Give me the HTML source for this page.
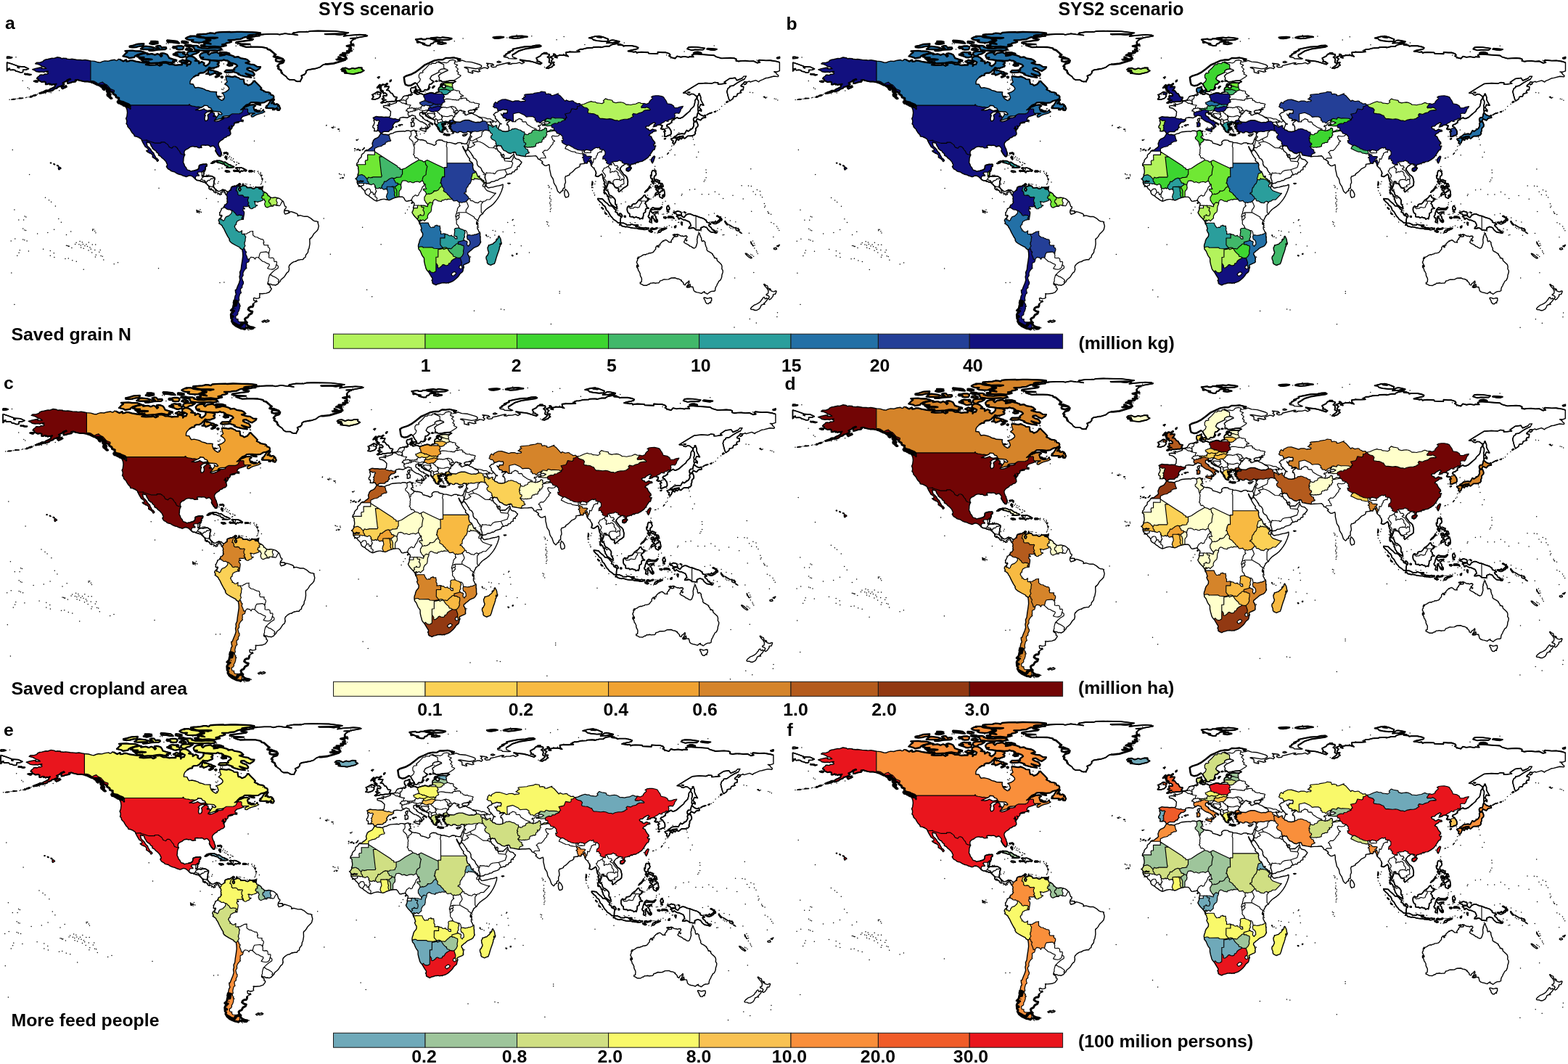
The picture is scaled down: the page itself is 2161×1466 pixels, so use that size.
<!DOCTYPE html>
<html lang="en"><head><meta charset="utf-8"><title>Figure</title>
<style>
html,body{margin:0;padding:0;background:#fff}
body{width:2161px;height:1466px;overflow:hidden;position:relative}
svg{position:absolute;left:0;top:0;display:block}
text{font-family:"Liberation Sans",Arial,Helvetica,sans-serif;font-weight:bold;fill:#000}
.ln{fill:none;stroke:#000;stroke-width:1.15;stroke-linejoin:round;stroke-linecap:round}
.cs{fill:none;stroke:#000;stroke-width:1.4;stroke-linejoin:round}
.lg rect{stroke:#1a1a1a;stroke-width:1}
</style></head><body>
<svg xmlns="http://www.w3.org/2000/svg" width="2161" height="1466" viewBox="0 0 2161 1466">
<defs>
<g id="world"><path class="cs" d="M78.8,78.8L83.3,79.5L85.5,80.8L86.8,80.2L91.8,80.4L91.6,81.1L96.1,81.6L99.1,81.3L105.4,82.2L111.0,82.5L113.3,82.9L117.3,82.4L121.8,83.3L124.9,83.9L130.5,84.4L135.1,85.8L138.2,86.1L140.8,84.9L144.4,83.9L148.8,84.3L153.2,83.0L158.1,82.3L160.1,83.5L162.3,82.8L163.0,81.4L165.0,81.7L170.0,84.4L174.0,82.4L174.4,84.6L178.0,84.2L179.1,83.3L182.7,83.4L187.2,84.7L194.1,85.8L198.2,86.3L201.1,86.1L205.1,87.6L200.9,89.1L206.3,89.7L214.3,89.3L216.8,88.8L219.9,90.6L223.2,89.1L220.1,87.8L222.0,86.8L225.6,86.7L228.0,86.4L230.4,87.1L233.4,88.7L236.7,88.5L241.9,89.8L246.5,89.3L250.8,89.4L250.5,87.6L253.1,87.0L257.7,88.1L257.6,90.9L259.5,88.5L261.9,88.6L263.3,85.6L260.1,83.8L256.6,82.6L256.9,79.3L260.4,77.2L264.3,77.6L267.3,78.9L271.3,82.3L268.7,83.7L274.2,84.3L274.2,87.4L278.1,85.0L281.6,86.9L280.7,89.1L283.6,91.1L286.7,89.0L288.9,86.5L289.0,83.2L293.2,83.4L297.6,83.9L301.6,85.3L301.8,86.8L299.6,88.4L301.6,89.9L301.2,91.4L295.5,93.5L291.3,93.9L288.3,93.0L287.4,94.5L284.6,97.0L283.7,98.3L280.3,100.3L276.0,100.5L273.7,101.7L273.5,103.7L270.1,104.0L266.4,106.4L263.2,109.7L262.1,112.1L261.9,115.5L266.3,116.0L267.6,118.8L269.0,121.0L273.1,120.4L278.6,121.7L281.6,122.8L283.7,124.2L287.4,125.0L290.5,126.3L295.4,126.5L298.6,126.7L298.1,129.3L299.1,132.3L301.2,135.6L305.6,138.4L307.9,137.4L309.5,134.4L308.0,129.7L305.9,128.2L310.6,126.8L313.9,124.7L315.6,122.7L315.4,120.7L313.3,118.2L309.7,115.9L313.2,112.8L312.0,110.2L311.0,105.5L313.0,104.9L318.1,105.7L321.1,106.0L323.6,105.2L326.3,106.2L330.0,107.9L330.9,109.0L336.2,109.3L336.1,111.7L337.0,115.5L339.8,115.9L341.9,117.7L346.2,116.0L349.0,112.8L351.0,111.4L353.3,114.1L357.1,117.8L360.4,121.4L359.2,123.2L363.1,124.9L365.8,126.6L370.5,127.3L372.4,128.3L373.6,130.8L375.9,131.2L377.1,132.3L377.3,135.6L375.1,136.7L373.0,137.8L368.2,138.8L364.4,141.2L359.4,141.7L353.1,141.1L348.7,141.1L345.6,141.3L343.1,143.4L339.3,144.7L335.1,148.6L331.7,151.3L334.2,150.8L338.9,147.0L345.1,144.5L349.6,144.2L352.2,145.7L349.4,147.7L350.3,150.8L351.3,153.1L355.1,154.5L360.0,154.1L363.0,150.8L363.2,152.9L365.1,154.0L361.4,155.9L354.9,157.7L351.9,158.9L348.7,161.0L346.4,160.8L346.3,158.3L351.4,155.9L346.7,156.0L343.4,156.3L343.9,157.3L340.8,158.7L337.7,159.7L334.6,160.6L333.0,162.4L332.5,163.0L332.5,164.6L333.5,166.2L334.7,166.2L334.4,165.1L335.3,165.8L335.0,166.7L333.0,167.1L331.6,167.1L329.4,167.6L328.1,167.7L326.4,167.9L324.0,168.8L328.3,168.2L329.2,168.8L325.0,169.6L323.2,169.6L323.3,169.3L322.3,170.1L323.2,170.2L322.6,172.4L320.4,174.6L320.2,173.9L319.6,173.7L318.6,173.0L319.2,174.6L319.9,175.1L320.0,176.2L319.0,177.4L317.4,179.7L317.1,179.6L318.0,177.6L316.5,176.5L316.2,174.0L315.6,175.3L316.2,177.2L314.3,176.7L316.3,177.6L316.4,180.5L317.3,180.7L317.6,181.7L318.0,184.6L316.1,186.8L313.1,187.7L311.1,189.4L309.6,189.6L308.1,190.7L307.7,191.7L304.5,193.6L302.8,195.1L301.4,196.8L301.0,198.9L301.5,200.9L302.5,203.5L303.8,205.6L303.8,206.8L305.2,210.3L305.1,212.2L305.0,213.4L304.2,215.2L303.3,215.6L301.9,215.2L301.4,213.9L300.3,213.3L298.7,210.7L297.3,208.4L296.9,207.3L297.5,205.3L296.7,203.7L294.4,201.2L293.2,200.8L290.2,202.1L289.7,202.0L288.3,200.6L286.4,199.9L283.1,200.3L280.5,199.9L278.2,200.1L277.0,200.6L277.5,201.4L277.5,202.6L278.1,203.1L277.5,203.5L276.4,203.1L275.3,203.7L273.2,203.6L271.0,202.0L268.4,202.4L266.2,201.7L264.4,201.9L261.9,202.6L259.2,204.8L256.3,206.0L254.7,207.5L254.0,208.8L253.9,210.8L254.1,212.2L254.7,213.3L253.5,215.9L253.0,218.0L252.8,221.9L252.5,223.4L253.0,225.0L253.9,226.4L254.5,228.7L256.5,230.9L257.2,232.6L258.3,234.1L261.5,234.9L262.7,236.1L265.3,235.3L267.5,235.0L269.7,234.4L271.6,233.9L273.5,232.7L274.2,231.0L274.4,228.5L275.0,227.6L277.0,226.9L280.1,226.2L282.7,226.3L284.5,226.0L285.2,226.7L285.1,228.1L283.5,229.8L282.8,231.6L283.4,232.2L282.9,233.4L282.2,235.7L281.4,235.0L280.8,235.0L280.8,235.5L281.4,236.3L280.8,237.6L281.0,239.3L280.6,240.9L280.1,241.6L278.9,242.7L279.9,243.3L281.0,243.2L282.0,242.8L282.8,242.8L283.6,242.9L284.9,243.1L286.3,243.1L287.6,242.4L289.3,242.7L290.6,242.4L292.4,242.9L294.2,244.1L295.3,244.6L296.0,245.4L295.8,245.7L295.7,246.3L296.0,247.4L295.3,248.4L294.9,249.6L294.9,250.9L295.0,251.7L294.6,253.3L294.4,254.6L294.6,255.3L293.9,256.1L294.1,256.9L294.5,257.4L295.3,259.0L296.4,260.2L297.8,261.4L298.9,262.5L298.8,263.1L300.0,263.3L300.3,263.0L301.1,263.7L302.5,263.5L303.8,262.8L305.6,262.2L306.6,261.3L308.3,261.5L308.1,261.8L309.8,261.9L311.1,262.4L312.1,263.3L313.2,264.1L314.7,264.2L316.9,262.1L318.2,261.8L318.2,260.8L318.7,258.3L320.4,257.0L322.3,256.9L322.5,256.3L324.9,256.5L327.2,255.0L328.3,254.4L329.8,252.9L330.8,253.1L331.6,253.9L331.0,254.9L329.1,255.4L329.2,256.0L330.1,257.3L330.1,258.8L328.8,260.5L329.9,262.9L331.2,262.7L331.9,260.6L330.9,259.5L330.8,257.3L334.5,256.1L334.1,254.7L335.1,253.8L336.2,255.8L338.3,255.9L340.2,257.5L340.3,258.5L342.9,258.5L346.1,258.2L347.8,259.6L350.1,259.9L351.7,259.0L351.7,258.3L355.4,258.1L359.0,258.0L356.4,258.9L357.5,260.3L359.8,260.5L362.1,262.0L362.5,264.3L364.1,264.3L365.2,265.0L367.2,266.1L369.0,268.0L369.1,269.5L370.2,269.6L371.8,271.0L373.0,272.1L376.5,272.6L376.8,272.1L379.2,271.9L382.4,272.7L383.4,273.0L385.6,273.7L388.7,276.2L389.2,277.4L390.2,277.3L390.9,278.9L392.6,284.1L394.2,284.6L394.2,286.6L392.0,289.0L392.9,289.9L398.2,290.4L398.3,293.4L400.5,291.4L404.2,292.5L409.2,294.3L410.6,296.0L410.1,297.6L413.6,296.7L419.3,298.3L423.7,298.2L428.1,300.6L431.9,303.9L434.2,304.8L436.7,304.9L437.8,305.8L438.8,309.6L439.3,311.4L438.1,316.3L436.6,318.2L432.4,322.3L430.5,325.7L428.4,328.2L427.6,328.3L426.8,330.4L427.0,336.0L426.2,340.6L425.8,342.5L424.9,343.7L424.4,347.6L421.4,351.5L420.9,354.5L418.5,355.8L417.8,357.6L414.6,357.6L409.9,358.7L407.9,360.0L404.5,360.9L401.1,363.2L398.5,366.2L398.1,368.4L398.6,370.0L398.1,373.0L397.4,374.4L395.3,376.0L392.0,381.2L389.4,383.6L387.4,385.0L386.1,387.8L384.1,389.5L382.8,391.4L379.5,393.0L377.3,392.4L375.7,392.7L373.0,391.4L371.0,391.5L369.2,389.9L369.0,391.4L372.7,394.0L372.3,396.0L374.2,397.3L374.0,398.7L371.2,402.5L366.8,404.1L360.9,404.7L357.6,404.4L358.2,406.2L357.6,408.4L358.2,409.9L356.4,410.9L353.4,411.4L350.5,410.3L349.4,411.0L349.8,414.0L351.8,414.9L353.4,413.9L354.3,415.5L351.6,416.4L349.2,418.2L348.8,421.2L348.0,422.8L345.3,422.8L343.0,424.3L342.1,426.5L345.0,428.7L347.8,429.3L346.8,431.9L343.3,433.6L341.4,437.1L338.7,438.2L337.5,439.6L338.4,442.7L340.4,444.4L339.2,444.2L336.5,444.2L335.1,445.0L332.4,446.0L332.0,448.8L330.7,448.9L327.4,447.9L324.0,445.8L320.3,444.1L319.4,442.3L320.2,440.5L318.7,438.6L318.3,433.5L319.6,430.7L322.7,428.4L318.3,427.6L321.1,424.9L322.1,420.0L325.4,421.0L326.9,414.9L324.9,414.2L324.0,417.9L322.1,417.4L323.0,413.2L324.1,407.7L325.4,405.7L324.6,402.8L324.3,399.5L325.6,399.4L327.4,394.6L329.4,389.9L330.7,385.5L330.0,381.1L330.9,378.6L330.5,375.0L332.2,371.4L332.8,365.7L333.8,359.5L334.7,352.9L334.5,348.1L333.8,343.9L330.9,342.2L330.6,341.0L324.8,338.0L319.4,334.8L317.2,333.0L315.9,330.5L316.4,329.7L313.9,325.8L311.0,320.4L308.2,314.5L307.0,313.1L306.1,310.9L303.8,309.0L301.7,307.8L302.6,306.5L301.2,303.7L302.1,301.6L304.5,299.7L306.0,297.6L305.4,296.3L304.3,297.6L302.5,296.3L303.1,295.5L302.6,292.8L303.6,292.4L304.2,290.5L305.3,288.6L305.1,287.4L306.7,286.8L308.7,285.6L308.3,284.7L309.4,284.5L309.3,283.0L310.0,281.9L311.5,281.7L312.7,279.9L313.8,278.3L312.8,277.6L313.3,275.9L312.7,273.2L313.3,272.4L312.8,269.9L311.6,268.4L310.7,267.5L310.0,265.9L310.7,265.1L310.0,264.9L309.4,263.9L308.0,263.1L306.7,263.3L306.1,264.3L304.9,265.1L304.2,265.2L303.9,265.8L305.4,267.4L304.5,267.8L304.1,268.2L302.7,268.4L302.2,266.6L301.8,267.1L300.9,266.9L300.3,265.7L299.1,265.5L298.3,265.2L297.0,265.2L296.9,265.9L296.6,265.4L295.0,264.7L294.4,264.1L294.7,263.6L294.6,263.0L293.8,262.2L292.6,261.7L291.6,261.3L291.4,260.4L290.6,259.9L290.8,260.7L290.2,261.5L289.6,260.7L288.6,260.4L288.2,259.8L288.2,258.8L288.6,257.9L287.8,257.5L288.5,256.9L287.4,256.0L286.0,254.8L285.4,253.8L284.2,252.9L282.7,251.6L283.0,251.1L283.5,251.6L283.7,251.3L283.2,250.4L282.3,250.2L282.0,250.8L280.3,250.8L279.2,250.5L278.0,249.9L276.3,249.7L275.5,249.1L274.0,248.6L272.1,248.5L270.8,247.9L269.2,246.7L265.8,243.5L264.3,242.6L261.9,241.8L260.3,242.0L257.9,243.2L256.4,243.5L254.3,242.7L252.1,242.1L249.3,240.7L247.1,240.3L243.7,239.0L241.3,237.5L240.5,236.7L238.9,236.6L235.8,235.7L234.6,234.3L231.4,232.6L230.0,230.7L229.3,229.3L230.2,229.0L229.9,228.2L230.6,227.4L230.6,226.4L229.6,225.1L229.4,223.9L228.4,222.4L225.8,219.5L222.8,217.2L221.4,215.3L218.8,214.1L218.3,213.4L218.7,211.6L217.2,210.9L215.5,209.4L214.7,207.4L213.1,207.1L211.4,205.6L210.0,204.2L209.9,203.2L208.3,201.0L207.3,198.7L207.3,197.6L205.2,196.4L204.2,196.6L202.5,195.7L202.0,196.9L202.5,198.4L202.8,200.6L203.8,201.8L206.0,203.8L206.5,204.5L206.9,204.7L207.3,205.7L207.9,205.7L208.5,207.6L209.3,208.3L210.0,209.4L211.8,210.9L212.8,213.7L213.7,215.0L214.5,216.3L214.7,217.9L216.1,218.0L217.3,219.3L218.4,220.7L218.3,221.2L217.1,222.3L216.5,222.3L215.7,220.5L213.8,218.8L211.7,217.4L210.2,216.6L210.3,214.4L209.8,212.8L208.4,211.9L206.4,210.6L206.0,211.0L205.2,210.2L203.4,209.5L201.7,207.8L201.9,207.6L203.1,207.7L204.2,206.6L204.3,205.3L202.0,203.2L200.3,202.4L199.2,200.5L198.1,198.6L196.7,196.2L195.5,193.5L195.0,192.0L193.1,190.4L191.7,190.0L191.4,189.1L189.8,189.0L188.7,188.2L185.9,187.9L185.2,187.4L184.9,185.8L182.0,182.8L179.5,178.7L179.6,178.1L178.3,177.1L176.0,174.6L175.6,172.2L174.0,170.6L174.7,168.1L174.6,165.6L173.6,163.3L174.8,160.5L175.5,155.2L175.0,151.2L174.0,148.7L173.2,147.3L173.5,146.7L177.8,147.7L179.4,150.5L180.1,149.8L179.6,147.3L178.6,144.9L177.6,144.0L172.5,142.0L170.4,140.7L165.0,139.5L163.4,136.9L163.8,135.1L160.0,133.8L159.5,131.4L156.0,129.3L155.9,127.8L154.2,126.6L151.6,125.7L150.8,123.1L147.0,120.7L145.4,118.0L142.6,117.7L137.8,117.7L134.4,116.8L128.3,113.8L125.4,113.2L120.3,112.2L116.2,112.4L110.3,111.0L106.8,109.8L103.6,110.4L104.2,112.5L102.5,112.7L99.1,113.3L96.5,114.3L93.2,114.9L92.8,113.2L94.1,110.2L97.3,109.4L96.5,108.6L92.7,110.2L90.7,112.2L86.4,114.3L88.6,115.8L85.8,117.9L82.6,119.1L79.6,120.0L78.9,121.3L74.3,122.9L73.4,124.2L69.9,125.5L67.9,125.3L65.1,126.1L62.1,127.1L59.6,128.1L54.6,128.9L54.1,128.4L57.3,127.1L60.2,126.1L63.4,124.5L67.1,124.2L68.5,123.0L72.6,121.2L73.3,120.6L75.5,119.6L76.0,117.3L77.5,115.6L74.1,116.5L73.1,116.0L71.5,117.1L69.6,115.6L68.8,116.6L67.7,115.1L64.7,116.3L62.9,116.3L62.7,114.6L63.2,113.5L61.3,112.4L57.4,113.0L54.9,111.6L52.9,110.9L52.9,109.2L50.6,108.0L51.8,106.3L54.2,104.6L55.2,103.1L57.6,102.9L59.6,103.4L62.0,101.9L64.2,102.2L66.4,101.3L65.9,99.9L64.2,99.4L66.4,98.2L64.6,98.3L61.5,98.9L60.6,99.6L58.2,98.9L54.0,99.3L49.7,98.5L48.5,97.4L44.7,95.6L48.9,94.4L55.5,93.0L57.9,93.0L57.5,94.4L63.8,94.3L61.4,92.5L57.7,91.4L55.6,89.9L52.8,88.6L48.7,87.7L50.4,86.2L55.6,86.0L59.3,84.7L60.1,83.3L63.1,81.9L66.0,81.5L71.6,80.2L74.3,80.4ZM634.0,84.2L637.0,83.1L641.9,84.9L650.0,85.6L661.2,89.0L663.5,90.4L663.7,92.3L660.4,93.9L655.5,94.7L642.3,92.4L640.1,92.8L645.0,95.0L645.2,96.3L645.4,99.4L649.2,100.3L651.5,101.0L651.9,99.6L650.1,98.3L652.0,97.2L659.1,99.0L661.6,98.3L659.6,96.1L666.5,93.3L669.3,93.4L672.0,94.5L673.7,92.4L671.3,90.7L672.7,88.9L670.5,87.1L678.8,88.0L680.5,89.7L676.8,90.0L676.8,91.7L679.1,92.7L683.7,92.1L684.4,90.2L690.6,88.8L700.9,86.2L703.1,86.4L700.2,88.2L703.9,88.5L706.0,87.5L711.6,87.4L715.9,86.2L719.3,87.9L722.7,86.0L719.6,84.3L721.1,83.3L729.8,84.2L733.9,85.1L744.7,88.5L746.6,86.9L743.6,85.4L743.6,84.7L740.0,84.5L741.0,83.1L739.4,80.8L739.3,79.8L744.7,77.1L746.7,74.5L748.9,73.9L756.7,74.6L757.3,76.3L754.5,78.7L756.4,79.6L757.3,81.7L756.6,85.7L759.9,87.5L758.6,89.5L752.8,93.7L756.2,94.2L757.4,93.1L760.7,92.3L761.5,90.9L764.0,89.5L762.3,87.8L763.7,85.8L760.4,85.6L759.7,83.9L762.1,81.0L758.2,78.6L763.5,76.6L762.8,74.5L764.3,74.4L765.9,76.1L764.7,78.9L767.9,79.5L766.5,77.3L771.5,76.1L777.6,76.0L783.1,77.7L780.4,75.2L780.1,72.1L785.3,71.5L792.4,71.6L798.8,71.2L796.4,69.7L799.8,67.7L803.3,67.7L809.0,66.2L816.8,65.8L817.8,65.0L825.6,64.7L828.0,65.4L834.6,63.8L840.0,63.8L840.9,62.6L843.7,61.3L850.7,60.1L855.8,61.1L851.7,61.8L858.4,62.3L859.2,63.7L861.9,63.0L870.6,63.0L877.2,64.5L879.6,65.6L878.9,67.1L875.6,68.0L867.8,69.6L865.6,70.5L869.3,70.9L873.7,71.7L876.3,71.1L877.8,73.0L879.1,72.2L883.9,71.8L893.4,72.2L894.1,73.6L906.4,74.1L906.6,71.8L912.9,72.3L917.6,72.3L922.4,73.9L923.7,75.8L922.0,77.0L925.7,79.3L930.4,80.5L933.2,77.4L938.0,78.7L943.0,77.9L948.7,78.9L950.9,78.0L955.7,78.4L953.6,75.7L957.5,74.4L984.2,76.3L986.7,78.1L994.5,80.4L1006.4,79.8L1012.3,80.3L1014.8,81.5L1014.4,83.7L1018.1,84.5L1022.0,83.9L1027.3,83.8L1032.9,84.4L1038.5,84.1L1043.6,86.7L1047.3,85.8L1044.9,83.9L1046.2,82.6L1055.6,83.4L1061.8,83.2L1070.3,84.6L1074.4,85.9L1074.4,97.7L1070.6,99.0L1066.8,98.8L1069.4,100.3L1071.2,102.8L1072.6,103.6L1072.9,104.8L1072.2,105.6L1066.6,105.0L1058.4,107.2L1055.7,107.5L1051.2,109.6L1046.9,111.4L1045.8,112.8L1041.6,110.7L1033.9,113.0L1032.6,111.9L1029.7,113.2L1025.8,112.8L1024.8,114.7L1021.3,117.6L1021.3,118.8L1024.7,119.4L1024.3,123.7L1021.6,123.9L1020.3,126.3L1021.6,127.6L1016.4,129.1L1015.3,132.5L1010.9,133.2L1010.0,136.2L1005.8,139.0L1004.7,136.9L1003.4,132.6L1001.8,126.1L1003.2,121.9L1005.7,120.2L1005.8,118.8L1010.4,118.1L1015.7,114.4L1020.8,111.4L1026.1,109.0L1028.5,104.9L1024.9,105.1L1023.1,107.6L1015.6,110.8L1013.2,107.2L1005.6,108.2L998.2,113.1L1000.6,114.9L994.0,115.7L989.5,116.0L989.7,113.9L985.0,113.4L981.4,114.9L972.4,114.4L962.6,115.2L953.0,121.0L941.7,128.0L946.4,128.4L947.8,130.2L950.7,130.8L952.6,129.4L955.8,129.6L960.1,132.8L960.2,135.3L957.9,138.3L957.6,141.8L956.3,146.5L951.8,150.8L950.9,152.9L946.8,156.3L942.9,159.7L940.9,161.5L937.0,163.2L935.1,163.2L933.3,161.8L929.3,164.0L928.8,164.9L928.4,164.4L927.7,164.8L926.5,165.8L925.6,166.8L925.7,168.9L924.1,169.5L923.6,170.1L922.5,170.9L920.5,171.4L919.2,172.2L919.1,173.5L918.8,173.8L920.0,174.3L921.7,175.6L924.2,179.1L924.9,181.0L925.0,184.4L923.8,186.0L921.2,186.6L918.8,187.8L916.2,188.1L915.8,186.5L916.4,184.3L915.1,181.2L917.3,180.7L915.2,178.1L913.8,177.6L913.4,178.1L912.6,178.4L912.5,177.8L911.7,177.6L910.9,177.1L911.7,175.8L912.4,175.4L912.1,174.9L912.9,173.3L912.7,172.8L911.0,172.5L909.6,171.7L905.4,172.6L903.3,174.0L900.1,174.8L901.7,173.4L901.0,172.2L903.4,170.3L901.8,168.7L899.2,169.8L895.9,171.8L894.1,173.7L891.2,173.9L889.7,175.2L891.2,177.2L893.6,177.7L893.7,179.0L896.1,179.9L899.4,177.8L902.0,178.9L903.9,179.0L904.4,180.6L900.2,181.4L898.9,183.0L896.0,184.5L894.4,186.5L897.6,188.2L898.8,191.1L900.6,193.8L902.6,196.1L902.6,198.2L900.7,199.0L901.4,200.6L903.1,201.6L902.7,203.9L901.9,206.3L900.3,206.5L898.1,209.8L895.7,213.6L893.0,217.2L888.9,219.9L884.8,222.4L881.5,222.7L879.7,224.0L878.6,223.1L877.0,224.5L872.8,226.0L869.7,226.5L868.7,229.6L867.1,229.8L866.3,227.6L867.0,226.5L863.0,225.5L861.6,226.0L857.7,228.5L855.2,231.3L854.5,233.4L856.8,236.5L859.6,240.4L862.3,242.2L864.1,244.5L865.4,250.0L865.0,255.2L862.6,257.2L859.2,259.1L856.8,261.5L853.1,264.3L852.0,262.4L852.8,260.4L850.6,258.7L848.2,258.3L846.9,256.8L845.4,253.7L842.8,252.3L840.3,252.4L840.7,250.1L838.1,250.1L837.9,253.3L836.3,257.6L835.3,260.3L835.5,262.4L837.4,262.5L838.6,265.2L839.2,267.7L840.8,269.4L842.6,269.8L844.1,271.3L844.8,271.6L846.6,273.4L847.8,275.3L848.0,277.3L847.7,278.7L847.9,279.7L848.2,281.5L849.2,282.3L850.4,284.9L850.3,285.9L848.2,286.1L845.4,283.9L841.9,281.5L841.6,280.0L839.9,278.1L839.5,275.6L838.4,274.0L838.7,271.9L838.1,270.6L836.9,269.5L836.4,268.0L834.8,266.3L833.4,264.9L832.9,266.7L832.3,265.0L832.7,263.2L833.5,260.4L833.2,258.1L834.1,255.9L833.2,254.2L833.4,250.9L832.2,249.4L831.2,245.8L830.7,242.1L829.4,239.7L827.5,241.1L824.1,243.3L822.4,243.0L820.6,242.3L821.6,238.6L821.0,235.9L818.7,232.5L819.0,231.4L817.3,231.0L815.2,228.6L814.4,227.1L814.2,225.6L813.6,224.2L812.4,222.4L809.7,222.3L810.0,223.5L809.0,225.2L807.8,224.6L807.3,225.1L806.5,224.8L805.4,224.5L804.9,225.6L802.9,225.6L799.3,226.2L799.4,228.4L797.9,230.2L793.6,232.1L790.3,235.6L788.1,237.5L785.1,239.4L785.1,240.8L783.6,241.5L781.0,242.6L779.6,242.7L778.7,245.0L779.3,248.8L779.5,251.3L778.2,254.1L778.2,259.1L776.7,259.2L775.4,261.5L776.2,262.5L773.6,263.3L772.5,265.3L771.4,266.1L768.6,263.4L767.2,259.3L766.1,256.3L765.0,254.9L763.4,252.1L762.7,248.4L762.2,246.5L759.5,242.4L758.3,236.7L757.4,232.9L757.4,229.4L756.8,226.6L752.6,228.4L750.5,228.0L746.6,224.4L748.0,223.4L747.1,222.2L743.7,219.7L741.5,219.0L740.6,216.8L738.3,214.6L732.9,215.1L728.1,215.2L723.9,215.6L718.4,214.7L715.1,214.0L711.8,213.6L710.5,210.0L709.1,209.5L706.8,210.0L703.9,211.5L700.2,210.5L697.2,208.2L694.4,207.3L692.4,204.6L690.3,200.6L688.7,201.1L686.8,200.1L685.7,201.3L683.9,201.1L684.5,202.4L684.3,203.1L685.2,205.3L686.4,207.9L687.8,208.6L688.3,209.6L690.3,210.8L690.5,212.0L690.2,213.0L690.6,214.0L691.5,214.8L691.9,215.8L692.3,216.6L692.1,214.4L692.9,212.8L693.7,212.5L694.6,213.5L694.7,215.2L694.0,216.9L694.6,218.0L695.1,217.9L695.2,218.7L697.5,218.2L700.0,218.3L701.8,218.4L703.8,216.4L706.0,214.5L707.9,212.7L708.4,213.7L708.8,216.1L710.2,218.1L711.8,219.1L714.0,219.5L715.7,220.1L717.1,221.8L717.9,222.7L718.9,223.1L718.9,223.8L717.8,225.5L717.4,226.4L716.1,227.3L715.0,229.3L713.7,229.2L713.1,229.9L712.6,231.4L712.9,233.3L712.6,233.7L711.3,233.7L709.5,234.8L709.2,236.2L708.5,236.9L706.6,236.9L705.5,237.6L705.5,238.8L704.1,239.6L702.4,239.3L700.5,240.3L699.1,240.5L697.0,241.3L696.4,242.6L696.3,243.6L693.4,244.8L688.6,246.2L686.0,248.3L684.7,248.5L683.8,248.3L682.1,249.5L680.2,250.1L677.7,250.3L677.0,250.4L676.3,251.2L675.5,251.4L675.1,252.2L673.6,252.1L672.7,252.5L670.6,252.3L669.8,250.6L669.9,249.0L669.5,248.2L668.9,246.0L668.0,244.8L668.6,244.6L668.3,243.2L668.7,242.7L668.5,241.4L668.2,240.1L667.3,239.2L667.0,238.1L665.5,237.0L663.9,234.5L663.1,232.1L661.1,230.1L659.7,229.6L657.8,226.8L657.4,224.7L657.6,223.0L655.9,219.7L654.5,218.5L652.9,217.9L651.9,216.2L652.1,215.6L651.2,214.1L650.4,213.4L649.2,211.2L647.4,208.8L645.9,206.8L644.4,206.8L644.9,205.2L645.0,204.1L645.4,202.9L645.3,202.5L644.5,203.7L643.8,206.0L643.0,207.5L642.3,208.0L641.4,207.0L640.0,205.7L637.9,201.5L637.6,201.8L638.8,204.9L640.6,207.8L642.9,212.5L644.0,214.1L644.9,215.7L647.6,219.0L647.0,219.5L647.1,221.4L650.5,224.1L651.1,224.7L652.0,227.6L651.4,228.1L651.8,231.2L652.9,234.7L654.0,235.4L655.6,236.5L657.3,239.9L658.2,242.7L659.8,244.1L663.8,246.9L665.4,248.6L667.1,250.3L668.0,251.3L669.4,252.2L670.1,253.1L670.1,254.3L668.4,255.0L669.6,255.8L670.6,256.4L671.2,257.6L672.5,258.8L674.0,258.8L676.8,258.1L680.0,257.7L682.6,256.8L684.0,256.6L685.1,256.1L686.8,256.0L687.7,255.9L689.1,255.5L690.7,255.2L692.1,254.2L693.2,254.2L693.2,255.0L693.0,256.7L693.0,258.3L692.4,259.3L691.5,262.5L690.1,265.8L688.3,269.6L685.7,273.9L683.2,277.2L679.7,281.2L676.8,283.6L672.4,286.6L669.6,288.8L666.4,292.4L665.7,294.0L665.0,294.7L662.9,295.8L662.2,297.1L661.1,297.3L660.7,299.4L659.7,300.6L659.1,302.6L658.0,303.5L656.6,307.2L656.8,308.8L658.7,309.9L658.8,310.7L657.9,312.5L658.1,313.4L657.9,314.8L659.0,316.6L660.2,319.5L661.3,320.2L661.7,321.5L661.6,324.5L662.0,327.1L662.1,331.7L662.6,333.1L661.7,335.2L660.6,337.3L658.7,339.1L656.0,340.2L652.7,341.7L649.3,344.8L648.2,345.4L646.1,347.5L644.9,348.1L644.6,350.3L646.1,352.5L646.6,354.2L646.7,355.1L647.2,355.0L647.1,357.9L646.6,359.3L647.3,359.8L646.9,361.0L645.6,362.0L643.2,363.0L639.6,364.6L638.3,365.7L638.6,367.0L639.4,367.2L639.1,368.7L638.4,370.9L638.0,373.3L637.2,374.7L635.2,376.2L634.7,376.6L633.4,378.1L632.6,379.6L630.9,381.7L627.6,384.8L625.5,386.5L623.2,387.9L620.2,389.0L618.6,389.2L618.3,390.0L616.5,389.6L615.0,390.1L611.8,389.5L610.0,389.9L608.8,389.8L605.7,390.9L603.2,391.4L601.4,392.5L600.0,392.6L598.8,391.5L597.8,391.5L596.5,390.2L596.4,390.6L596.0,389.8L596.0,388.0L595.0,386.1L596.0,385.5L595.9,383.3L594.0,380.5L592.5,378.0L590.3,374.2L588.1,371.9L587.0,369.8L586.3,366.9L585.6,364.7L584.6,360.2L584.6,356.7L584.2,355.0L583.0,353.8L581.5,351.4L580.0,347.8L579.3,346.0L576.9,343.1L576.7,340.8L576.4,339.0L576.8,336.4L577.9,333.7L578.0,332.4L579.0,329.7L579.7,328.5L581.4,326.6L582.3,325.3L582.6,323.1L582.5,321.4L581.6,320.3L580.8,318.6L580.1,316.8L580.2,316.2L581.2,315.0L580.2,312.2L579.7,310.2L578.2,308.3L578.4,307.7L578.0,306.8L577.2,304.6L574.8,301.5L571.8,298.5L569.8,296.0L568.0,293.0L568.1,292.0L568.8,291.1L569.5,288.9L570.1,286.7L569.5,286.3L570.5,283.0L571.0,280.6L569.8,278.7L568.5,278.2L567.9,276.8L567.1,276.4L567.1,275.6L564.1,276.7L562.9,276.5L561.8,277.2L559.5,277.1L557.9,275.3L556.9,273.1L554.8,271.2L552.6,271.2L550.0,271.2L547.5,271.6L545.1,272.2L540.5,273.9L538.9,274.9L536.2,275.8L533.5,275.0L532.2,275.0L530.1,274.4L528.2,274.4L524.8,275.0L522.7,275.8L519.8,276.9L519.2,276.8L518.4,276.8L515.4,275.4L512.7,273.2L510.1,271.6L508.2,269.6L507.4,269.4L505.2,268.2L503.7,266.7L503.2,265.6L502.8,263.4L501.5,261.7L500.4,260.5L499.6,260.1L498.9,259.5L498.5,258.2L498.1,257.5L497.2,257.1L495.7,255.8L494.4,255.7L493.8,254.8L493.8,254.4L492.9,253.7L492.7,253.1L492.2,250.8L492.6,249.5L491.3,247.2L489.9,246.2L491.2,245.6L492.6,243.5L493.3,242.0L493.0,240.4L493.9,239.0L494.2,236.2L493.9,233.3L493.5,231.8L493.8,230.3L493.1,228.9L491.5,227.6L491.7,226.4L491.8,225.0L492.9,224.2L493.9,222.7L493.7,221.7L494.7,219.6L496.4,217.7L497.4,217.2L498.2,215.5L498.2,213.9L499.3,212.1L501.3,211.0L503.1,208.0L504.7,206.8L507.4,206.5L509.8,204.5L511.2,203.7L513.7,201.3L513.0,197.6L514.1,195.0L514.5,193.5L516.4,191.5L519.4,190.1L521.6,188.9L523.5,185.8L524.5,184.0L526.6,184.0L528.4,185.3L531.2,185.1L534.3,185.7L535.6,185.8L538.4,184.2L541.6,183.6L543.5,182.4L546.3,181.5L551.3,181.0L556.3,180.7L557.7,181.2L560.5,180.0L563.7,180.0L564.9,180.7L566.9,180.5L570.1,179.3L572.2,179.7L572.1,181.2L574.6,180.1L574.8,180.7L573.4,182.1L573.3,183.5L574.4,184.2L574.0,186.8L572.0,188.3L572.6,189.9L574.1,189.9L574.9,191.3L576.0,191.8L579.4,192.8L580.7,192.5L583.2,193.0L587.1,194.3L588.5,197.0L591.1,197.6L595.3,198.8L598.5,200.3L599.9,199.5L601.3,198.1L600.6,195.9L601.5,194.4L603.7,193.0L605.7,192.7L609.7,193.2L610.7,194.6L611.8,194.6L612.8,195.1L615.7,195.4L616.4,196.4L620.4,196.4L623.2,197.1L626.2,198.0L627.5,198.5L629.8,197.5L631.0,196.7L633.6,196.4L635.7,196.8L636.5,198.3L637.2,197.3L639.6,198.0L641.9,198.2L643.4,197.4L644.2,196.5L644.0,196.3L644.8,194.9L645.4,192.7L645.8,191.9L645.9,191.9L646.9,189.5L648.4,187.4L648.5,187.3L648.2,185.1L648.9,183.9L647.8,182.5L649.0,181.4L647.2,181.6L644.7,181.0L642.7,182.7L638.2,183.0L635.8,181.4L632.6,181.3L631.9,182.6L629.9,182.9L627.0,181.3L623.8,181.4L622.0,178.4L619.9,176.8L621.3,174.5L619.4,173.1L622.7,170.3L627.2,170.1L628.5,167.9L634.1,168.3L637.7,166.4L641.1,165.5L646.0,165.5L651.2,167.5L655.4,168.7L658.9,168.2L661.4,168.5L664.9,166.9L665.3,165.7L664.6,163.7L662.9,162.6L661.3,162.3L660.2,161.4L656.4,158.9L653.0,157.7L650.5,156.0L652.6,155.5L655.1,153.1L653.4,151.9L657.8,150.7L657.7,150.0L655.1,150.5L652.7,150.8L650.7,151.7L648.0,151.8L645.4,153.0L645.6,154.8L647.0,155.5L650.1,155.3L649.5,156.4L646.2,156.9L642.2,158.6L640.6,158.0L641.2,156.6L638.0,155.7L638.5,155.2L641.4,154.2L640.5,153.5L635.9,152.8L635.7,151.7L633.0,152.1L631.9,153.7L629.6,155.9L629.6,156.6L628.2,157.3L627.3,157.0L626.5,160.5L624.9,161.8L623.8,163.9L624.8,165.6L625.2,166.7L627.8,167.7L627.2,168.4L623.7,168.5L622.4,169.5L620.0,171.1L619.0,169.7L619.1,169.1L619.8,168.7L617.3,169.0L615.7,168.7L612.1,169.5L614.2,171.1L612.7,171.6L611.0,171.6L609.5,170.1L608.9,170.7L609.6,172.5L611.1,173.9L609.9,174.5L611.6,175.9L613.1,176.8L613.1,178.4L610.4,177.6L611.2,179.2L609.4,179.4L610.5,182.1L608.5,182.1L606.1,180.8L605.0,178.5L604.5,176.5L603.3,175.1L601.8,173.5L601.6,172.6L601.1,172.4L601.0,171.7L599.4,170.8L599.1,169.3L599.4,167.3L599.8,166.4L599.3,165.9L598.7,165.7L597.8,164.8L596.6,164.2L593.8,163.1L592.1,162.0L589.4,161.1L586.9,159.0L587.5,158.7L586.1,157.5L586.1,156.5L584.2,156.0L583.3,157.3L582.4,156.3L582.5,155.3L582.6,155.2L580.9,154.5L578.5,155.6L578.6,157.1L578.3,157.9L579.2,159.4L582.0,160.9L583.5,163.3L586.8,165.7L589.1,165.7L589.8,166.4L589.0,166.9L591.7,168.0L593.8,168.9L596.4,170.4L596.7,171.0L596.1,172.1L594.5,170.7L591.9,170.2L590.7,172.1L592.8,173.2L592.4,174.8L591.2,174.9L589.6,177.4L588.4,177.7L588.4,176.8L589.0,175.2L589.7,174.6L588.5,172.9L587.6,171.4L586.4,171.0L585.5,169.7L583.6,169.2L582.3,168.0L580.1,167.8L577.8,166.5L575.1,164.5L573.1,162.8L572.2,159.9L570.7,159.6L568.3,158.6L566.9,159.0L565.2,160.4L564.0,160.6L561.3,162.3L555.5,161.5L551.2,162.4L550.8,164.2L551.0,165.9L548.2,167.9L544.4,168.5L544.1,169.5L542.3,171.1L541.2,173.5L542.3,175.2L540.6,176.6L540.0,178.5L537.7,179.1L535.6,181.3L531.9,181.4L529.1,181.3L527.2,182.4L526.1,183.5L524.6,183.2L523.5,182.2L522.7,180.5L520.0,180.1L518.8,180.8L517.2,180.4L515.7,180.7L516.1,178.4L515.9,176.6L514.5,176.3L513.8,175.2L514.0,173.3L515.2,172.2L515.4,171.0L516.1,169.3L516.0,168.0L515.4,166.9L515.3,165.9L515.4,163.8L514.2,162.5L518.4,160.4L522.0,161.0L526.0,161.0L529.1,161.5L531.6,161.3L536.4,161.4L537.9,159.6L538.5,153.7L535.4,150.6L533.2,149.1L528.7,148.0L528.4,145.9L532.2,145.2L537.2,146.0L536.3,142.6L539.1,143.9L546.0,141.6L546.9,139.1L549.4,138.6L551.8,138.0L553.3,137.2L555.9,132.8L560.0,131.6L562.4,131.7L563.0,131.0L565.5,130.9L566.0,131.5L568.0,130.1L567.4,128.9L567.2,127.3L566.0,125.6L565.9,122.6L566.4,121.8L567.3,120.9L569.9,120.8L570.9,119.9L573.3,119.1L573.2,120.6L572.3,121.6L572.7,122.4L574.3,122.9L573.6,124.0L572.7,123.7L570.5,125.8L571.3,127.2L571.4,128.4L574.4,129.1L574.4,130.1L577.4,129.5L579.0,128.7L582.4,129.9L583.8,130.8L585.8,130.0L590.4,128.6L594.1,127.6L597.1,128.1L597.3,128.8L600.2,128.9L600.8,127.6L604.9,126.6L604.3,124.1L604.4,121.9L605.8,120.1L608.6,119.0L611.0,121.2L613.3,121.2L613.9,118.9L614.3,117.2L613.2,117.5L611.3,116.5L611.0,114.8L614.8,114.0L618.5,113.6L621.7,114.0L624.8,113.9L628.1,112.3L625.0,110.9L619.7,111.2L614.5,112.2L609.6,112.8L607.9,111.2L605.1,110.3L605.7,107.3L604.3,104.7L605.7,103.0L608.4,101.1L615.2,97.9L617.1,97.3L616.8,96.1L612.7,94.6L607.6,95.5L604.7,97.5L605.2,99.4L600.5,101.7L594.8,104.3L592.6,108.4L594.7,110.5L597.6,112.2L594.9,115.5L591.8,116.2L590.7,121.1L589.0,123.9L585.4,123.6L583.7,126.0L580.3,126.1L579.4,123.3L576.9,120.0L574.6,115.8L572.6,114.0L566.8,117.4L562.9,118.1L558.8,116.6L557.7,113.4L556.8,106.6L559.5,104.7L567.3,102.2L573.1,99.1L578.6,95.0L585.7,89.3L590.6,87.1L598.7,83.4L605.2,82.1L610.1,82.3L614.6,79.8L620.0,79.9L625.3,79.3L634.6,81.5L630.8,82.3ZM9.6,85.9L16.8,88.2L24.6,91.1L24.3,93.0L26.3,93.7L25.6,91.5L33.6,92.0L39.4,94.7L36.5,96.0L31.7,96.3L31.6,99.2L30.4,99.8L27.6,99.8L25.4,98.7L21.5,97.9L20.8,96.6L17.8,96.1L14.4,96.5L12.8,95.4L13.4,94.3L9.9,95.1L11.2,96.4L9.6,97.7ZM403.7,45.5L413.6,43.8L424.0,43.9L427.8,42.8L438.2,42.5L461.8,42.9L480.3,45.2L474.9,46.4L463.6,46.5L447.6,46.8L449.1,47.3L459.6,47.0L468.5,48.0L474.3,47.1L476.7,48.2L473.5,49.9L481.0,48.8L495.4,47.7L504.2,48.2L505.9,49.5L493.8,51.6L492.2,52.3L482.7,52.8L489.6,52.9L486.1,55.1L483.7,57.0L483.8,60.3L487.4,62.2L482.7,62.3L477.9,63.3L483.3,64.8L484.0,67.3L480.9,67.6L484.7,70.1L478.1,70.4L481.6,71.6L480.6,72.6L476.4,73.1L472.3,73.1L476.0,75.1L476.0,76.4L470.2,75.2L468.7,76.0L472.7,76.7L476.5,78.5L477.7,80.9L472.4,81.5L470.1,80.3L466.5,78.6L467.5,80.6L464.0,82.2L471.8,82.3L475.9,82.5L468.0,85.0L459.9,87.4L451.3,88.4L448.0,88.4L444.9,89.5L440.8,92.7L434.5,94.7L432.4,94.8L428.5,95.6L424.2,96.3L421.7,98.1L421.7,100.2L420.2,102.1L415.3,104.5L416.5,106.8L415.2,109.2L413.7,112.1L409.5,112.3L405.2,109.9L399.2,109.9L396.4,108.2L394.4,105.4L389.3,101.7L387.8,99.8L387.4,97.1L383.3,94.4L384.3,92.2L382.4,91.2L385.3,87.7L389.7,86.6L390.9,85.4L391.5,83.1L388.2,84.1L386.5,84.5L383.9,85.0L380.3,84.0L380.0,82.0L381.2,80.4L384.0,80.4L390.0,81.2L384.9,79.3L382.3,78.3L379.3,78.7L376.9,78.0L380.1,75.2L378.3,74.1L376.0,72.1L372.4,68.9L368.7,67.8L368.7,66.5L360.8,64.8L354.5,64.6L346.6,64.7L339.4,64.9L335.9,64.0L330.8,62.1L338.5,61.2L344.5,61.0L331.9,60.3L325.2,59.1L325.6,57.9L336.8,56.5L347.6,55.1L348.8,54.0L340.8,52.9L343.4,51.8L353.6,49.7L357.9,49.4L356.7,48.1L363.7,47.3L372.8,46.8L381.9,46.8L385.1,47.7L392.9,46.1L400.0,47.2L404.2,47.4L410.3,48.4L403.3,46.8ZM499.1,93.3L498.4,95.2L501.7,97.2L497.9,99.5L489.4,101.5L486.8,102.1L482.9,101.6L474.7,100.7L477.6,99.4L471.1,98.0L476.4,97.4L476.2,96.5L470.0,95.8L472.0,93.9L476.5,93.5L481.1,95.5L485.6,93.8L489.3,94.7L494.2,93.1ZM533.1,116.4L530.0,119.6L532.9,119.2L536.2,119.3L535.4,121.6L532.8,124.3L535.8,124.5L538.7,128.3L540.7,128.8L542.5,132.1L543.4,133.3L547.0,133.9L546.6,135.7L545.1,136.6L546.3,138.1L543.6,139.7L539.7,139.7L534.6,140.5L533.2,139.9L531.3,141.3L528.6,140.9L526.5,142.1L524.9,141.5L529.3,138.4L531.9,137.7L527.3,137.3L526.4,136.1L529.5,135.2L527.9,133.6L528.5,131.6L532.9,131.9L533.3,130.2L531.3,128.3L527.7,127.8L527.0,127.0L528.0,125.7L527.1,124.9L525.5,126.3L525.3,123.4L523.8,121.9L524.9,118.8L527.2,116.4L529.5,116.7ZM521.9,135.3L516.7,137.0L512.5,136.6L514.9,133.5L513.3,130.5L517.4,128.2L519.6,126.8L522.1,126.7L525.3,128.5L523.7,130.5L524.2,132.6ZM586.8,54.3L587.9,53.2L592.3,53.2L596.0,54.2L605.7,56.4L598.3,57.6L596.6,59.7L594.0,60.3L592.6,62.7L589.1,62.8L582.7,61.0L585.4,60.0L581.0,59.2L575.2,56.6L572.9,54.3L581.0,53.3L582.6,54.3ZM623.1,53.1L618.7,54.7L610.1,55.1L601.4,54.6L600.9,53.8L596.6,53.7L593.4,52.4L602.5,51.5L606.8,52.2L609.8,51.3L617.3,52.1ZM615.1,59.7L608.5,60.9L603.3,60.2L605.4,59.4L603.6,58.5L609.7,57.9L610.9,59.0ZM694.2,76.9L697.2,76.3L697.1,74.7L703.0,72.1L700.3,71.8L707.4,69.2L706.6,67.8L713.2,66.3L722.9,64.4L732.8,63.8L737.8,62.7L743.6,62.3L745.7,63.5L743.7,64.4L733.2,65.9L724.2,67.3L715.0,70.1L710.6,73.0L705.9,75.8L706.5,78.3L712.2,80.7L710.4,81.0L700.8,80.6L700.0,79.3L694.6,78.5ZM681.0,52.7L685.5,53.0L689.9,52.4L694.3,51.2L689.9,50.6L684.0,50.9L679.5,51.5ZM701.7,51.8L709.1,53.0L716.5,52.4L722.4,51.2L726.9,50.6L719.5,49.5L710.6,49.8L704.7,50.6ZM837.6,56.6L831.2,57.0L822.9,56.1L818.0,55.0L815.8,52.9L811.7,52.3L819.4,50.3L825.8,49.6L831.5,51.1L838.4,54.0ZM846.2,55.4L853.7,57.1L852.8,58.3L836.1,59.4L841.5,55.6L844.0,55.2ZM952.7,64.7L960.5,64.9L971.2,66.4L968.8,68.6L957.9,68.5L953.0,69.2L947.2,67.3L948.8,65.3ZM974.9,66.6L980.4,67.0L987.9,67.8L984.5,69.0L979.7,68.7L974.2,67.6ZM962.2,71.4L966.4,72.6L966.8,73.4L962.3,73.4L956.2,73.0L955.7,72.9L958.5,71.7ZM1074.4,80.4L1071.2,80.5L1070.7,79.6L1074.4,78.4ZM9.6,78.4L9.9,78.2L12.5,78.2L16.7,79.1L16.5,79.5L13.4,80.2L9.6,80.4ZM966.9,139.7L969.9,145.0L965.5,144.0L963.7,148.3L966.6,151.3L966.5,153.4L964.3,151.6L962.3,153.9L961.8,151.4L962.1,148.5L961.7,145.3L962.5,143.1L962.6,139.1L960.8,136.2L961.1,132.2L963.8,130.8L962.7,129.5L964.0,129.0L964.7,131.0L965.8,133.9L965.7,136.7ZM959.0,180.0L957.9,182.3L958.4,183.8L956.9,185.9L953.1,187.3L947.9,187.4L943.7,190.8L941.7,189.7L941.6,187.5L936.4,188.1L932.9,189.5L929.5,189.6L929.1,188.6L932.1,187.0L934.3,185.0L940.2,184.1L943.3,184.7L946.4,179.5L948.4,180.9L952.7,177.9L954.4,176.8L956.3,173.2L955.8,169.8L957.0,168.0L960.2,167.4L961.8,171.5L961.7,173.9L959.0,176.9ZM929.4,189.6L931.6,190.4L932.5,191.7L930.5,196.8L928.6,198.0L927.1,196.9L927.9,194.2L926.0,193.3L924.8,191.3L927.6,190.4ZM938.1,188.2L940.3,188.8L940.6,189.8L939.0,191.6L937.8,190.6L936.2,191.3L935.4,193.1L933.5,192.2L933.6,190.8L935.2,189.1L936.9,189.4ZM967.7,159.2L969.8,159.8L971.9,158.6L972.5,161.9L968.1,162.7L965.5,165.6L960.9,163.6L959.3,166.8L956.0,166.9L955.6,163.9L957.0,161.7L960.2,161.5L961.1,157.4L961.9,155.1L965.4,158.2ZM902.2,217.6L900.5,222.4L899.2,224.8L897.6,222.3L897.3,220.1L899.0,217.2L901.4,214.9L902.7,215.8ZM868.4,234.5L865.8,235.9L863.4,235.0L863.3,232.5L864.8,231.1L868.0,230.3L869.7,230.4L870.4,231.5L869.1,232.8ZM783.9,267.5L783.5,270.6L782.2,271.4L779.7,272.1L778.3,269.7L777.8,265.5L779.1,260.7L781.1,262.3L782.5,264.4ZM688.5,326.5L689.3,327.8L690.1,329.8L690.6,333.3L691.3,334.7L691.0,336.1L690.5,337.0L689.5,335.2L688.9,336.1L689.5,338.3L689.2,339.6L688.4,340.3L688.2,342.7L687.1,346.2L685.6,350.3L683.8,355.9L682.7,360.0L681.3,363.4L678.9,364.1L676.3,365.3L674.6,364.6L672.3,363.5L671.4,362.0L671.3,359.3L670.2,357.0L669.9,354.9L670.5,352.8L671.8,352.2L671.9,351.3L673.2,349.0L673.5,347.1L672.8,345.7L672.3,343.9L672.0,341.1L673.1,339.5L673.5,337.6L674.9,337.5L676.6,336.9L677.7,336.4L679.0,336.3L680.7,334.6L683.1,332.8L684.0,331.3L683.6,330.1L684.8,330.4L686.5,328.4L686.5,326.6L687.5,325.3ZM966.7,330.4L967.7,332.7L969.6,331.6L972.0,334.0L971.7,335.3L972.4,337.8L972.8,339.3L974.3,342.2L974.0,343.7L975.0,345.7L978.2,347.3L980.3,348.7L982.3,350.0L981.9,350.7L983.6,352.5L984.8,355.7L985.9,355.1L987.1,356.4L987.9,355.9L988.4,359.0L990.5,360.9L991.8,362.0L994.2,364.4L995.0,366.7L995.0,368.4L994.8,370.3L996.3,372.8L996.1,375.4L995.6,376.8L994.8,379.4L994.8,381.1L994.2,383.2L992.9,385.9L990.8,387.3L989.7,389.6L988.7,391.1L987.8,393.6L986.7,395.1L985.9,397.3L985.6,399.4L985.7,400.3L984.0,401.3L980.7,401.4L978.0,402.6L976.6,403.8L974.8,405.1L972.4,403.7L970.6,403.2L971.0,401.7L969.4,402.3L966.8,404.4L964.3,403.6L962.6,403.1L960.9,402.9L958.0,402.0L956.1,400.2L955.6,398.0L954.8,395.3L953.4,395.3L950.6,394.9L951.5,393.5L950.8,391.3L949.4,393.4L946.7,393.9L948.3,392.3L948.7,390.6L949.9,389.1L949.6,386.9L947.2,389.4L945.4,390.4L944.3,392.8L942.0,391.6L942.0,390.0L940.2,387.9L938.6,386.8L939.2,386.1L935.4,384.3L933.3,384.2L930.5,382.8L925.2,383.0L921.3,384.9L918.0,385.1L915.2,384.9L912.0,386.4L909.4,387.1L908.9,388.6L907.8,389.8L905.3,389.9L903.4,390.2L900.8,389.6L898.7,390.0L896.6,390.1L894.9,391.7L894.0,391.5L892.6,392.4L891.1,393.3L889.0,393.2L887.0,393.2L883.8,391.3L882.3,390.8L882.3,389.0L883.8,388.7L884.3,388.0L884.2,386.9L884.5,384.9L884.2,383.1L882.6,380.1L882.2,378.4L882.3,376.8L881.1,374.8L881.0,374.0L879.7,372.8L879.4,370.5L877.7,368.1L877.3,366.9L878.6,368.2L877.6,365.4L879.0,366.3L879.9,367.4L879.9,365.9L878.4,363.6L878.1,362.6L877.4,361.7L877.7,360.1L878.4,359.3L878.7,357.8L878.4,356.1L879.7,354.0L879.9,356.2L881.1,354.2L883.5,353.2L885.0,352.0L887.2,350.9L888.6,350.6L889.4,351.0L891.7,349.9L893.5,349.6L894.0,348.9L894.7,348.7L896.4,348.7L899.5,347.9L901.1,346.6L901.9,345.0L903.6,343.5L903.7,342.3L903.8,340.7L905.9,338.2L907.1,340.7L908.4,340.1L907.3,338.8L908.3,337.3L909.6,338.0L909.9,335.7L911.5,334.3L912.3,333.1L913.7,332.6L913.8,331.7L915.1,332.1L915.1,331.4L916.4,330.9L917.9,330.5L920.0,331.9L921.7,333.6L923.6,333.7L925.4,333.9L924.8,332.3L926.2,329.9L927.5,329.2L927.1,328.4L928.4,326.8L930.1,325.7L931.7,326.0L934.2,325.5L934.1,324.0L931.9,323.0L933.5,322.6L935.5,323.3L937.0,324.5L939.5,325.3L940.4,325.0L942.2,325.9L943.9,325.0L945.1,325.3L945.7,324.7L947.1,326.2L946.3,327.8L945.2,329.0L944.2,329.1L944.5,330.2L943.6,331.7L942.6,333.2L942.8,334.0L945.2,335.7L947.5,336.6L949.0,337.6L951.1,339.4L951.9,339.4L953.5,340.1L953.9,341.0L956.8,342.0L958.7,341.0L959.3,339.4L959.9,338.1L960.3,336.5L961.1,334.1L960.7,332.7L961.0,331.9L960.6,330.2L961.0,327.9L961.6,327.3L961.1,326.4L961.8,324.8L962.4,323.2L962.5,322.3L963.6,321.2L964.4,322.7L964.6,324.5L965.3,324.9L965.5,326.1L966.5,327.6L966.8,329.3ZM972.1,410.2L974.9,411.3L976.6,410.9L978.9,410.3L980.6,410.5L980.8,414.0L979.8,415.0L979.5,417.4L978.5,416.6L976.4,418.6L975.8,418.5L974.0,418.4L972.2,415.8L971.8,413.9L970.1,411.3L970.1,410.0ZM1053.8,410.6L1054.5,411.8L1056.6,410.6L1057.4,411.9L1057.4,413.1L1056.3,414.5L1054.4,416.7L1052.9,417.9L1054.0,419.3L1051.7,419.3L1049.1,420.4L1048.4,422.4L1046.7,425.4L1044.4,426.7L1042.9,427.5L1040.2,427.5L1038.2,426.5L1035.0,426.3L1034.5,425.2L1036.1,423.0L1039.8,420.1L1041.8,419.5L1043.9,418.4L1046.4,416.9L1048.2,415.3L1049.5,413.1L1050.6,412.4L1051.1,410.7L1053.1,409.3ZM1058.5,396.6L1060.7,399.7L1060.7,397.6L1062.0,398.4L1062.5,400.7L1064.9,401.6L1066.9,401.9L1068.6,400.7L1070.1,401.1L1069.3,403.7L1068.4,405.4L1066.2,405.4L1065.4,406.3L1065.7,407.5L1065.2,408.1L1064.1,409.7L1062.6,411.7L1060.4,412.9L1059.9,412.1L1058.6,411.7L1060.3,409.3L1059.4,407.6L1056.2,406.5L1056.2,405.4L1058.4,404.4L1058.9,402.1L1058.8,400.2L1057.5,398.2L1057.6,397.6L1056.2,396.4L1053.9,393.8L1052.7,391.7L1053.8,391.5L1055.4,393.2L1057.7,393.9ZM938.8,293.1L939.6,297.9L942.7,299.7L945.1,296.5L948.5,294.7L951.2,294.7L953.7,295.8L955.9,296.8L959.1,297.4L964.2,299.4L969.7,301.1L971.7,302.6L973.4,304.1L973.8,305.9L978.7,307.7L979.5,309.2L976.7,309.6L977.4,311.5L980.0,313.5L981.9,316.6L983.7,316.5L983.5,317.8L985.8,318.3L984.9,318.9L988.1,320.1L987.7,321.0L985.8,321.2L985.0,320.4L982.5,320.1L979.5,319.6L977.2,317.7L975.6,316.1L974.0,313.5L970.1,312.2L967.7,313.1L965.9,314.1L966.2,316.2L963.9,317.3L962.2,316.8L959.2,316.6L956.5,314.2L953.5,313.6L952.8,314.5L949.1,314.6L950.3,312.2L952.2,311.3L951.4,308.1L950.0,305.6L944.3,303.1L941.8,302.9L937.4,300.2L936.5,301.6L935.4,301.8L934.7,300.8L934.7,299.5L932.4,298.0L935.6,297.0L937.7,297.0L937.5,296.2L933.1,296.2L932.0,294.5L929.3,293.9L928.1,292.5L932.1,291.8L933.6,290.8L938.3,292.0ZM890.7,277.5L889.0,280.2L891.2,282.9L890.7,284.3L894.0,287.0L890.5,287.4L889.5,289.4L889.6,292.1L886.8,294.1L886.7,297.0L885.6,301.5L885.1,300.5L881.8,301.8L880.6,300.0L878.5,299.9L877.0,298.9L873.5,300.0L872.4,298.5L870.5,298.7L868.0,298.4L867.6,294.4L866.1,293.6L864.7,291.1L864.3,288.5L864.6,285.7L866.4,283.8L868.6,284.8L870.8,284.2L871.4,281.7L872.7,281.2L876.3,280.5L878.4,278.2L879.8,276.3L881.0,275.2L883.5,273.6L885.8,271.6L887.3,269.3L888.5,269.2L890.0,270.7L890.1,272.0L892.1,272.8L894.5,273.7L894.3,274.9L892.3,275.0L892.9,276.5ZM855.0,307.0L851.7,307.0L849.2,304.6L845.4,302.2L844.2,300.4L841.9,298.0L840.5,295.8L838.2,291.6L835.6,289.2L834.8,286.6L833.7,284.3L831.0,282.5L829.5,279.9L827.2,278.3L824.1,275.0L823.9,273.5L825.8,273.6L830.3,274.2L833.0,277.1L835.3,279.1L836.9,280.3L839.7,283.5L842.7,283.6L845.2,285.6L846.9,288.0L849.2,289.4L848.0,291.8L849.7,292.8L850.7,292.9L851.2,295.0L852.3,296.6L854.4,296.9L855.9,298.7L855.1,302.4ZM863.3,309.7L869.0,310.0L869.6,308.8L875.1,310.2L876.2,312.1L880.6,312.7L884.3,314.4L880.9,315.6L877.6,314.4L875.0,314.5L871.9,314.2L869.1,313.7L865.7,312.6L863.5,312.3L862.3,312.7L856.9,311.4L856.4,310.1L853.7,309.9L855.7,307.1L859.3,307.3L861.7,308.5L862.9,308.7ZM912.5,285.5L910.1,288.4L907.9,289.0L905.0,288.4L900.1,288.6L897.5,289.0L897.1,291.2L899.7,293.9L901.3,292.5L906.8,291.5L906.6,292.9L905.3,292.4L904.0,294.2L901.4,295.3L904.2,299.1L903.7,300.1L906.3,303.5L906.3,305.5L904.7,306.3L903.6,305.3L905.0,302.9L902.1,304.0L901.4,303.2L901.8,302.1L899.6,300.3L899.8,297.5L897.9,298.4L898.1,301.8L898.2,306.0L896.4,306.5L895.1,305.6L895.9,302.9L895.5,300.0L894.2,300.0L893.3,298.0L894.5,296.1L894.9,293.7L896.5,289.3L897.1,288.0L899.6,285.8L901.9,286.7L905.6,287.1L909.0,287.0L912.0,284.9ZM911.7,316.0L912.0,315.3L914.6,314.6L916.6,314.5L917.5,314.1L918.7,314.5L917.6,315.3L914.5,316.6L912.0,317.4L910.1,319.7L907.5,320.3L907.2,320.0L907.5,319.0L908.7,317.2ZM896.7,314.7L899.0,314.1L900.8,315.0L902.9,314.7L905.5,313.6L905.1,315.3L900.7,316.1L896.7,315.7ZM887.3,314.5L889.9,313.6L891.9,314.4L894.0,314.2L893.9,315.4L891.8,315.9L888.9,316.4L887.3,316.4ZM894.0,317.5L897.0,317.2L899.3,319.2L897.6,320.0L894.9,318.7ZM881.0,313.6L883.9,313.6L886.9,314.2L886.6,316.0L884.8,315.7L882.8,315.7L881.0,314.5ZM920.6,283.2L922.7,286.4L922.5,288.9L921.0,288.6L920.5,290.4L921.7,292.0L920.9,292.4L919.7,290.5L918.8,286.7L919.4,284.4L920.4,283.3ZM927.9,298.8L929.0,301.1L926.5,299.9L924.1,299.6L922.4,299.8L920.3,299.7L921.0,298.1L924.7,298.0ZM917.7,298.9L918.4,299.9L917.3,300.9L915.2,300.4L914.7,299.1ZM900.9,235.0L902.7,235.9L903.6,235.1L903.9,235.9L903.4,237.1L904.4,239.2L903.6,241.7L901.9,242.6L901.4,245.0L902.1,247.4L903.6,247.7L904.9,247.3L908.6,249.0L908.4,250.6L909.3,251.3L909.0,252.6L906.7,251.2L905.6,249.7L904.9,250.7L903.0,249.0L900.3,249.4L898.8,248.7L899.0,247.5L899.9,246.8L899.0,246.1L898.6,247.1L897.2,245.5L896.7,244.2L896.6,241.4L897.8,242.3L898.1,237.7L899.1,235.0ZM915.8,264.8L916.1,266.8L916.3,268.5L915.3,271.2L914.2,268.2L912.8,269.6L913.8,271.8L912.9,273.2L909.4,271.5L908.6,269.3L909.5,268.0L907.6,266.6L906.7,267.8L905.3,267.7L903.1,269.3L902.6,268.5L903.8,266.0L905.7,265.1L907.3,264.0L908.3,265.4L910.6,264.6L911.0,263.2L913.1,263.1L913.0,260.9L915.4,262.2L915.6,263.8ZM895.5,256.1L896.0,258.5L894.1,260.1L892.6,262.2L888.6,265.0L890.0,262.9L892.2,261.1L894.0,259.0ZM909.6,252.6L912.4,252.6L913.2,253.8L914.1,257.0L911.8,256.3L911.8,257.3L912.6,259.1L911.2,259.8L911.0,257.7L910.2,257.5L909.7,255.7L911.4,256.0L911.4,254.9ZM906.1,256.7L906.1,255.5L906.7,256.7L907.3,257.4L906.8,259.4L909.0,256.5L908.7,259.3L907.7,260.3L906.8,262.2L905.8,263.0L904.0,261.0L904.6,260.2L905.4,259.4L905.7,257.5ZM902.9,258.8L902.8,257.5L903.0,256.0L904.3,255.5L906.2,255.5L906.1,256.7L904.8,258.0ZM900.7,249.9L901.5,251.1L900.7,253.6L899.4,252.2L897.9,249.9L900.5,250.0ZM298.6,221.2L301.2,221.4L303.5,221.4L306.3,222.4L307.5,223.5L310.2,223.2L311.3,223.9L313.8,225.7L315.7,227.0L316.6,227.0L318.4,227.6L318.2,228.4L320.4,228.6L322.6,229.8L322.2,230.5L320.3,230.8L318.3,231.0L316.2,230.7L312.0,231.0L314.0,229.4L312.8,228.6L310.9,228.4L309.9,227.6L309.1,225.9L307.5,226.0L304.7,225.2L303.8,224.6L300.0,224.1L298.9,223.5L300.0,222.8L297.1,222.7L295.0,224.2L293.8,224.2L293.4,225.0L291.9,225.3L290.7,225.0L292.2,224.1L292.8,223.0L294.2,222.4L295.7,221.8L297.9,221.5ZM329.9,231.5L330.2,231.0L332.5,231.0L334.3,231.7L335.1,231.6L335.6,232.7L337.2,232.6L337.2,233.5L338.5,233.6L339.9,234.7L338.8,235.9L337.4,235.3L336.1,235.4L335.1,235.2L334.6,235.8L333.4,236.0L333.0,235.2L332.0,235.7L330.8,237.7L330.0,237.2L329.9,236.4L327.9,235.9L326.5,236.1L324.7,235.9L323.3,236.4L321.7,235.5L322.0,234.6L324.7,234.9L327.0,235.2L328.0,234.5L326.7,233.3L326.7,232.1L324.8,231.7L325.5,230.8L327.3,231.0ZM312.5,235.1L314.5,235.3L316.1,236.0L316.6,236.8L314.5,236.9L313.6,237.4L312.0,236.9L310.3,235.8L310.6,235.2L311.9,235.0ZM345.9,235.0L347.5,235.2L348.0,235.8L347.2,236.6L345.0,236.6L343.3,236.7L343.1,235.4L343.5,235.0ZM312.7,219.5L311.9,219.6L311.2,217.9L310.1,217.1L310.7,215.2L311.6,215.3L312.6,217.8ZM311.8,211.2L308.6,211.6L308.4,210.5L309.8,210.3L311.7,210.4ZM314.2,211.1L313.7,213.2L313.2,212.8L313.2,211.3L311.9,210.1L311.9,209.8ZM359.6,257.9L361.3,257.5L361.9,257.6L361.7,259.8L359.3,260.1L358.8,259.9L359.6,259.1ZM339.0,445.3L340.1,446.6L341.6,448.8L345.4,450.6L349.6,451.3L348.3,452.8L345.4,453.0L343.9,451.9L342.2,451.8L339.0,451.8L337.2,453.7L335.1,452.8L332.0,452.4L328.3,450.7L325.2,449.2L321.2,445.8L323.6,446.5L327.8,448.4L331.7,449.5L333.2,448.1L334.1,446.1L336.9,444.9ZM361.0,442.9L364.5,441.1L367.0,441.9L368.8,440.7L371.2,442.0L370.3,443.1L366.3,444.0L365.0,442.9L362.4,444.2ZM376.0,139.9L374.0,142.5L375.9,141.5L377.9,142.1L376.9,143.2L379.5,144.0L380.9,143.3L383.8,144.2L382.9,146.3L385.0,145.8L385.3,147.4L386.3,149.2L385.0,151.8L383.7,151.9L381.7,151.4L382.4,149.0L381.6,148.6L378.1,151.2L376.4,151.1L378.5,149.7L375.6,149.0L372.4,149.1L366.7,149.0L366.2,148.2L368.1,147.1L366.8,146.3L369.3,144.5L372.3,139.8L374.2,138.1L376.7,137.1L378.1,137.3L377.5,138.0ZM176.7,146.4L175.2,146.8L170.3,145.4L169.4,144.4L166.8,143.3L166.2,142.5L163.2,142.0L162.1,140.4L162.3,139.7L165.4,140.3L167.2,140.8L170.0,141.1L171.0,142.1L172.5,143.5L175.4,144.7ZM149.4,130.0L152.3,129.8L151.4,133.1L154.0,135.5L152.8,135.5L151.0,134.1L149.9,132.8L148.4,131.9L147.9,130.6L148.1,129.6ZM88.7,118.4L90.7,118.6L92.0,119.5L89.4,120.9L86.4,122.1L84.9,121.3L84.5,119.9L87.2,118.8ZM34.0,101.2L35.9,101.8L37.7,101.5L40.1,102.3L43.0,102.6L42.8,103.0L40.5,103.6L38.3,103.0L37.2,102.4L34.6,102.6L33.8,102.3ZM52.2,112.7L50.4,113.1L48.5,112.6L46.7,111.8L49.6,111.3L51.9,111.5ZM81.9,233.3L81.5,233.8L80.7,233.4L80.8,232.6L80.3,231.5L80.5,231.2L81.0,230.7L80.8,230.1L81.0,229.8L82.9,230.6L83.3,231.0L84.1,232.0ZM80.3,228.7L79.3,228.9L78.8,228.3L78.5,228.1L78.5,227.9L78.7,227.6L79.8,227.9L80.6,228.4ZM75.7,226.7L75.5,226.9L74.3,226.7L73.9,226.0L73.8,225.9L74.5,225.5L74.8,225.7ZM70.6,224.7L70.3,225.0L69.3,224.5L69.5,224.3L69.9,224.0L70.6,224.1ZM351.1,142.3L352.2,142.1L356.1,142.8L359.1,144.0L359.2,144.6L357.7,144.6L353.9,143.7ZM352.7,150.7L353.7,152.1L355.8,152.5L358.6,152.5L357.1,153.7L356.0,153.9L352.3,152.6L351.5,151.6ZM290.1,95.7L290.6,97.0L292.2,96.5L293.9,97.3L297.1,98.3L300.5,99.2L300.8,100.6L302.9,100.4L305.1,101.4L302.4,102.3L297.8,101.6L296.2,100.3L293.2,101.9L289.0,103.4L288.0,101.6L284.0,101.9L286.6,100.5L287.0,98.2L288.0,95.4ZM286.0,73.5L288.3,75.4L291.0,73.0L298.5,71.8L303.6,74.8L303.1,76.8L309.0,75.9L311.8,74.7L318.3,76.2L322.4,77.6L322.8,78.9L328.3,78.2L331.4,80.1L338.5,81.3L341.1,82.5L343.9,85.2L338.5,86.6L345.4,88.6L350.1,89.2L354.4,91.9L359.0,92.1L358.1,94.2L352.9,97.6L349.3,96.4L344.6,93.5L340.8,93.9L340.4,95.6L343.5,97.3L347.6,98.7L348.8,99.5L350.7,102.4L349.7,104.5L345.9,103.7L338.5,101.3L342.7,103.9L345.8,105.7L346.3,106.7L338.3,105.5L331.9,103.8L328.3,102.4L329.3,101.5L324.9,100.0L320.7,98.6L320.7,99.4L312.1,99.9L309.6,98.9L311.6,96.7L317.1,96.6L323.2,96.3L322.3,95.2L323.3,93.8L327.1,90.9L326.3,89.6L325.1,88.6L320.6,87.1L314.6,86.1L316.5,85.4L313.4,83.5L310.8,83.4L308.4,82.3L306.9,83.2L301.5,83.6L290.7,82.9L284.5,82.1L279.7,81.6L277.2,80.6L280.3,79.2L276.1,79.2L275.2,76.2L277.4,73.6L280.5,72.4L288.1,71.6ZM204.3,73.6L202.8,75.0L209.4,74.1L213.5,75.6L216.9,74.1L219.5,75.1L222.0,78.0L223.5,76.7L221.4,73.7L224.0,73.3L226.9,73.7L230.2,75.0L232.1,77.8L233.0,79.9L237.9,81.4L243.3,82.8L243.0,84.1L238.1,84.3L240.0,85.5L239.0,86.5L233.7,86.1L228.6,85.3L225.1,85.5L219.6,86.5L212.1,86.9L206.8,87.2L205.2,85.8L201.2,85.0L198.5,85.3L194.9,83.0L196.9,82.6L201.4,82.1L205.6,82.3L209.5,81.8L203.8,81.1L197.4,81.3L193.3,81.3L191.7,80.2L198.5,79.0L194.0,79.0L188.8,78.2L191.3,76.0L193.3,74.8L201.3,73.1ZM185.7,78.8L177.9,80.2L176.3,78.9L169.5,77.3L170.8,76.1L172.8,73.9L175.4,72.0L172.5,70.2L182.5,69.7L186.7,70.3L194.3,70.5L197.2,71.3L200.3,72.6L196.6,73.3L189.3,75.4L185.7,77.5ZM271.1,47.7L275.5,47.1L278.9,47.0L284.7,46.6L289.1,45.5L292.8,45.6L296.0,46.4L298.2,44.8L302.1,44.4L307.4,44.1L316.5,43.9L318.0,44.3L326.6,43.8L333.0,43.9L339.4,44.1L347.3,44.3L353.6,44.7L359.0,45.5L358.9,46.3L351.7,47.6L344.6,48.2L341.9,48.9L348.3,48.8L341.3,50.6L336.5,51.5L331.4,53.9L325.4,54.4L323.5,55.0L314.5,55.3L318.6,55.7L316.5,56.2L319.0,57.6L316.2,58.7L311.6,59.5L310.2,60.7L306.1,61.5L306.5,62.2L311.5,62.1L311.6,62.8L303.7,64.6L296.0,63.8L287.3,64.2L282.9,63.9L277.3,63.7L276.9,62.3L282.4,61.6L280.9,59.5L282.7,59.3L290.6,60.6L286.6,58.7L281.8,58.1L284.2,57.0L289.4,56.3L290.3,55.2L286.1,54.1L284.9,52.6L292.9,52.7L295.3,53.0L299.9,51.9L293.2,51.6L282.9,51.8L277.6,50.8L275.2,49.6L271.7,48.7ZM306.0,68.4L303.9,69.0L299.7,69.8L295.9,69.3L287.3,69.8L281.1,69.8L276.4,69.6L268.7,68.7L267.5,66.9L267.2,65.4L264.2,64.2L258.0,63.9L254.8,62.8L256.0,61.6L261.9,61.9L265.1,62.8L271.0,62.8L273.7,63.9L272.8,64.8L276.4,65.7L278.1,66.3L282.3,66.3L286.4,66.6L291.2,66.0L297.1,65.7L302.1,66.0L305.1,67.2ZM245.2,71.5L248.7,72.1L253.9,71.7L254.7,72.6L252.0,74.0L256.4,75.3L255.9,77.9L251.1,79.1L248.2,78.8L246.2,77.7L238.8,75.4L238.9,74.5L244.9,74.8L241.6,72.9ZM266.3,74.7L263.1,76.9L259.8,76.8L257.9,74.2L258.0,72.7L259.5,71.4L262.5,70.6L268.6,70.7L274.3,71.4L269.9,74.1ZM246.8,84.6L249.5,83.7L251.5,82.4L254.6,83.3L256.4,83.8L257.3,84.4L259.1,85.5L257.2,86.5L253.2,85.6L250.8,86.0ZM221.9,64.5L223.1,65.6L225.7,65.1L228.8,65.2L229.3,66.7L227.5,68.0L217.5,68.5L210.1,69.8L205.6,69.9L205.2,68.9L211.3,67.6L198.0,68.0L193.8,67.4L197.8,64.5L200.6,63.7L209.0,64.7L214.2,66.4L219.4,66.7L215.1,63.8L217.9,62.8L220.9,63.1ZM244.7,63.3L250.3,63.3L253.0,64.4L253.0,65.9L251.6,68.1L246.8,68.4L243.6,67.9L243.7,66.2L238.8,66.4L238.6,64.1L241.8,64.2ZM284.6,54.3L288.2,55.3L284.1,56.1L278.6,58.4L273.4,58.6L267.3,58.2L264.1,57.0L264.1,55.9L266.5,55.1L261.1,55.2L257.8,54.2L255.9,52.8L258.0,51.5L260.0,50.6L263.1,50.4L261.8,49.7L268.7,49.6L272.4,51.2L277.4,51.8L282.3,52.4ZM189.7,60.7L198.3,60.2L197.9,62.5L195.6,63.6L192.8,63.7L187.3,65.0L182.6,65.4L178.6,64.8L178.6,63.6L183.6,62.6ZM229.9,55.4L235.8,55.8L243.8,56.8L245.9,58.3L247.1,59.5L242.4,59.2L237.6,58.3L230.8,58.0L233.8,57.1L230.2,56.6ZM250.3,56.6L255.7,57.0L259.2,58.0L258.6,59.1L254.2,59.7L251.8,58.9L250.5,57.9ZM206.3,59.2L216.6,58.3L217.8,59.4L216.0,60.1L210.7,61.0L206.3,60.1ZM207.7,56.8L214.0,56.8L217.5,57.4L214.0,58.0L209.2,58.0ZM257.1,66.9L261.3,66.2L265.1,68.1L263.4,69.3L259.2,69.1L255.7,68.3ZM302.7,71.9L311.3,72.1L316.3,73.7L316.5,74.5L313.3,74.4L310.1,74.3L306.8,74.8L306.0,74.6L302.8,73.0ZM296.2,106.0L299.7,103.8L302.4,104.4L299.8,105.6L297.7,106.5ZM304.5,106.2L305.6,105.3L307.5,106.0L306.4,107.6L305.1,107.3L304.3,106.4ZM300.3,132.5L302.4,132.5L304.5,133.4L302.4,133.8L300.0,133.2ZM587.9,176.7L586.8,179.1L587.3,180.0L586.7,181.5L584.4,180.4L582.9,180.1L578.8,178.6L579.2,177.0L582.6,177.3L585.7,177.0ZM569.2,167.9L571.0,170.0L570.6,173.9L569.2,173.7L568.1,174.7L566.9,174.0L566.8,170.4L566.1,168.7L567.8,168.8ZM570.3,165.1L569.3,167.4L568.0,166.8L567.3,164.8L567.9,163.7L569.8,162.6ZM612.1,184.2L613.7,185.2L616.0,185.0L618.2,185.2L618.2,185.7L619.8,185.4L619.4,186.3L615.1,186.5L615.2,186.0L611.5,185.4ZM638.8,185.9L639.0,185.8L639.5,185.1L641.6,185.2L644.3,184.3L642.3,185.5L642.6,186.3L639.6,187.5L638.1,187.2L637.4,186.0ZM549.0,172.7L551.2,171.6L552.2,172.2L551.2,173.6L549.8,173.0ZM553.2,171.4L554.7,171.6L554.6,172.0L553.3,171.7ZM545.5,174.6L546.7,174.2L546.7,174.9L545.8,174.9ZM610.6,174.8L613.3,175.6L614.8,177.4L613.0,176.8L610.9,175.3ZM623.9,182.9L625.4,182.0L625.1,183.0L624.2,183.6ZM618.6,173.6L620.7,173.4L620.1,174.5L618.5,174.2ZM579.5,125.4L577.8,127.8L574.7,126.1L574.2,124.9L578.6,123.9ZM571.0,125.7L573.8,125.5L573.9,126.9L571.9,127.0ZM595.5,121.0L597.6,118.5L599.1,118.6L597.9,120.1L596.4,121.4ZM590.5,123.6L592.0,121.3L592.6,120.2L591.4,122.2ZM606.6,117.4L608.0,116.5L610.6,116.5L610.0,117.4L607.4,118.5ZM607.4,115.7L608.9,115.1L610.2,115.8L608.9,116.2ZM600.0,111.8L601.8,111.2L602.6,112.1L600.9,112.4ZM537.3,112.7L538.7,111.8L539.3,110.2L537.6,110.9ZM531.9,115.7L534.0,114.8L534.3,115.8ZM519.5,121.3L521.0,119.5L523.7,116.8L522.2,118.0L520.7,120.1ZM522.2,120.1L524.0,119.3L525.1,120.7L523.4,121.0ZM520.1,106.8L522.2,105.6L523.4,105.9L521.6,107.7ZM1032.4,352.0L1034.8,353.8L1036.3,355.2L1035.2,355.9L1033.6,355.1L1031.5,353.8L1029.6,352.2L1027.6,350.1L1027.2,349.1L1028.5,349.2L1030.1,350.2L1031.4,351.2ZM991.6,305.9L990.0,306.1L989.5,307.0L987.9,307.7L986.4,308.4L984.8,308.4L982.4,307.5L980.7,306.7L981.0,305.8L983.6,306.2L985.3,306.0L986.1,304.5L986.4,306.0L988.1,305.8L988.9,304.8L990.6,303.8L992.0,302.0L992.6,302.4L992.6,304.1ZM995.0,303.0L994.1,303.8L993.5,302.1L992.8,300.9L991.5,299.9L989.8,298.7L987.7,297.8L988.5,297.1L990.1,297.9L991.1,298.6L992.3,299.3L993.5,300.5L994.6,301.5ZM999.8,305.5L1000.7,306.2L1002.1,308.0L1003.5,309.0L1003.1,309.9L1002.3,310.1L1001.0,309.0L999.7,307.1L999.0,304.9L999.5,304.6ZM1014.1,313.3L1015.3,314.5L1017.9,316.0L1019.1,318.1L1017.6,318.4L1015.0,317.5L1014.1,316.6ZM1004.9,309.5L1007.9,311.3L1010.5,313.0L1014.1,314.5L1012.0,313.9L1007.9,311.9L1004.9,310.1ZM1020.3,319.8L1022.4,321.6L1020.9,321.0L1019.1,319.8ZM1017.1,314.2L1019.1,316.6L1018.2,318.1L1017.1,315.7ZM1034.8,332.8L1036.6,336.7L1035.4,336.1L1034.8,334.0ZM1036.6,337.0L1038.6,338.8L1037.5,338.8ZM1066.5,342.0L1069.7,341.1L1070.6,343.2L1068.2,343.8L1066.5,343.2ZM1070.6,339.0L1074.4,337.3L1072.7,339.9ZM699.7,252.5L701.7,252.2L703.2,252.6L701.1,253.4ZM658.0,306.7L658.8,307.7L658.5,308.9L658.0,308.0ZM567.0,279.5L568.3,278.6L568.3,279.9L567.1,280.2ZM705.4,351.5L706.6,351.5L707.1,352.3L706.2,352.8ZM711.6,349.4L712.8,349.1L712.7,350.1L711.8,350.3ZM669.9,323.4L670.5,324.0L670.4,324.9L669.8,324.3ZM816.2,249.8L817.1,251.3L816.8,254.8L815.6,255.4L815.9,252.5ZM973.9,158.5L976.8,156.7L981.3,155.2L978.3,155.8L974.8,157.6ZM984.2,154.1L986.6,153.2L985.7,154.4ZM1001.4,141.4L1003.7,139.9L1002.3,139.4L1001.1,140.8ZM919.7,212.6L921.5,210.5L920.3,211.4ZM915.3,191.3L917.4,190.7L916.5,191.6ZM853.2,294.4L855.5,294.1L857.6,297.1L857.3,298.7L855.3,298.3L853.8,295.9ZM860.3,297.4L862.1,297.7L862.1,299.0L860.6,299.0ZM829.2,285.6L831.6,287.9L831.0,288.1L829.2,286.4ZM833.7,292.7L835.7,294.7L834.8,294.9L833.7,293.5ZM875.4,310.1L878.9,309.9L879.5,310.4L876.3,311.0ZM942.8,291.8L945.2,293.1L944.0,293.2ZM938.7,306.0L940.4,306.5L939.9,310.1L938.7,308.0ZM929.5,312.2L931.6,311.0L931.3,313.3L929.8,313.6ZM927.4,323.4L930.4,322.8L931.0,324.0L928.3,324.6ZM946.1,395.3L949.0,394.9L950.5,395.8L947.2,396.1ZM945.5,330.5L947.0,331.1L946.1,332.0ZM323.4,413.4L324.6,414.7L324.3,417.7L322.2,417.7L322.8,415.0ZM320.1,434.5L321.3,436.3L319.0,436.9L318.7,435.1ZM391.7,290.3L395.6,290.3L398.5,291.2L397.4,293.8L392.9,295.0L391.7,292.7ZM359.2,241.5L361.0,241.5L360.1,242.6ZM361.0,245.8L362.0,246.6L361.4,247.0ZM471.6,244.5L472.8,245.4L472.2,245.7ZM492.0,205.9L494.1,205.3L493.2,206.8ZM495.3,206.7L496.4,206.5L496.4,207.6L495.3,207.4ZM499.1,206.7L500.9,204.9L502.2,203.4L501.2,205.5ZM488.8,204.6L489.5,204.7L489.2,205.5ZM491.0,192.8L492.6,192.9L492.0,193.2ZM465.5,177.9L467.6,178.0L466.6,178.3ZM457.7,175.8L459.2,176.2L458.0,176.2ZM574.5,57.4L577.5,58.3L575.1,58.6ZM685.2,84.9L687.8,84.3L690.5,85.5L687.5,86.4L685.2,85.8ZM716.5,82.0L720.7,82.8L720.1,83.7L716.5,83.1ZM845.2,58.6L849.6,58.3L852.6,56.8ZM823.0,50.3L830.4,50.9L828.9,51.8L823.0,51.2ZM749.1,72.8L753.5,72.7L753.8,73.7L749.7,73.8ZM1025.6,116.5L1028.9,114.8L1027.1,116.2ZM947.8,126.9L950.8,127.2L949.6,128.1ZM49.5,130.4L45.6,131.6L45.1,132.2L48.0,131.8L49.8,131.0ZM42.7,132.2L43.9,133.4L41.8,133.7ZM27.0,134.9L31.7,135.3L28.8,135.7L25.8,135.9ZM18.7,136.3L21.1,136.6L19.6,137.1L15.8,137.2ZM1053.7,133.1L1052.3,133.4L1054.9,134.9ZM138.5,117.7L142.7,118.3L143.6,120.4L140.9,120.1L138.2,118.6ZM140.9,120.4L143.3,120.7L143.6,123.6L142.1,122.7ZM146.8,123.3L150.4,124.2L151.5,126.6L150.1,128.1L147.4,126.3ZM143.0,117.4L145.6,118.3L145.3,120.7L143.6,119.5ZM145.6,121.3L148.6,121.6L149.5,122.7L146.8,123.0ZM271.3,289.7L272.5,290.6L273.1,292.7L271.3,292.4ZM274.3,291.2L275.2,291.2L274.9,292.1ZM314.2,88.2L320.1,87.9L320.4,90.2L315.7,90.8L313.3,89.6ZM687.2,152.6L689.9,152.0L693.4,150.7L695.8,151.4L698.8,151.3L699.4,153.2L698.5,155.8L693.7,156.0L693.7,157.9L690.8,157.9L692.6,159.7L693.7,162.3L697.3,163.2L697.9,164.4L697.3,166.2L700.8,165.3L703.8,165.6L701.7,167.1L699.1,169.1L698.5,171.5L700.0,171.8L700.8,173.9L701.4,174.6L701.4,179.8L701.1,180.5L696.7,181.3L692.3,180.8L690.2,179.2L687.5,178.6L686.6,176.5L687.5,174.3L688.1,173.3L688.7,170.9L691.1,170.8L688.7,169.7L687.2,167.7L685.8,166.2L682.5,162.7L682.8,160.7L680.1,157.9L683.1,155.0L685.8,154.4L687.2,152.6ZM269.6,151.6L272.2,151.3L274.6,152.1L278.7,151.0L280.8,149.9L282.9,151.3L285.5,152.4L290.6,151.6L292.0,152.3L291.8,150.8L290.6,149.0L287.6,148.0L286.1,145.6L281.1,145.1L280.8,146.4L277.9,147.9L273.4,149.9ZM282.9,166.5L284.9,166.3L286.7,164.4L286.9,160.9L286.1,159.4L287.0,157.6L289.1,156.4L290.6,154.7L291.3,154.4L293.2,155.0L295.3,156.1L295.6,158.5L293.8,160.0L295.0,160.6L296.8,159.5L298.1,162.5L299.1,160.9L300.3,159.4L301.5,157.3L300.6,155.8L303.0,157.6L305.4,157.9L306.0,156.7L303.3,154.1L300.3,153.8L297.1,153.5L293.8,153.5L292.3,153.8L290.3,153.8L287.6,153.9L284.7,154.7L282.6,156.7L281.7,157.9L283.2,158.8L282.3,161.5L282.0,163.8ZM295.3,166.5L298.0,167.4L300.9,166.8L303.9,165.6L308.3,163.5L308.6,162.9L306.0,163.1L303.0,163.7L300.0,164.7L297.7,165.4L296.2,165.0ZM306.0,161.7L308.3,161.9L312.5,161.9L315.7,161.2L316.6,159.4L314.2,159.7L311.6,159.8L308.6,160.1L306.8,160.9Z"/>
<path class="ln" d="M124.9,83.7L124.9,111.5L127.9,111.6L130.7,112.4L132.8,113.7L135.4,115.6L138.3,114.0L141.3,113.0L142.8,114.6L144.8,115.8L147.5,117.1L149.4,119.2L152.4,122.6L157.4,124.5L157.5,126.3L155.9,127.8L155.7,127.9M178.3,144.9L178.6,144.9L260.5,144.9L260.5,143.8L261.5,143.8L262.1,145.4L265.0,146.1L268.1,146.5L270.9,147.4L273.3,147.1L277.0,147.8L277.9,147.8L279.2,147.4M291.1,151.6L291.2,151.9L291.9,152.2L291.8,152.5L292.5,152.6L293.1,152.3L293.3,152.9L293.9,153.4L294.7,153.4L295.0,153.7M299.0,160.7L299.0,161.0L298.2,162.7L296.8,164.3L296.1,165.4L296.1,165.6M308.2,163.2L308.5,163.0L308.6,162.7L308.3,161.8L308.2,161.7M315.6,159.7L315.7,159.6L316.1,159.4L319.2,157.3L320.5,156.7L330.5,156.7L330.8,156.0L331.7,155.8L333.0,155.4L334.0,154.0L334.9,151.7L337.2,149.5L338.2,150.3L340.2,149.8L341.5,150.6L341.5,154.7L343.4,156.3L343.9,156.8M195.3,193.6L195.5,193.5L198.9,193.3L202.7,193.0L202.4,193.6L206.9,195.0L213.6,197.1L219.5,197.1L221.8,197.1L221.8,195.9L226.9,195.9L228.0,196.9L229.5,197.9L231.3,199.2L232.3,200.7L233.0,202.3L234.5,203.2L237.0,204.1L238.9,201.8L241.3,201.7L243.4,202.9L244.8,204.9L245.9,206.6L247.6,208.3L248.3,210.4L249.1,211.8L251.4,212.7L253.5,213.3L254.7,213.3L254.9,213.2M269.0,246.8L269.2,246.7L269.3,245.9L269.6,245.2L269.2,244.6L270.6,242.2L274.4,242.2L274.5,241.2L274.0,241.0L273.7,240.4L272.6,239.7L271.5,238.7L272.8,238.7L272.8,237.0L275.6,237.0L278.3,237.1M278.3,237.1L278.3,236.6L278.6,236.5L279.2,236.9L280.2,235.1L280.8,235.0L281.7,235.0M278.3,237.1L278.3,239.4L278.1,242.7L278.9,242.7L279.3,242.7M281.0,243.2L281.3,242.9M281.7,242.9L281.0,243.2L279.7,244.3L278.3,245.2L278.1,245.8L278.3,246.3L277.7,247.1M277.7,247.1L277.0,247.3L277.2,247.6L276.6,247.9L275.6,248.7L275.5,249.1L275.4,249.3M277.7,247.1L278.6,247.3L279.2,247.9L280.1,248.4L280.2,248.8L281.5,248.4L282.1,248.7L282.5,249.0L282.3,250.2L282.3,250.7M283.5,251.9L283.7,251.3L284.7,251.2L285.0,250.5L285.5,250.5L285.4,249.1L286.1,249.0L286.7,249.0L287.3,248.2L288.2,248.8L288.5,248.4L289.1,248.1L290.1,247.3L290.1,246.7L290.4,246.7L290.8,246.0L291.1,245.9L291.6,246.4L292.2,246.5L292.8,246.1L293.6,246.1L294.6,245.7L295.0,245.3L296.0,245.4L296.2,245.4M287.9,257.2L288.5,256.9L288.9,256.5L290.9,257.3L291.5,257.0L292.5,257.2L293.0,257.8L293.8,258.0L294.5,257.4L294.7,257.3M296.5,265.7L296.6,265.4L296.8,264.8L297.0,264.2L296.9,263.7L297.3,263.3L296.7,262.9L296.7,261.7L297.8,261.4L298.0,261.3M311.5,268.6L311.6,268.4L312.0,266.9L313.0,267.1L313.5,266.2L312.8,264.5L313.2,264.1L313.2,263.9M331.1,254.2L331.0,254.9L329.1,255.4L328.3,256.9L327.2,257.7L326.3,258.8L326.0,260.9L325.2,262.7L326.7,262.8L327.1,264.2L327.7,264.8L328.0,266.1L327.6,267.2L327.7,267.8L328.4,268.0L329.1,269.0L333.0,268.7L334.7,269.1L336.7,271.7L337.9,271.3L340.1,271.5L341.7,271.2L342.8,271.7L342.3,273.3L341.6,274.3L341.4,276.4L342.0,278.4L342.8,279.2L342.9,279.9L341.4,281.4L342.5,282.0L343.3,283.1L344.2,286.0M344.2,286.0L343.6,286.4L343.0,284.6L342.2,283.7L341.2,284.7L335.5,284.6L335.5,286.5L337.2,286.8L337.2,287.9L336.6,287.6L334.9,288.1L334.9,290.3L336.2,291.3L336.7,293.0L336.6,294.3L335.3,302.4M335.3,302.4L333.8,300.8L332.9,300.8L334.8,297.8L332.5,296.4L330.8,296.6L329.7,296.1L328.0,296.9L325.9,296.5L324.1,293.4L322.8,292.7L321.8,291.3L319.8,289.9L319.1,290.1M319.1,290.1L317.8,289.5L316.3,288.5L315.5,288.9L313.0,288.5L312.3,287.2L311.7,287.3L308.7,285.6L308.5,285.5M319.1,290.1L319.5,292.4L318.6,294.3L315.3,297.4L311.7,298.6L309.9,301.1L309.4,303.1L307.7,304.4L306.5,302.8L305.3,302.6L304.1,302.8L304.0,301.7L304.8,301.0L304.5,299.7L304.4,299.5M335.3,302.4L332.6,302.3L332.2,302.7L329.8,303.3L326.4,305.3L326.2,306.7L325.4,307.7L325.7,309.3L323.9,310.1L323.9,311.4L323.1,311.9L324.4,314.6L326.0,316.4L325.4,317.7L327.4,317.8L328.5,319.4L331.1,319.5L333.5,317.7L333.3,322.2L334.7,322.6L336.3,322.1M336.3,322.1L338.9,326.8L338.3,327.8L338.1,329.9L338.0,332.4L336.9,333.9L337.4,335.0L336.7,336.0L338.0,338.5L336.2,341.6M336.2,341.6L335.4,343.2L333.8,343.9L333.6,344.0M336.2,341.6L337.6,343.7L338.0,345.8L339.6,347.1L338.6,349.9L340.2,353.2L341.4,357.3L343.5,356.9M343.5,356.9L343.8,357.6L342.8,360.7L339.6,362.2L339.7,367.1L339.1,368.0L340.0,369.2L337.9,371.0L335.9,373.8L334.9,376.5L335.2,379.4L333.3,382.4L334.7,387.5L335.5,388.0L335.5,390.7L333.8,393.6L333.9,396.1L331.6,398.0L331.6,400.7L332.5,403.6L330.8,404.7L330.0,407.3L329.3,410.4L329.8,414.0L328.6,414.5L329.3,418.0L330.6,419.1L329.6,420.3L331.0,420.9L331.3,422.0L330.0,422.6L330.4,424.3L329.3,428.2L327.7,430.8L328.0,432.2L327.1,434.1L324.8,435.4L325.1,438.6L326.1,439.6L328.1,439.5L328.0,441.7L329.3,443.4L336.4,443.8L339.2,444.2L340.3,444.2M339.0,445.0L339.0,452.1M343.5,356.9L346.0,354.2L349.8,354.9L351.6,357.1L352.7,354.7L356.1,354.8L356.6,355.4M356.6,355.4L357.8,350.3L359.2,347.7L367.1,346.9L369.9,348.4L369.9,349.3M336.3,322.1L338.5,322.3L340.1,322.2L340.7,321.3L343.3,320.2L344.8,319.0L348.7,318.5L348.4,320.8L348.8,321.9L348.5,323.9L351.7,326.5L355.1,327.0L356.2,328.1L358.2,328.7L359.5,329.6L361.3,329.5L363.0,330.4L363.2,332.1L363.8,333.0L363.8,334.3L362.9,334.3L364.0,337.7L369.7,337.9L369.3,339.6L369.6,340.7L371.2,341.6L371.9,343.4L371.4,345.7L370.6,347.0L370.9,348.7L369.9,349.3M369.9,349.3L370.8,351.0L370.6,355.0L373.7,355.5L375.0,355.0L376.9,355.8L377.5,356.7L377.8,359.3L378.1,360.5L379.2,360.6L380.3,360.1L381.4,360.7L381.4,362.3L381.0,364.0L380.4,365.8M356.6,355.4L362.0,360.3L364.4,360.7L368.0,362.9L371.1,364.0L371.5,365.3L368.6,369.8L371.6,370.7L374.9,371.1L377.2,370.6L379.9,368.4L380.4,365.8M380.4,365.8L381.9,365.2L383.4,366.9L383.3,369.2L380.8,370.9L378.8,372.1L375.5,375.0L371.5,379.0M371.5,379.0L370.8,381.4L370.0,384.4L370.1,387.3L369.4,388.0L369.2,389.9L369.3,390.8M371.5,379.0L373.5,378.7L376.4,381.0L377.5,380.9L380.6,382.8L382.9,384.4L384.6,386.4L383.3,387.8L384.1,389.5L384.3,389.6M344.2,286.0L345.8,287.6L348.1,287.4L348.7,286.4L350.9,285.8L352.1,285.3L352.5,284.0L354.6,283.2L354.4,282.6L351.9,282.3L351.5,280.5L351.6,278.5L350.3,277.7L350.8,277.4L353.0,277.8L355.4,278.6L356.2,277.9L358.3,277.4L361.7,276.3L362.7,275.2L362.4,274.3M362.4,274.3L360.3,272.1L361.1,271.3L361.1,269.9L362.9,269.4L363.6,268.9L362.6,267.8L362.9,266.7L365.2,265.0L365.3,264.8M362.4,274.3L363.9,274.2L364.6,274.9L364.2,276.2L365.2,276.6L365.9,278.0L365.1,279.0L364.6,281.5L365.3,283.1L365.6,284.4L367.4,285.8L368.8,285.9L369.2,285.4L370.1,285.2L371.4,284.7L372.4,283.9L374.0,284.2L374.8,284.1M374.8,284.1L373.0,281.5L372.6,279.9L371.6,279.9L370.3,277.7L370.9,276.2L370.7,275.5L372.5,274.7L373.0,272.1L373.0,271.8M374.8,284.1L376.4,284.3L376.6,283.7L376.1,283.1L376.4,282.3L377.6,282.5L379.0,282.3L380.7,282.9M380.7,282.9L381.5,281.6L381.7,280.3L382.2,279.0L381.1,277.3L380.8,275.2L382.4,272.7L382.4,272.5M380.7,282.9L382.0,283.5L382.9,282.7L383.6,282.8L384.0,283.6L385.4,283.4L386.5,282.3L387.4,280.1L389.2,277.4L389.3,277.2M329.9,231.1L329.9,231.5L330.1,233.1L329.9,234.2L329.2,234.7L329.9,235.6L329.9,236.4L329.9,237.4M535.7,185.5L535.6,185.8L536.7,187.7L536.9,189.5L537.9,192.6L538.7,193.2L538.1,194.4L534.3,194.9L532.9,196.0L531.2,196.2L531.1,198.4L527.6,199.6L526.5,201.0L524.1,201.8L521.1,202.3L516.4,204.5L516.4,208.0M516.4,208.0L515.9,208.0L502.9,208.0M516.4,208.0L516.3,208.8M516.3,208.8L516.3,213.2L506.6,213.1L506.7,220.6L503.9,220.9L503.2,222.4L503.8,226.7L492.2,226.7L491.5,227.6L491.4,227.7M516.3,208.8L527.4,215.9M527.4,215.9L522.9,215.9L524.3,228.7L525.8,241.4L526.3,241.8L525.6,243.9L513.8,243.9L513.3,244.6L512.2,244.4L510.5,245.0L508.4,244.2L507.5,244.2L507.0,246.0L506.0,246.5M506.0,246.5L504.0,244.5L502.2,242.3L500.3,241.5L498.9,240.6L497.2,240.7L495.8,241.3L494.3,241.1L493.3,242.0L493.1,242.0M506.0,246.5L506.1,248.4L506.7,250.0L507.8,250.9L508.1,252.0L508.0,252.9M508.0,252.9L507.5,253.1L505.9,252.9L505.7,253.2L505.0,253.3L502.9,252.5L501.5,252.5M501.5,252.5L496.0,252.4L495.2,252.7L494.2,252.6L492.7,253.1L492.5,253.1M492.0,250.8L492.2,250.8L494.9,250.9L495.6,250.5L496.1,250.5L497.2,249.8L498.5,250.4L499.8,250.5L501.1,249.8L500.4,249.0L499.5,249.4L498.5,249.4L497.4,248.7L496.4,248.7L495.8,249.5L492.6,249.5L492.3,249.5M501.5,252.5L501.4,253.5L501.1,253.8L501.4,254.8L500.9,255.2L500.2,255.2L499.5,255.7L498.5,255.6L497.2,257.1L497.1,257.2M508.0,252.9L508.6,254.0L509.3,253.6L509.8,253.7L510.7,254.5L511.9,254.7L512.7,254.1L513.7,253.7L514.4,253.3L515.0,253.3L515.6,254.0L516.0,254.8L517.2,256.0L516.6,256.8L516.5,257.8L517.1,257.5L517.5,257.8L517.3,258.7L518.2,259.5M502.6,263.5L502.8,263.4L504.4,262.1L504.7,261.3L505.2,260.6L506.1,260.6L506.7,260.0L509.1,260.0L509.9,261.1L510.6,262.3L510.5,263.2L511.0,263.9L510.9,265.0L511.7,264.8M511.7,264.8L510.3,266.2L509.0,267.8L508.9,268.7L508.2,269.6L508.0,269.8M511.7,264.8L512.4,264.8L513.1,264.5L514.4,266.3L514.2,267.4L514.8,268.1L515.6,268.1L516.2,266.9L517.0,267.0M517.0,267.0L517.7,265.7L517.4,265.1L517.7,264.7L518.8,264.3L518.1,262.0L517.4,260.8L517.7,259.8L518.2,259.5M517.0,267.0L516.9,267.8L517.2,269.3L516.6,270.6L517.4,271.4L518.4,271.6L519.6,272.8L519.7,274.0L519.4,274.4L519.2,276.8L519.2,277.0M518.2,259.5L518.6,259.3L519.5,259.7L521.7,259.7L522.3,258.9L522.8,258.9L523.6,258.6L524.1,259.9L524.8,259.5L526.0,259.1M526.0,259.1L527.4,259.7L527.9,260.7L529.2,261.3L530.2,260.6L531.6,260.4L533.6,261.2M533.6,261.2L534.4,265.4L533.2,267.9L532.4,271.2L533.7,273.8L533.5,275.0L533.5,275.2M526.0,259.1L525.8,257.3L526.6,256.1L526.6,255.1L528.9,252.6L529.3,250.6L530.1,249.9L531.6,250.3L532.8,249.7L533.2,248.9L535.5,247.6L536.1,246.7L538.8,245.5L540.5,245.0L541.2,245.6L543.1,245.6M543.1,245.6L545.0,245.5L546.1,244.4L550.1,244.2L552.8,243.7L553.0,241.9L554.6,239.9L554.6,233.1M554.6,233.1L551.3,233.4L551.3,231.5L549.9,231.0L548.1,230.2L547.4,228.8L537.4,222.4L527.4,215.9M554.6,233.1L558.8,231.8L567.4,226.0L577.5,220.3M577.5,220.3L576.2,218.5L573.9,217.1L572.5,217.7L571.4,216.0L571.3,214.7L569.6,212.6L570.8,211.4L570.5,209.5L570.9,207.9L570.6,206.5L571.2,204.1L571.0,202.8L570.0,200.1M570.0,200.1L568.8,194.8L567.0,193.6L566.9,192.9L564.5,191.2L564.2,188.9L566.1,187.3L566.8,184.9L566.3,182.0L566.9,180.5L567.0,180.3M570.0,200.1L571.5,199.5L571.8,198.2L571.4,197.0L573.5,195.8L574.4,194.9L575.8,194.0L576.0,191.8L576.1,191.6M577.5,220.3L582.2,221.6L583.8,223.2L585.9,222.1M585.9,222.1L588.9,220.5L600.7,226.2L612.5,231.8M612.5,231.8L612.5,230.6L616.0,230.6L616.0,224.7M616.0,224.7L616.0,213.8L616.0,203.3L615.1,200.9L615.8,199.1L615.4,197.8L616.4,196.4L616.5,196.1M616.0,224.7L633.7,224.7L651.1,224.7L651.3,224.7M585.9,222.1L586.7,226.7L587.8,227.5L587.8,228.4L589.0,229.4L588.4,230.7L587.3,236.7L587.1,240.6L583.3,243.4L582.1,247.2L582.2,249.2M552.7,255.2L552.9,252.6L553.7,251.4L554.2,249.7L554.9,249.1L558.1,248.7L561.1,249.8L562.2,250.9L563.7,251.0L565.1,250.3L568.7,251.8L570.2,251.7L571.9,250.5L573.7,250.5L574.5,250.1L576.1,250.3L578.4,251.2L580.7,249.5L582.2,249.2M582.2,249.2L583.7,251.0L583.9,252.8M583.9,252.8L585.1,254.0L584.8,254.5L584.7,255.5L582.1,257.8L581.4,259.7L581.0,261.2L580.3,261.9L579.7,263.9L578.1,265.1L577.7,266.7L577.0,267.8L576.8,269.1L574.7,270.1L573.1,268.8L571.9,268.9L570.2,270.6L569.3,270.7L567.9,273.5L567.1,275.6L567.0,276.6M552.7,255.2L550.4,253.5L549.4,253.6L548.4,254.4M548.4,254.4L548.4,252.4L545.0,251.7L544.9,250.3L543.3,248.4L542.9,247.0L543.1,245.6M548.4,254.4L547.7,255.3L546.3,255.6L545.7,256.9L544.7,257.2M544.7,257.2L542.1,257.1M542.1,257.1L540.7,256.9L539.8,257.4L538.5,257.2L533.3,257.3L533.2,259.0L533.6,261.2M542.1,257.1L541.9,258.1L543.1,259.6L543.1,261.7L543.4,264.1L544.1,265.1L543.4,267.8L543.7,269.3L544.5,271.1L545.1,272.2L545.2,272.4M544.7,257.2L544.3,258.8L545.2,259.6L546.2,260.7L546.3,262.1L546.9,262.7L546.8,269.5L547.5,271.6L547.6,271.8M552.7,255.2L552.6,256.2L553.2,258.0L552.6,259.2L553.0,260.0L551.5,261.8L550.6,262.7L550.0,264.6L550.1,266.4L550.0,271.2L550.0,271.4M583.9,252.8L586.0,253.6L586.3,255.5L586.1,257.5L587.8,260.2L586.1,260.2L585.3,260.4L583.9,260.1L583.3,261.5L585.0,263.2L586.3,263.7L586.7,264.9L587.7,267.0M612.5,231.8L612.7,243.6L610.1,243.4L608.8,245.6L608.0,247.4L608.6,248.1L607.6,249.0L608.0,250.2L607.2,251.4L606.9,252.5L607.9,252.3L608.6,253.5L608.6,255.2L609.7,256.1L609.6,256.8M609.6,256.8L607.8,257.3L606.2,258.5L604.1,261.7L601.3,263.1L598.5,262.9L597.6,263.2L597.9,264.2L596.4,265.2L595.1,266.4L591.4,267.5L590.7,266.9L590.2,266.8L589.7,267.5L587.2,267.8L587.7,267.0M609.6,256.8L610.0,258.1L611.7,259.9L611.7,261.1L611.2,262.3L611.4,263.3L612.4,264.1L614.7,265.4L616.3,266.6L616.3,267.5L618.3,269.1L619.5,270.3L620.3,272.1L622.5,273.3L623.0,274.2M623.0,274.2L624.8,276.7L626.1,277.0L626.9,276.5L628.3,276.7L629.9,276.1L630.6,277.4L633.2,279.3M633.2,279.3L634.4,278.5L636.3,279.2L638.7,278.5L640.8,278.5L642.6,277.1M642.6,277.1L644.0,276.0L646.4,273.4M646.4,273.4L644.7,270.2L643.3,269.5L642.8,268.3L641.3,266.9L639.5,266.7L640.5,265.0L642.1,264.9L642.5,264.1L642.5,261.4L643.3,258.3L644.7,257.5L645.0,256.2L646.3,254.0L648.1,252.5L649.3,249.6L649.8,247.1M649.8,247.1L649.4,245.9L650.7,241.6L651.0,239.6L651.9,238.7L654.1,238.2L655.6,236.5L655.8,236.4M649.8,247.1L653.2,247.7L654.1,245.5L655.9,246.8L657.7,246.1L658.4,246.8L660.4,246.8L663.0,248.0L663.8,249.0L665.1,250.0L666.3,251.7L667.3,252.6M667.3,252.6L668.5,252.9L669.4,252.2L669.6,252.1M667.3,252.6L666.2,253.9L665.2,255.3L665.5,256.1L665.5,257.0L667.2,257.1L667.9,256.9L668.5,257.4M668.5,257.4L669.0,257.2L669.6,255.8L669.7,255.7M668.5,257.4L667.9,258.5L669.0,260.1L670.1,261.5L671.2,262.6L680.9,266.1L683.4,266.1L675.0,274.9L671.1,275.0L668.5,277.1L666.6,277.2L665.8,278.1M665.8,278.1L663.8,278.1L662.6,277.1L659.9,278.4L659.0,279.6L657.0,279.4L656.4,279.0L655.7,279.1L654.8,279.1L651.0,276.6L649.0,276.6L648.0,275.6L648.0,273.9L646.4,273.4M665.8,278.1L663.2,281.5L663.2,292.2L665.0,294.7L665.2,294.8M642.6,277.1L644.3,280.7L645.6,284.1L644.6,286.2L643.1,288.2L642.2,289.4L642.3,292.5M642.3,292.5L642.8,292.8L653.5,298.9L653.7,300.6L658.0,303.5L658.1,303.6M642.3,292.5L636.3,292.7L633.0,292.7L632.0,293.0M633.2,279.3L633.0,282.8L634.2,283.2L633.3,284.2L632.1,285.0L631.0,286.6L630.4,287.9L630.2,290.3L629.5,291.4L629.5,293.7M629.5,293.7L630.2,294.0L632.0,293.0M629.5,293.7L628.6,294.5L628.5,296.3L628.1,296.5L627.8,298.1M632.0,293.0L633.2,294.7L633.0,296.5L632.1,296.8M627.8,298.1L629.6,298.3L630.6,296.6L632.1,296.8M627.8,298.1L628.6,299.4L628.8,303.0M632.1,296.8L632.3,298.0L632.9,298.7L633.0,299.6L632.2,300.2L631.1,301.8L630.0,302.8L628.8,303.0M628.8,303.0L629.3,305.7L629.0,307.3L629.6,309.0L631.3,310.6L632.9,314.3M632.9,314.3L634.2,315.1L635.4,315.6L637.2,316.1L638.9,317.0M638.9,317.0L641.8,317.5L642.4,318.3L643.4,319.7L644.2,323.7M644.2,323.7L646.4,323.5L650.0,324.3L650.8,323.9L652.8,323.9L653.9,323.0L655.7,323.1L658.9,321.9L661.3,320.2L661.5,320.1M644.2,323.7L643.4,326.0L644.2,329.8L645.3,329.8L646.3,330.7L647.6,332.9L647.8,336.7L646.5,337.3L645.6,339.3L643.7,337.5L643.5,335.4L644.1,334.1L643.9,332.9L642.7,332.1L642.0,332.4L640.2,331.0M640.2,331.0L638.7,330.2L639.6,327.5L640.5,326.5L639.9,324.0L640.6,321.6L641.1,320.8L640.3,318.3L638.9,317.0M640.2,331.0L631.3,333.4L631.5,335.5M631.5,335.5L629.3,335.9L627.6,337.1L627.3,338.1L626.2,338.4L623.6,340.8L622.0,342.7L621.0,342.8L620.0,342.4L616.7,342.1M616.7,342.1L616.2,341.9L615.0,341.0L613.1,340.8L610.7,341.5M610.7,341.5L608.7,339.6L606.8,337.2L606.9,327.8L613.1,327.8L612.8,326.8L613.2,325.7L612.7,324.3L613.1,322.9L612.7,322.0M612.7,322.0L613.8,322.1L613.9,323.0L615.3,322.9L617.2,323.2L618.2,324.5L620.5,324.9L622.3,324.0L623.0,325.5L625.3,326.0L626.4,327.2L627.6,328.9L629.9,328.9L629.6,325.7L628.8,326.2L626.7,325.1L625.9,324.5L626.3,321.6L626.8,318.1L626.2,316.8L627.0,314.9L627.8,314.6L631.8,314.0L632.9,314.3M578.2,307.7L578.4,307.7L579.7,307.3L580.5,307.4L581.6,307.0L590.3,307.1L591.0,309.3L591.9,311.0L592.6,312.0L593.7,313.5L595.6,313.3L596.6,312.9L598.3,313.3L598.7,312.6L599.4,310.9L601.3,310.7L601.4,310.2L602.9,310.2L602.7,311.3L606.3,311.2L606.3,313.1L606.9,314.3L606.5,316.0L606.7,317.8L607.7,318.9L607.5,322.4L608.3,322.2L609.6,322.3L611.4,321.8L612.7,322.0M577.8,306.9L578.0,306.8L578.8,306.5L578.9,305.2L579.4,304.4L580.5,303.8M577.0,304.7L577.2,304.6L578.4,303.3L579.3,302.8L580.5,303.8M580.5,303.8L581.2,304.1L582.2,303.0L583.8,303.0L584.0,303.9L585.1,304.4L586.9,302.5L588.6,301.1L589.4,300.2L589.2,297.7L590.5,294.8L591.9,293.3L593.8,291.9L594.2,290.9L594.2,289.9L594.7,288.8L594.6,287.2L594.9,284.6L595.5,282.7L596.4,281.1L596.6,279.4M596.6,279.4L596.8,277.3L598.0,275.8L599.6,274.8L602.0,275.8L603.9,276.9L606.1,277.2L608.3,277.8L609.1,276.0L609.6,275.8L610.9,276.1L614.2,274.6L615.4,275.2L616.3,275.1L616.8,274.4L617.9,274.2L620.1,274.5L622.0,274.5L623.0,274.2M596.6,279.4L594.7,279.2L592.7,278.7L590.9,280.2L589.4,283.0M589.4,283.0L589.2,284.6L586.8,283.9L584.4,283.1L580.7,283.0M580.7,283.0L580.5,284.3L581.3,285.8L583.5,285.6L584.2,286.2L582.9,289.6L584.4,291.3L584.7,293.6L584.3,295.6L583.4,297.0L580.8,296.9L579.2,295.5L579.0,296.8L577.0,297.1L576.0,297.9L577.1,299.8L574.8,301.5L574.6,301.6M580.7,283.0L580.3,282.8L578.6,283.2L576.8,282.8L575.4,283.0M575.4,283.0L575.4,286.6L571.1,286.5L570.1,286.7L569.8,286.7M575.4,283.0L570.5,283.0L570.3,282.9M587.7,267.0L587.2,267.8L585.7,270.8L585.0,271.3L584.8,273.6L585.1,274.8L584.8,275.7L586.2,277.3L586.5,278.3L587.6,279.8L588.9,280.8L589.1,282.1L589.4,283.0M576.5,340.8L576.7,340.8L578.1,340.3L579.9,339.8L581.8,339.8L583.6,341.2L584.0,341.0L596.0,340.9L598.1,342.3L605.2,342.7L610.7,341.5M616.2,341.9L614.5,342.6L613.6,342.6L611.7,343.7L610.6,342.5L606.1,343.5L603.9,343.6L603.8,354.1L600.9,354.3L600.9,362.9M600.9,362.9L600.8,373.8L598.2,375.3L596.6,375.5L594.8,375.0L593.4,374.7L592.9,373.5L591.8,372.7L590.3,374.2L590.1,374.2M600.9,362.9L601.7,363.3L603.4,366.1L603.1,367.9L603.8,369.0L605.9,368.7L607.4,367.4L608.8,366.5L609.5,365.1L611.0,364.4L612.2,364.7L613.6,365.6L616.0,365.7L617.9,365.0L618.2,364.1L618.7,362.7L620.4,362.5L621.2,361.3L622.2,359.3L624.9,357.2L629.1,355.0M629.1,355.0L627.2,353.6L624.9,353.2L624.0,351.3L624.0,350.3L622.8,350.0L619.4,346.7L618.5,345.0L617.9,344.5L616.7,342.1M629.1,355.0L630.3,355.0L631.7,355.5L632.7,355.2L634.3,355.4M634.3,355.4L637.4,352.1L638.2,350.0L638.6,349.7L638.9,348.0L638.5,347.1L638.6,344.9L639.2,342.8L639.2,339.1L637.6,338.1L636.2,337.9L635.6,337.2L634.2,336.6L631.7,336.6L631.5,335.5M634.3,355.4L635.7,359.6L636.4,361.7L635.9,365.0L636.2,366.1M636.2,366.1L636.9,368.7M636.9,368.7L639.1,368.7L639.3,368.7M636.9,368.7L636.3,370.0L634.5,370.3L632.8,368.7L632.8,367.7L633.6,366.6L633.8,365.7L634.7,365.5L636.2,366.1M627.7,375.3L628.8,376.2L627.8,377.6L627.3,378.6L625.7,379.0L625.1,380.0L624.1,380.3L621.9,378.0L623.4,376.1L625.0,375.0L626.4,374.4L627.7,375.3M520.0,180.3L520.0,180.1L519.7,179.1L520.8,178.0L521.2,177.2L520.2,176.3L521.0,174.4L519.8,172.6L521.1,172.4L521.2,171.0L521.7,170.5L521.7,168.2L523.1,167.4L522.3,165.9L520.6,165.8L520.1,166.2L518.3,166.2L517.6,164.8L516.4,165.2L515.3,165.9L515.1,166.0M536.2,161.2L536.4,161.4L537.6,162.5L543.0,163.9L544.1,163.2L547.4,164.6L550.8,164.2L551.1,164.2M564.0,160.8L564.0,160.6L564.3,159.3L562.7,158.9L562.0,156.6L563.0,155.7L562.1,154.6L562.2,153.8M562.2,153.8L561.2,152.5L559.8,153.0L559.9,151.6L562.0,150.0L561.9,149.2L563.3,149.5L564.1,149.0L564.5,149.1M564.5,149.1L564.5,146.9L566.0,144.8L561.7,144.3L560.3,143.5M560.3,143.5L559.5,143.6L558.8,143.3L556.2,142.0L554.7,142.2L552.6,140.8L551.2,139.6L549.9,139.6L549.4,138.6L549.3,138.4M560.3,143.5L560.5,142.2L559.9,141.6L559.1,141.7L558.8,143.3M551.4,137.9L551.8,138.0L554.0,138.2L556.7,137.6L558.6,138.9L560.2,139.6M560.2,139.6L559.9,141.6M560.2,139.6L559.7,136.5L561.5,136.5L562.2,135.4L563.0,132.7L562.4,131.7L562.4,131.4M567.0,127.3L567.2,127.3L569.5,127.7L571.3,127.2L571.5,127.2M571.8,127.2L572.2,127.2M583.8,130.6L583.8,130.8L584.4,132.3L583.6,133.1L584.7,134.2L585.5,135.8L585.2,136.8L586.4,138.7L585.1,139.0M585.1,139.0L584.3,138.6L583.6,139.2L581.5,139.8L580.4,140.5L578.2,141.2L578.7,142.0L579.0,143.3L580.5,144.0L582.2,145.3M582.2,145.3L581.2,146.6L580.1,147.0L580.5,148.9L580.2,149.4L579.3,148.8L577.9,148.7L575.8,149.3L573.2,149.1L572.8,149.9L571.3,149.1L570.4,149.2M570.4,149.2L567.2,148.4L566.6,149.0L564.1,149.0M570.4,149.2L570.5,149.8L570.0,150.5L571.4,151.1L572.9,151.1M572.9,151.1L572.6,152.4L571.3,152.9L569.2,152.5L568.5,153.7L567.1,153.7L566.6,153.3L565.0,154.3L563.5,154.4L562.2,153.8M572.9,151.1L574.7,151.6L575.0,151.0L577.9,150.5L578.6,151.5L582.8,152.3M582.8,152.3L582.5,153.7L583.2,155.0L582.6,155.2L582.3,155.4M582.8,152.3L585.3,152.5L586.8,151.8L589.4,151.8L589.9,151.3M589.9,151.3L590.9,149.3L590.3,148.7L592.0,148.7L592.2,147.5M592.2,147.5L591.9,146.5L592.2,146.1M592.2,146.1L590.8,145.5L589.4,145.7L587.1,144.8L586.1,145.0L584.4,146.2L582.2,145.3M586.4,138.7L587.8,139.6L590.0,139.9L589.9,140.7L591.5,141.3L591.9,140.6L593.9,140.9L594.2,141.8L596.4,142.0L597.8,143.4M597.8,143.4L596.9,143.4L596.4,144.0L595.7,144.1L595.5,144.8L595.0,144.9L594.9,145.2L593.9,145.5L592.6,145.4L592.2,146.1M597.8,143.4L597.9,143.6L599.1,143.2L600.7,144.3L602.4,143.6L603.8,143.9L605.9,143.5L608.7,144.6M608.7,144.6L607.9,145.4L607.3,146.6M607.3,146.6L606.7,146.9L603.5,146.0L602.6,146.2L601.9,146.9L600.5,147.3L600.2,147.1L598.7,147.5L597.6,147.6L597.3,148.2L594.8,148.6L593.7,148.2L592.2,147.5M607.3,146.6L609.0,147.4L609.2,148.2M609.2,148.2L607.4,148.8L606.0,150.8L604.2,152.8L601.8,153.4M601.8,153.4L600.0,153.3L597.7,154.0M597.7,154.0L596.6,154.5L594.1,153.9L591.9,152.6L591.0,152.3M591.0,152.3L590.4,151.3L589.9,151.3M591.0,152.3L588.6,153.1L588.4,154.3L587.3,154.6L587.3,155.4L586.2,155.3L585.2,154.9L584.6,155.3L582.6,155.2M597.7,154.0L598.4,155.2L599.4,156.0L598.2,157.1M598.2,157.1L596.9,156.5L594.8,156.5L592.3,156.0L590.9,156.1L590.3,156.7L589.2,156.0L588.6,157.3L590.0,158.6L590.7,159.6L592.0,160.7L593.2,161.3L594.3,162.5L596.9,163.7L596.6,164.2L596.4,164.3M598.2,157.1L599.3,157.1L598.6,158.4L600.0,159.6L599.5,161.0L598.9,161.1L597.3,162.0L596.9,163.7M599.1,166.1L599.3,165.9L599.1,165.0L600.4,163.6L600.6,164.1L601.4,163.8L602.0,164.6L602.7,164.9L602.9,166.0M602.9,166.0L602.5,167.0L603.0,168.3L604.2,169.0M604.2,169.0L604.1,169.8L603.1,170.2L603.0,171.2L601.6,172.6L601.2,172.7M604.2,169.0L606.1,168.8L607.3,168.1L608.9,168.2L609.3,167.7L609.9,167.5M609.9,167.5L609.7,165.6L608.2,164.6M608.2,164.6L606.8,164.7L605.8,164.9L605.2,165.0L602.9,166.0M608.2,164.6L608.7,164.2L608.4,163.9L608.9,162.9L610.0,162.0L608.6,160.7L608.3,159.7L609.0,159.0M609.0,159.0L608.5,158.5L607.5,158.3L605.8,157.4L605.5,156.2L603.7,155.5L603.4,154.6L601.8,153.4M609.0,159.0L609.9,160.2L611.0,160.0L613.3,160.4L617.6,160.6L619.1,159.9L622.6,159.1L624.7,160.2L626.5,160.5L626.7,160.5M609.9,167.5L612.1,167.6L614.4,166.8L616.5,167.9L619.2,167.6L619.3,166.1M618.9,169.4L619.1,169.1L619.8,168.7L620.7,166.9L619.3,166.1M619.3,166.1L622.3,165.2L624.8,165.6L625.0,165.6M609.2,148.2L610.4,147.6L612.3,147.9L614.2,147.9L615.6,148.6L616.6,148.2L618.8,147.9L619.5,147.2L620.7,147.2M620.7,147.2L621.6,147.5L622.5,148.4L623.5,149.6L625.2,151.4L625.3,152.7L625.0,153.9L625.5,155.3M625.5,155.3L626.8,155.8L628.2,155.4L629.6,155.9L629.8,155.9M620.7,147.2L621.5,146.8L623.4,146.5L625.6,147.4L626.8,147.5L628.1,148.3L627.9,149.3L629.0,149.8L629.4,151.0L630.5,151.8L630.3,152.2L630.8,152.5L630.0,152.7L628.3,152.6L628.0,152.2L627.4,152.5L627.6,153.0L626.8,153.9L626.3,155.0L625.5,155.3M608.7,144.6L609.4,144.8L608.6,143.5L611.3,141.0L612.8,140.7L613.1,139.9L611.6,137.3M611.6,137.3L611.5,136.0L610.6,134.6L612.4,134.0L612.4,132.8L611.6,131.7L611.5,130.4M611.5,130.4L610.7,129.5L609.2,129.2M609.2,129.2L603.8,129.2L600.2,128.9L599.4,128.7M609.2,129.2L609.0,128.4L609.3,127.6L608.0,127.1L604.9,126.6L604.5,126.5M611.5,130.4L614.3,130.4L617.5,129.3L618.2,127.6L620.7,126.7L620.4,125.3M620.4,125.3L617.5,123.9L616.0,123.7L615.5,123.1L612.6,123.4L607.7,123.2L604.3,124.1L604.1,124.2M620.4,125.3L622.2,124.9L625.4,123.7M625.4,123.7L624.4,122.0L624.1,120.6L622.7,119.9M622.7,119.9L620.3,119.8L617.7,118.8L616.4,118.4L613.9,118.9L613.7,118.9M622.7,119.9L624.0,118.9L623.1,116.2L625.2,114.5L624.8,113.9L624.8,113.7M625.4,123.7L628.5,124.5L628.9,125.2L630.4,124.8L633.3,125.5L633.6,126.9L633.0,127.7L634.8,129.7L636.0,130.2L635.9,130.8L637.9,131.3L638.7,132.1L637.5,132.7L635.2,132.6L634.6,132.9L635.3,133.9L636.0,135.7M636.0,135.7L633.5,135.9L632.6,136.6L632.4,138.0L631.2,137.8L628.5,137.9L627.8,137.2L626.7,137.7L625.5,137.3L623.2,137.3L619.9,136.5L616.9,136.3L614.6,136.4L613.0,137.2L611.6,137.3M636.0,135.7L637.1,135.9L637.9,135.2L638.8,135.3L641.8,135.0L643.7,136.7L643.0,137.3L643.2,138.2L645.6,138.4L646.7,139.7L646.6,140.2L650.4,141.3L652.6,140.8L654.4,142.2L656.1,142.2L660.5,143.1L660.6,144.0L659.3,145.6L660.0,147.2L659.6,148.2L656.7,148.4L655.2,149.2L655.1,150.5L655.0,150.7M624.9,111.1L625.0,110.9L627.8,109.4L634.1,105.4L635.2,103.9L630.9,101.9L632.0,100.0L629.4,97.8L631.4,95.2L627.9,91.9L630.7,89.6L626.2,87.7L626.6,85.6M626.6,85.6L627.8,83.5L624.0,82.4L619.4,83.4L618.0,85.5L615.2,86.8L612.0,86.1L608.1,86.3L604.8,84.7L603.1,85.5M626.6,85.6L629.0,85.3L634.0,84.2L634.2,83.9M603.1,85.5L607.0,86.9L611.6,88.9L611.7,93.5L612.7,94.6L612.8,94.9M603.1,85.5L601.2,85.6L600.8,87.5L595.2,87.1L594.4,88.7L591.6,88.7L589.7,90.8L586.7,94.1L582.1,98.2L583.2,99.3L582.1,100.4L579.2,100.4L577.3,103.2L577.5,107.1L579.4,108.6L578.4,112.0L575.9,114.1L574.6,115.8L574.5,116.0M524.0,130.3L523.7,130.5L521.4,129.9L519.6,130.0L520.2,128.4L519.6,126.8L519.6,126.6M648.6,183.7L648.9,183.9L649.7,183.2L650.5,182.6L650.7,180.9L651.7,181.5L654.9,180.7L656.5,181.2L658.9,181.2L662.3,180.1L663.9,180.2L667.3,179.7M667.3,179.7L668.5,179.2L672.0,179.6L673.0,180.4L674.4,179.9M674.4,179.9L672.8,177.5L673.4,176.6L672.5,173.2L674.5,172.4M674.5,172.4L673.3,171.5L671.1,170.8L671.4,169.3L670.9,168.3M670.9,168.3L668.1,166.8L664.9,166.9L664.2,167.1M660.0,161.5L660.2,161.4L660.6,161.0L663.0,161.5L667.4,162.0L671.4,163.4L671.9,164.0L673.7,163.5L676.5,164.1L677.4,165.3L679.3,166.0M679.3,166.0L678.5,166.4L680.0,168.0L679.5,168.4L677.9,168.2L675.8,167.3L675.0,167.8M675.0,167.8L670.9,168.3M675.0,167.8L675.6,168.6L676.8,169.1L676.2,169.8L677.7,170.8L676.9,171.8L678.2,172.6L679.5,173.1L679.6,175.1M679.6,175.1L678.5,175.2L677.3,173.5L676.0,173.1L675.1,172.3L674.5,172.4M679.3,166.0L680.1,166.1L682.1,167.9L683.5,168.1L684.0,167.3L685.7,166.2L685.9,166.1M679.6,175.1L683.1,172.9L684.2,172.7L685.0,173.6L684.0,175.1L685.8,176.6L686.6,176.5L686.9,176.5M674.4,179.9L676.4,183.4L678.3,184.3L678.5,186.0L677.0,187.0L676.4,189.3L678.4,192.1L682.0,193.8L683.5,196.0L683.1,198.2L684.0,198.1L684.0,199.7L685.7,201.3L685.8,201.4M701.2,179.9L701.5,179.8L704.1,179.2L706.2,177.5L708.2,177.6L709.5,177.1L711.6,177.3L714.9,178.8L717.2,179.2L720.6,181.8L722.8,181.9L723.1,184.4M723.1,184.4L721.8,188.0L721.0,190.2L722.3,190.6L721.1,192.2L722.0,194.6L722.3,196.5L724.5,197.0L724.7,198.9L722.1,201.6M722.1,201.6L723.5,203.1L724.7,204.9L727.6,206.2L727.6,208.8L729.0,209.3L729.3,210.6L725.0,212.2L723.9,215.6L723.9,215.8M722.1,201.6L727.0,203.1L730.0,202.6L731.8,203.0L732.3,202.4L734.4,202.6L738.3,201.4L738.4,198.9L740.0,197.2L742.2,197.2L742.5,196.4L744.8,196.0L745.9,196.3L747.0,195.4L746.9,193.7L748.1,191.9L750.0,191.1L748.9,189.2L751.7,189.3L752.5,188.2L752.4,187.1L753.8,185.8L753.5,184.4L752.8,183.1L754.5,181.8L757.7,181.2L761.1,180.8L762.6,180.3L764.3,180.0M764.3,180.0L763.8,179.1M763.8,179.1L760.7,179.1L758.7,178.9L756.9,180.2L755.5,180.5L754.5,181.1L753.3,180.2L753.6,177.7L752.7,177.6L753.1,176.6L751.5,176.0L750.2,177.0L749.9,178.2L749.4,178.6L747.6,178.6L746.7,179.9L745.7,179.4L743.6,180.3L742.6,180.0M742.6,180.0L740.4,179.3L738.8,179.3M738.8,179.3L737.9,179.2L736.5,178.4L736.0,179.4L733.5,180.0L732.9,182.4L731.3,183.3L728.9,183.7L728.3,185.1L726.1,185.5L723.1,184.4M738.8,179.3L738.9,177.5L734.9,176.2L731.8,174.8L729.9,173.4L726.5,171.4L725.0,168.3L724.1,167.7L720.9,167.9L719.7,167.3L719.4,164.9L715.4,163.4L712.9,165.1L710.4,166.1L710.9,167.6L707.6,167.6M707.6,167.6L706.1,167.8L704.0,165.5L702.0,164.6L698.6,165.2L697.3,166.2L697.1,166.3M707.6,167.6L707.4,156.8L715.0,155.0L715.6,155.2L720.2,157.4L722.6,158.5L725.4,161.2L728.9,160.7L734.0,160.5L737.5,162.7L737.3,165.6L738.7,165.6L739.3,168.0L743.1,168.1L743.9,169.5L745.0,169.5L746.3,167.4L750.2,165.4L751.9,164.8M751.9,164.8L752.8,165.1L750.3,167.0L752.5,168.1L754.6,167.4L758.1,168.9L754.3,171.1L752.0,170.8M752.0,170.8L750.8,170.8L750.4,170.0L751.0,168.7L747.1,169.3L746.1,171.2L744.7,172.9L742.3,172.7L741.5,174.0L743.7,174.8L744.3,176.9L742.6,180.0M752.0,170.8L751.0,171.7L747.8,171.2L747.5,172.9L750.7,172.7L754.3,173.6L759.9,173.2M759.9,173.2L760.7,175.9L761.7,175.6L763.4,176.3L763.3,177.4L763.8,179.1M759.9,173.2L760.4,171.8L763.2,170.4L765.2,169.8L768.4,170.2L769.5,168.3L773.3,168.0L774.3,166.8L779.0,165.2L779.4,164.6M779.4,164.6L777.6,164.1L776.1,163.0L771.7,162.8L766.8,162.7L765.7,163.0L761.5,161.7L759.9,162.4L759.4,164.1L754.5,163.1L752.6,163.5L751.9,164.8M779.4,164.6L779.2,162.9L781.2,162.1L778.6,157.0L784.4,155.8L785.9,155.1L788.0,149.8L793.9,150.8L795.6,149.5L795.7,146.5L798.2,146.2L800.4,144.3M800.4,144.3L798.8,142.5L795.0,142.9L793.8,141.6L791.7,141.0L790.3,139.3L788.6,138.8L784.4,139.6L780.3,137.8L778.8,139.4L772.1,131.9L768.4,129.6L769.4,128.7L762.0,131.5L759.2,131.6L759.4,130.0L755.6,129.0L752.6,129.7L751.6,126.7L746.3,126.0L743.6,127.3L736.3,128.4L734.8,129.1L723.7,130.1L722.4,131.1L724.5,133.1L721.7,133.9L722.2,134.7L719.4,136.2L724.2,138.2L723.4,139.6L719.3,139.5L718.4,140.3L714.6,138.8L710.0,138.9L706.8,140.1L703.3,138.9L696.8,136.9L692.2,137.0L686.1,140.1L685.7,142.3L682.7,140.6L680.3,143.8L681.1,144.5L679.5,146.7L682.0,148.7L684.2,148.6L686.0,150.6L685.7,152.1L687.2,152.6L687.4,152.8M800.4,144.3L801.6,144.0M801.6,144.0L804.7,143.5L810.3,141.0L814.8,139.6L817.4,140.5L820.5,140.5L822.5,141.9L825.4,142.0L829.7,142.7L832.6,140.7L831.4,139.0L834.4,135.9L837.7,137.1L840.4,137.5L843.9,138.2L844.5,140.4L848.7,141.7L851.5,141.1L855.2,140.7L858.2,141.2L861.1,142.6L862.9,144.1L865.6,144.0L869.3,144.5L872.1,143.8L876.0,143.3L880.3,141.2L882.1,141.5L883.6,142.5L887.1,142.3M801.6,144.0L802.3,146.1L804.8,147.7L809.0,148.8L811.1,151.1L810.0,154.6L811.0,155.9L814.5,156.4L818.5,156.8L822.1,158.6L823.9,159.0L825.3,161.7L827.0,163.4L830.3,163.4L836.4,164.1L840.3,163.6L843.2,164.1L847.6,165.9L851.2,165.9L852.5,166.8L855.9,165.2L860.7,164.2L865.1,164.1L868.6,163.0L870.7,161.4L872.8,160.4L872.3,159.5L871.4,158.3L872.9,156.4L874.6,156.7L877.6,157.3L880.6,155.7L885.1,154.6L887.3,152.6L889.3,151.8L893.6,151.4L896.0,151.7L896.3,150.7L893.6,148.6L891.2,147.7L889.0,148.7L886.0,148.3L884.4,148.7L883.6,147.4L885.7,144.5L887.1,142.3M887.1,142.3L890.7,143.4L894.9,141.5L894.8,140.2L897.5,137.1L899.1,136.2L899.1,134.5L897.5,133.8L899.9,132.3L903.6,131.8L907.5,131.7L912.0,132.6L914.6,133.7L916.4,136.7L917.5,138.0L918.5,139.8L919.6,142.7L924.8,143.6L928.3,145.7L929.5,148.5L934.0,148.5L936.5,147.3L941.4,146.4L939.9,149.1L938.7,150.2L937.7,153.4L935.7,156.3L932.1,155.8L929.6,156.8L930.4,159.4L929.9,162.8L928.4,162.9L928.4,164.4L928.8,165.0M928.4,164.4L926.5,162.7L925.4,164.3L920.8,165.6L921.2,167.2L918.7,167.1L917.3,166.1L915.2,168.2L912.0,169.8L909.6,171.7L909.4,171.9M921.9,175.5L921.7,175.6L920.0,176.5L917.9,176.6L916.7,178.0L915.4,177.9L915.2,178.1L915.0,178.3M861.8,226.2L861.6,226.0L857.2,224.0L857.7,222.4L855.0,221.8L853.6,220.7L851.1,222.3L848.2,222.6L845.8,222.6L844.2,223.3M844.2,223.3L842.7,223.7L843.1,227.1L841.6,227.1L841.3,226.3M841.3,226.3L838.2,226.0L835.6,224.3L836.4,221.9L834.5,221.3L833.8,218.6L830.7,219.1L831.1,215.6L833.9,213.1L834.0,210.7L833.9,208.4L832.6,207.7L831.6,206.0L829.9,206.2M829.9,206.2L826.7,205.7L826.3,202.7L824.2,203.9L821.7,203.2L818.3,205.1L815.6,207.3L813.2,207.6M813.2,207.6L811.9,206.8L810.4,206.8L808.3,206.1L806.7,206.8L804.7,209.0M813.2,207.6L814.4,208.6L814.2,210.4L811.8,210.5L809.3,210.3L807.5,210.7L804.8,209.6L804.7,209.0M804.7,209.0L804.5,206.7L802.7,207.3M802.7,207.3L799.2,207.0L795.9,206.4L793.5,205.1L791.2,204.5L790.2,203.1L788.5,202.6L785.5,200.7L783.2,199.8L781.9,200.5M781.9,200.5L780.1,201.8L778.9,204.6L781.8,205.7L784.6,207.2L788.4,208.9L792.5,209.2L794.2,210.7L796.4,211.0L800.0,211.7L802.5,211.7L802.8,210.5L802.4,208.6L802.7,207.3M781.9,200.5L777.8,198.4L774.9,196.6L774.1,193.3L776.2,193.7L776.3,192.2L775.1,190.7L775.4,188.3L772.3,184.8L767.4,183.6L766.5,181.3L764.3,180.0M743.4,219.8L743.7,219.7L745.6,217.7L752.1,217.7L751.5,215.2L749.9,213.7L749.6,211.4L747.6,210.1L750.9,207.0L754.3,207.2L757.4,204.1L759.3,201.1L762.1,198.2L762.1,196.1L764.6,194.3L762.2,192.9L761.2,190.9L760.2,188.3L761.6,187.0L766.1,187.8L769.4,187.3L772.3,184.8M805.4,225.1L805.4,224.5L804.9,222.1L803.9,219.9L804.4,218.1L802.5,217.3L803.2,216.2L805.1,215.1L802.9,213.5L804.0,211.5L806.3,212.8L807.7,213.0L808.0,215.0L810.8,215.4L813.5,215.4L815.3,215.9L813.9,218.4L812.6,218.6L811.7,220.3L813.3,221.8L813.8,219.9L814.6,219.9L816.1,224.6M816.1,224.6L816.1,226.7L815.0,226.2L815.2,228.6L815.2,228.9M816.1,224.6L817.6,223.9L817.3,222.6L818.0,221.6L818.1,218.5L820.4,219.2L821.7,216.8L821.8,215.4L823.5,212.9L823.4,211.2L827.2,209.1L829.3,209.7L829.1,207.8L830.1,207.3L829.9,206.2M841.3,226.3L838.8,228.3L838.2,229.4M838.2,229.4L836.4,230.0L834.7,231.3L832.6,231.5L831.3,234.6L830.1,235.2L831.5,237.8L833.3,239.9L834.5,241.9L833.5,244.5L832.4,245.0L833.2,246.5L835.1,248.8L835.5,250.5L835.4,251.9L836.6,254.6L835.0,257.3L833.5,260.4L833.2,260.6M838.2,229.4L839.4,230.3L839.6,232.0L841.6,232.2L840.9,235.3L840.9,238.0L844.0,236.2L844.9,236.7L846.7,236.6L847.3,235.6L849.5,235.8L851.8,238.2L851.9,241.1L854.3,243.7L854.2,246.2L853.2,247.5M853.2,247.5L850.5,247.1L846.6,247.7L844.8,250.1L845.4,253.7L845.5,254.2M853.2,247.5L855.7,248.7L857.0,246.6L859.6,247.7M859.6,247.7L860.3,244.8L859.4,242.7L857.2,240.6L855.3,238.0L852.9,234.5L849.3,232.8L850.2,231.7L852.1,230.9L850.9,228.4L847.3,228.3L845.9,225.6L844.2,223.3M859.6,247.7L860.0,253.2L855.0,255.5L856.3,257.3L853.2,257.5L850.6,258.7L850.5,258.9M844.3,271.2L844.1,271.3L843.2,272.5L841.2,272.9L841.0,271.4L838.6,270.1L838.1,270.6L837.8,270.7M866.2,283.6L866.4,283.8L866.9,285.7L868.9,287.4L870.8,286.8L872.7,287.0L874.4,285.5L875.8,285.3L878.6,286.1L881.0,285.5L882.6,281.4L883.7,280.3L884.7,277.0L888.1,277.0L890.7,277.5L891.0,277.5M879.7,276.1L879.8,276.3L881.8,276.8L883.2,276.9L883.4,275.0L883.5,273.6L883.6,273.3M959.1,297.2L959.1,297.4L959.1,307.0L959.2,316.6L959.2,316.9M911.6,315.7L911.7,316.0L912.0,316.6L912.0,317.4L912.0,317.7M644.9,203.1L645.4,202.9L648.7,203.4L650.0,202.5L650.7,201.4L652.9,201.0L653.4,200.0L654.4,199.5L651.4,196.6L657.4,195.1L658.0,194.7M658.0,194.7L661.5,195.5L665.9,197.5L674.3,203.5L679.8,203.7M679.8,203.7L682.4,204.0L683.1,205.4L685.2,205.3L685.4,205.3M679.8,203.7L681.9,200.9L683.9,201.1L684.6,201.2M658.0,194.7L656.7,191.1M656.7,191.1L663.3,188.0L664.4,184.4L664.1,182.3L665.8,181.5L667.3,179.7M656.7,191.1L650.9,194.2L647.7,193.0M647.7,193.0L647.2,194.0L647.2,195.8L646.7,196.6L645.3,202.5L645.2,203.1M645.3,202.5L643.4,197.4L643.3,197.2M645.6,191.9L645.8,191.9L646.9,191.9L647.2,191.4L648.0,191.4M648.0,191.4L648.7,189.8L650.3,188.6L649.8,187.5L648.5,187.3L648.3,187.3M648.0,191.4L648.0,192.6L647.7,193.0M668.3,241.4L668.5,241.4L669.8,240.4L669.5,239.2L670.3,237.8L671.5,238.5L672.3,238.3L675.8,238.2L676.3,238.5L679.2,238.8L680.3,238.6L681.0,239.6L682.4,239.1L684.5,236.0L687.3,234.7L695.8,233.6M695.8,233.6L698.1,238.4L699.1,240.5L699.2,240.7M695.8,233.6L704.7,230.6L706.7,224.7L705.3,222.6M705.3,222.6L695.8,221.7L694.7,218.8L694.6,218.0L694.5,217.5M705.3,222.6L705.4,221.4L706.3,220.2L706.3,219.0L707.6,218.4L707.1,218.0L707.3,216.1L708.8,216.1L709.1,216.1M691.7,216.4L692.3,216.6L694.0,216.9L694.3,217.0M707.8,212.5L707.9,212.7L708.4,213.7L708.7,213.9"/>
<path class="cs" style="stroke-width:1.5" d="M1029.7,113.2L1025.8,112.8L1024.8,114.7L1021.3,117.6L1021.3,118.8L1024.7,119.4L1024.3,123.7L1021.6,123.9L1020.3,126.3L1021.6,127.6L1016.4,129.1L1015.3,132.5L1010.9,133.2L1010.0,136.2L1005.8,139.0L1004.7,136.9L1003.4,132.6L1001.8,126.1L1003.2,121.9L1005.7,120.2L1005.8,118.8L1010.4,118.1L1015.7,114.4L1020.8,111.4L1026.1,109.0M1023.1,107.6L1015.6,110.8L1013.2,107.2L1005.6,108.2L998.2,113.1L1000.6,114.9L994.0,115.7L989.5,116.0L989.7,113.9L985.0,113.4L981.4,114.9L972.4,114.4L962.6,115.2L953.0,121.0L941.7,128.0L946.4,128.4L947.8,130.2L950.7,130.8L952.6,129.4L955.8,129.6L960.1,132.8L960.2,135.3L957.9,138.3L957.6,141.8L956.3,146.5L951.8,150.8L950.9,152.9L946.8,156.3M966.9,139.7L969.9,145.0L965.5,144.0L963.7,148.3L966.6,151.3L966.5,153.4L964.3,151.6L962.3,153.9L961.8,151.4L962.1,148.5L961.7,145.3L962.5,143.1L962.6,139.1L960.8,136.2L961.1,132.2L963.8,130.8L962.7,129.5L964.0,129.0L964.7,131.0L965.8,133.9L965.7,136.7L966.9,139.7M973.9,158.5L976.8,156.7L981.3,155.2L978.3,155.8L974.8,157.6L973.9,158.5M984.2,154.1L986.6,153.2L985.7,154.4L984.2,154.1M1001.4,141.4L1003.7,139.9L1002.3,139.4L1001.1,140.8L1001.4,141.4M1025.6,116.5L1028.9,114.8L1027.1,116.2L1025.6,116.5M947.8,126.9L950.8,127.2L949.6,128.1L947.8,126.9"/>
<path class="cs" style="stroke-width:1.6" d="M305.2,210.3L305.1,212.2L305.0,213.4L304.2,215.2L303.3,215.6L301.9,215.2L301.4,213.9L300.3,213.3L298.7,210.7L297.3,208.4L296.9,207.3M267.5,235.0L269.7,234.4L271.6,233.9L273.5,232.7L274.2,231.0L274.4,228.5L275.0,227.6L277.0,226.9L280.1,226.2L282.7,226.3L284.5,226.0L285.2,226.7L285.1,228.1L283.5,229.8L282.8,231.6L283.4,232.2L282.9,233.4L282.2,235.7L281.4,235.0L280.8,235.0L280.8,235.5L281.4,236.3L280.8,237.6L281.0,239.3L280.6,240.9L280.1,241.6L278.9,242.7L279.9,243.3L281.0,243.2L282.0,242.8L282.8,242.8L283.6,242.9L284.9,243.1L286.3,243.1L287.6,242.4L289.3,242.7L290.6,242.4L292.4,242.9L294.2,244.1L295.3,244.6L296.0,245.4L295.8,245.7L295.7,246.3L296.0,247.4L295.3,248.4L294.9,249.6L294.9,250.9L295.0,251.7L294.6,253.3L294.4,254.6L294.6,255.3L293.9,256.1L294.1,256.9L294.5,257.4L295.3,259.0L296.4,260.2L297.8,261.4L298.9,262.5L298.8,263.1M303.8,262.8L305.6,262.2L306.6,261.3L308.3,261.5L308.1,261.8L309.8,261.9L311.1,262.4M316.9,262.1L318.2,261.8L318.2,260.8L318.7,258.3L320.4,257.0L322.3,256.9L322.5,256.3L324.9,256.5L327.2,255.0L328.3,254.4L329.8,252.9L330.8,253.1L331.6,253.9L331.0,254.9L329.1,255.4L329.2,256.0L330.1,257.3L330.1,258.8L328.8,260.5L329.9,262.9L331.2,262.7L331.9,260.6L330.9,259.5L330.8,257.3L334.5,256.1L334.1,254.7L335.1,253.8L336.2,255.8L338.3,255.9L340.2,257.5L340.3,258.5L342.9,258.5L346.1,258.2L347.8,259.6L350.1,259.9L351.7,259.0L351.7,258.3L355.4,258.1L359.0,258.0L356.4,258.9L357.5,260.3L359.8,260.5L362.1,262.0M294.6,263.0L293.8,262.2L292.6,261.7L291.6,261.3L291.4,260.4L290.6,259.9L290.8,260.7L290.2,261.5L289.6,260.7L288.6,260.4L288.2,259.8L288.2,258.8L288.6,257.9L287.8,257.5L288.5,256.9L287.4,256.0L286.0,254.8L285.4,253.8L284.2,252.9L282.7,251.6L283.0,251.1L283.5,251.6L283.7,251.3L283.2,250.4L282.3,250.2L282.0,250.8L280.3,250.8L279.2,250.5L278.0,249.9L276.3,249.7L275.5,249.1L274.0,248.6L272.1,248.5L270.8,247.9L269.2,246.7M560.0,131.6L562.4,131.7L563.0,131.0L565.5,130.9L566.0,131.5L568.0,130.1L567.4,128.9L567.2,127.3L566.0,125.6L565.9,122.6L566.4,121.8L567.3,120.9L569.9,120.8L570.9,119.9L573.3,119.1L573.2,120.6L572.3,121.6L572.7,122.4L574.3,122.9L573.6,124.0L572.7,123.7L570.5,125.8L571.3,127.2L571.4,128.4L574.4,129.1L574.4,130.1L577.4,129.5L579.0,128.7L582.4,129.9L583.8,130.8L585.8,130.0L590.4,128.6L594.1,127.6L597.1,128.1L597.3,128.8L600.2,128.9L600.8,127.6L604.9,126.6L604.3,124.1L604.4,121.9L605.8,120.1L608.6,119.0L611.0,121.2L613.3,121.2L613.9,118.9L614.3,117.2L613.2,117.5L611.3,116.5L611.0,114.8L614.8,114.0L618.5,113.6L621.7,114.0L624.8,113.9L628.1,112.3L625.0,110.9L619.7,111.2L614.5,112.2L609.6,112.8L607.9,111.2L605.1,110.3M594.7,110.5L597.6,112.2L594.9,115.5L591.8,116.2L590.7,121.1L589.0,123.9L585.4,123.6L583.7,126.0L580.3,126.1L579.4,123.3L576.9,120.0L574.6,115.8L572.6,114.0M9.6,85.9L16.8,88.2L24.6,91.1L24.3,93.0L26.3,93.7L25.6,91.5L33.6,92.0L39.4,94.7L36.5,96.0L31.7,96.3L31.6,99.2L30.4,99.8L27.6,99.8L25.4,98.7L21.5,97.9L20.8,96.6L17.8,96.1L14.4,96.5L12.8,95.4L13.4,94.3L9.9,95.1L11.2,96.4L9.6,97.7L9.6,85.9M9.6,78.4L9.9,78.2L12.5,78.2L16.7,79.1L16.5,79.5L13.4,80.2L9.6,80.4L9.6,78.4M298.6,221.2L301.2,221.4L303.5,221.4L306.3,222.4L307.5,223.5L310.2,223.2L311.3,223.9L313.8,225.7L315.7,227.0L316.6,227.0L318.4,227.6L318.2,228.4L320.4,228.6L322.6,229.8L322.2,230.5L320.3,230.8L318.3,231.0L316.2,230.7L312.0,231.0L314.0,229.4L312.8,228.6L310.9,228.4L309.9,227.6L309.1,225.9L307.5,226.0L304.7,225.2L303.8,224.6L300.0,224.1L298.9,223.5L300.0,222.8L297.1,222.7L295.0,224.2L293.8,224.2L293.4,225.0L291.9,225.3L290.7,225.0L292.2,224.1L292.8,223.0L294.2,222.4L295.7,221.8L297.9,221.5L298.6,221.2M329.9,231.5L330.2,231.0L332.5,231.0L334.3,231.7L335.1,231.6L335.6,232.7L337.2,232.6L337.2,233.5L338.5,233.6L339.9,234.7L338.8,235.9L337.4,235.3L336.1,235.4L335.1,235.2L334.6,235.8L333.4,236.0L333.0,235.2L332.0,235.7L330.8,237.7L330.0,237.2L329.9,236.4L327.9,235.9L326.5,236.1L324.7,235.9L323.3,236.4L321.7,235.5L322.0,234.6L324.7,234.9L327.0,235.2L328.0,234.5L326.7,233.3L326.7,232.1L324.8,231.7L325.5,230.8L327.3,231.0L329.9,231.5M312.5,235.1L314.5,235.3L316.1,236.0L316.6,236.8L314.5,236.9L313.6,237.4L312.0,236.9L310.3,235.8L310.6,235.2L311.9,235.0L312.5,235.1M345.9,235.0L347.5,235.2L348.0,235.8L347.2,236.6L345.0,236.6L343.3,236.7L343.1,235.4L343.5,235.0L345.9,235.0M312.7,219.5L311.9,219.6L311.2,217.9L310.1,217.1L310.7,215.2L311.6,215.3L312.6,217.8L312.7,219.5M311.8,211.2L308.6,211.6L308.4,210.5L309.8,210.3L311.7,210.4L311.8,211.2M314.2,211.1L313.7,213.2L313.2,212.8L313.2,211.3L311.9,210.1L311.9,209.8L314.2,211.1M359.6,257.9L361.3,257.5L361.9,257.6L361.7,259.8L359.3,260.1L358.8,259.9L359.6,259.1L359.6,257.9M34.0,101.2L35.9,101.8L37.7,101.5L40.1,102.3L43.0,102.6L42.8,103.0L40.5,103.6L38.3,103.0L37.2,102.4L34.6,102.6L33.8,102.3L34.0,101.2M579.5,125.4L577.8,127.8L574.7,126.1L574.2,124.9L578.6,123.9L579.5,125.4M571.0,125.7L573.8,125.5L573.9,126.9L571.9,127.0L571.0,125.7M595.5,121.0L597.6,118.5L599.1,118.6L597.9,120.1L596.4,121.4L595.5,121.0M590.5,123.6L592.0,121.3L592.6,120.2L591.4,122.2L590.5,123.6M606.6,117.4L608.0,116.5L610.6,116.5L610.0,117.4L607.4,118.5L606.6,117.4M607.4,115.7L608.9,115.1L610.2,115.8L608.9,116.2L607.4,115.7M600.0,111.8L601.8,111.2L602.6,112.1L600.9,112.4L600.0,111.8M359.2,241.5L361.0,241.5L360.1,242.6L359.2,241.5M361.0,245.8L362.0,246.6L361.4,247.0L361.0,245.8"/>
<path class="cs" style="stroke-width:1.7" d="M855.2,231.3L854.5,233.4L856.8,236.5L859.6,240.4L862.3,242.2L864.1,244.5L865.4,250.0L865.0,255.2L862.6,257.2L859.2,259.1L856.8,261.5L853.1,264.3L852.0,262.4L852.8,260.4L850.6,258.7L848.2,258.3L846.9,256.8L845.4,253.7L842.8,252.3L840.3,252.4L840.7,250.1L838.1,250.1L837.9,253.3L836.3,257.6L835.3,260.3L835.5,262.4L837.4,262.5L838.6,265.2L839.2,267.7L840.8,269.4L842.6,269.8L844.1,271.3L844.8,271.6L846.6,273.4L847.8,275.3L848.0,277.3L847.7,278.7L847.9,279.7L848.2,281.5L849.2,282.3L850.4,284.9L850.3,285.9L848.2,286.1L845.4,283.9L841.9,281.5L841.6,280.0L839.9,278.1L839.5,275.6L838.4,274.0L838.7,271.9L838.1,270.6L836.9,269.5L836.4,268.0L834.8,266.3L833.4,264.9L832.9,266.7L832.3,265.0L832.7,263.2L833.5,260.4L833.2,258.1L834.1,255.9L833.2,254.2L833.4,250.9L832.2,249.4L831.2,245.8L830.7,242.1L829.4,239.7L827.5,241.1L824.1,243.3L822.4,243.0L820.6,242.3L821.6,238.6L821.0,235.9M546.0,141.6L546.9,139.1L549.4,138.6M533.1,116.4L530.0,119.6L532.9,119.2L536.2,119.3L535.4,121.6L532.8,124.3L535.8,124.5L538.7,128.3L540.7,128.8L542.5,132.1L543.4,133.3L547.0,133.9L546.6,135.7L545.1,136.6L546.3,138.1L543.6,139.7L539.7,139.7L534.6,140.5L533.2,139.9L531.3,141.3L528.6,140.9L526.5,142.1L524.9,141.5L529.3,138.4L531.9,137.7L527.3,137.3L526.4,136.1L529.5,135.2L527.9,133.6L528.5,131.6L532.9,131.9L533.3,130.2L531.3,128.3L527.7,127.8L527.0,127.0M529.5,116.7L533.1,116.4M521.9,135.3L516.7,137.0L512.5,136.6L514.9,133.5L513.3,130.5L517.4,128.2L519.6,126.8M522.1,126.7L525.3,128.5L523.7,130.5L524.2,132.6L521.9,135.3M868.4,234.5L865.8,235.9L863.4,235.0L863.3,232.5L864.8,231.1M870.4,231.5L869.1,232.8L868.4,234.5M938.8,293.1L939.6,297.9L942.7,299.7L945.1,296.5L948.5,294.7L951.2,294.7L953.7,295.8L955.9,296.8L959.1,297.4L964.2,299.4L969.7,301.1L971.7,302.6L973.4,304.1L973.8,305.9L978.7,307.7L979.5,309.2L976.7,309.6L977.4,311.5L980.0,313.5L981.9,316.6L983.7,316.5L983.5,317.8L985.8,318.3L984.9,318.9L988.1,320.1L987.7,321.0L985.8,321.2L985.0,320.4L982.5,320.1L979.5,319.6L977.2,317.7L975.6,316.1L974.0,313.5L970.1,312.2L967.7,313.1L965.9,314.1L966.2,316.2L963.9,317.3L962.2,316.8L959.2,316.6L956.5,314.2L953.5,313.6L952.8,314.5L949.1,314.6L950.3,312.2L952.2,311.3L951.4,308.1L950.0,305.6L944.3,303.1L941.8,302.9L937.4,300.2L936.5,301.6L935.4,301.8L934.7,300.8L934.7,299.5L932.4,298.0L935.6,297.0L937.7,297.0L937.5,296.2L933.1,296.2L932.0,294.5L929.3,293.9L928.1,292.5L932.1,291.8L933.6,290.8L938.3,292.0L938.8,293.1M890.7,277.5L889.0,280.2L891.2,282.9L890.7,284.3L894.0,287.0L890.5,287.4L889.5,289.4L889.6,292.1L886.8,294.1L886.7,297.0L885.6,301.5L885.1,300.5L881.8,301.8L880.6,300.0L878.5,299.9L877.0,298.9L873.5,300.0L872.4,298.5L870.5,298.7L868.0,298.4L867.6,294.4L866.1,293.6L864.7,291.1L864.3,288.5L864.6,285.7L866.4,283.8L868.6,284.8L870.8,284.2L871.4,281.7L872.7,281.2L876.3,280.5L878.4,278.2L879.8,276.3L881.0,275.2L883.5,273.6L885.8,271.6L887.3,269.3L888.5,269.2L890.0,270.7L890.1,272.0L892.1,272.8L894.5,273.7L894.3,274.9L892.3,275.0L892.9,276.5L890.7,277.5M855.0,307.0L851.7,307.0L849.2,304.6L845.4,302.2L844.2,300.4L841.9,298.0L840.5,295.8L838.2,291.6L835.6,289.2L834.8,286.6L833.7,284.3L831.0,282.5L829.5,279.9L827.2,278.3L824.1,275.0L823.9,273.5L825.8,273.6L830.3,274.2L833.0,277.1L835.3,279.1L836.9,280.3L839.7,283.5L842.7,283.6L845.2,285.6L846.9,288.0L849.2,289.4L848.0,291.8L849.7,292.8L850.7,292.9L851.2,295.0L852.3,296.6L854.4,296.9L855.9,298.7L855.1,302.4L855.0,307.0M863.3,309.7L869.0,310.0L869.6,308.8L875.1,310.2L876.2,312.1L880.6,312.7L884.3,314.4L880.9,315.6L877.6,314.4L875.0,314.5L871.9,314.2L869.1,313.7L865.7,312.6L863.5,312.3L862.3,312.7L856.9,311.4L856.4,310.1L853.7,309.9L855.7,307.1L859.3,307.3L861.7,308.5L862.9,308.7L863.3,309.7M912.5,285.5L910.1,288.4L907.9,289.0L905.0,288.4L900.1,288.6L897.5,289.0L897.1,291.2L899.7,293.9L901.3,292.5L906.8,291.5L906.6,292.9L905.3,292.4L904.0,294.2L901.4,295.3L904.2,299.1L903.7,300.1L906.3,303.5L906.3,305.5L904.7,306.3L903.6,305.3L905.0,302.9L902.1,304.0L901.4,303.2L901.8,302.1L899.6,300.3L899.8,297.5L897.9,298.4L898.1,301.8L898.2,306.0L896.4,306.5L895.1,305.6L895.9,302.9L895.5,300.0L894.2,300.0L893.3,298.0L894.5,296.1L894.9,293.7L896.5,289.3L897.1,288.0L899.6,285.8L901.9,286.7L905.6,287.1L909.0,287.0L912.0,284.9L912.5,285.5M911.7,316.0L912.0,315.3L914.6,314.6L916.6,314.5L917.5,314.1L918.7,314.5L917.6,315.3L914.5,316.6L912.0,317.4L910.1,319.7L907.5,320.3L907.2,320.0L907.5,319.0L908.7,317.2L911.7,316.0M896.7,314.7L899.0,314.1L900.8,315.0L902.9,314.7L905.5,313.6L905.1,315.3L900.7,316.1L896.7,315.7L896.7,314.7M887.3,314.5L889.9,313.6L891.9,314.4L894.0,314.2L893.9,315.4L891.8,315.9L888.9,316.4L887.3,316.4L887.3,314.5M894.0,317.5L897.0,317.2L899.3,319.2L897.6,320.0L894.9,318.7L894.0,317.5M881.0,313.6L883.9,313.6L886.9,314.2L886.6,316.0L884.8,315.7L882.8,315.7L881.0,314.5L881.0,313.6M920.6,283.2L922.7,286.4L922.5,288.9L921.0,288.6L920.5,290.4L921.7,292.0L920.9,292.4L919.7,290.5L918.8,286.7L919.4,284.4L920.4,283.3L920.6,283.2M927.9,298.8L929.0,301.1L926.5,299.9L924.1,299.6L922.4,299.8L920.3,299.7L921.0,298.1L924.7,298.0L927.9,298.8M917.7,298.9L918.4,299.9L917.3,300.9L915.2,300.4L914.7,299.1L917.7,298.9M900.9,235.0L902.7,235.9L903.6,235.1L903.9,235.9L903.4,237.1L904.4,239.2L903.6,241.7L901.9,242.6L901.4,245.0L902.1,247.4L903.6,247.7L904.9,247.3L908.6,249.0L908.4,250.6L909.3,251.3L909.0,252.6L906.7,251.2L905.6,249.7L904.9,250.7L903.0,249.0L900.3,249.4L898.8,248.7L899.0,247.5L899.9,246.8L899.0,246.1L898.6,247.1L897.2,245.5L896.7,244.2L896.6,241.4L897.8,242.3L898.1,237.7L899.1,235.0L900.9,235.0M915.8,264.8L916.1,266.8L916.3,268.5L915.3,271.2L914.2,268.2L912.8,269.6L913.8,271.8L912.9,273.2L909.4,271.5L908.6,269.3L909.5,268.0L907.6,266.6L906.7,267.8L905.3,267.7L903.1,269.3L902.6,268.5L903.8,266.0L905.7,265.1L907.3,264.0L908.3,265.4L910.6,264.6L911.0,263.2L913.1,263.1L913.0,260.9L915.4,262.2L915.6,263.8L915.8,264.8M895.5,256.1L896.0,258.5L894.1,260.1L892.6,262.2L888.6,265.0L890.0,262.9L892.2,261.1L894.0,259.0L895.5,256.1M909.6,252.6L912.4,252.6L913.2,253.8L914.1,257.0L911.8,256.3L911.8,257.3L912.6,259.1L911.2,259.8L911.0,257.7L910.2,257.5L909.7,255.7L911.4,256.0L911.4,254.9L909.6,252.6M906.1,256.7L906.1,255.5L906.7,256.7L907.3,257.4L906.8,259.4L909.0,256.5L908.7,259.3L907.7,260.3L906.8,262.2L905.8,263.0L904.0,261.0L904.6,260.2L905.4,259.4L905.7,257.5L906.1,256.7M902.9,258.8L902.8,257.5L903.0,256.0L904.3,255.5L906.2,255.5L906.1,256.7L904.8,258.0L902.9,258.8M900.7,249.9L901.5,251.1L900.7,253.6L899.4,252.2L897.9,249.9L900.5,250.0L900.7,249.9M537.3,112.7L538.7,111.8L539.3,110.2L537.6,110.9L537.3,112.7M531.9,115.7L534.0,114.8L534.3,115.8L531.9,115.7M991.6,305.9L990.0,306.1L989.5,307.0L987.9,307.7L986.4,308.4L984.8,308.4L982.4,307.5L980.7,306.7L981.0,305.8L983.6,306.2L985.3,306.0L986.1,304.5L986.4,306.0L988.1,305.8L988.9,304.8L990.6,303.8L992.0,302.0L992.6,302.4L992.6,304.1L991.6,305.9M995.0,303.0L994.1,303.8L993.5,302.1L992.8,300.9L991.5,299.9L989.8,298.7L987.7,297.8L988.5,297.1L990.1,297.9L991.1,298.6L992.3,299.3L993.5,300.5L994.6,301.5L995.0,303.0M999.7,307.1L999.0,304.9L999.5,304.6L999.8,305.5M853.2,294.4L855.5,294.1L857.6,297.1L857.3,298.7L855.3,298.3L853.8,295.9L853.2,294.4M860.3,297.4L862.1,297.7L862.1,299.0L860.6,299.0L860.3,297.4M829.2,285.6L831.6,287.9L831.0,288.1L829.2,286.4L829.2,285.6M833.7,292.7L835.7,294.7L834.8,294.9L833.7,293.5L833.7,292.7M875.4,310.1L878.9,309.9L879.5,310.4L876.3,311.0L875.4,310.1M942.8,291.8L945.2,293.1L944.0,293.2L942.8,291.8M938.7,306.0L940.4,306.5L939.9,310.1L938.7,308.0L938.7,306.0M929.5,312.2L931.6,311.0L931.3,313.3L929.8,313.6L929.5,312.2"/>
<path class="cs" style="stroke-width:1.8" d="M326.3,106.2L330.0,107.9L330.9,109.0L336.2,109.3M946.8,156.3L942.9,159.7L940.9,161.5L937.0,163.2L935.1,163.2L933.3,161.8L929.3,164.0L928.8,164.9L928.4,164.4L927.7,164.8L926.5,165.8L925.6,166.8L925.7,168.9L924.1,169.5L923.6,170.1L922.5,170.9L920.5,171.4L919.2,172.2L919.1,173.5L918.8,173.8L920.0,174.3L921.7,175.6L924.2,179.1L924.9,181.0L925.0,184.4L923.8,186.0L921.2,186.6L918.8,187.8L916.2,188.1L915.8,186.5L916.4,184.3L915.1,181.2L917.3,180.7L915.2,178.1L913.8,177.6L913.4,178.1L912.6,178.4L912.5,177.8L911.7,177.6L910.9,177.1L911.7,175.8L912.4,175.4L912.1,174.9L912.9,173.3L912.7,172.8L911.0,172.5L909.6,171.7M403.7,45.5L413.6,43.8L424.0,43.9L427.8,42.8L438.2,42.5L461.8,42.9L480.3,45.2L474.9,46.4L463.6,46.5L447.6,46.8L449.1,47.3L459.6,47.0L468.5,48.0L474.3,47.1L476.7,48.2L473.5,49.9L481.0,48.8L495.4,47.7L504.2,48.2L505.9,49.5L493.8,51.6L492.2,52.3L482.7,52.8L489.6,52.9L486.1,55.1L483.7,57.0M448.0,88.4L444.9,89.5L440.8,92.7L434.5,94.7M409.5,112.3L405.2,109.9L399.2,109.9L396.4,108.2L394.4,105.4L389.3,101.7M363.7,47.3L372.8,46.8L381.9,46.8L385.1,47.7L392.9,46.1L400.0,47.2L404.2,47.4L410.3,48.4L403.3,46.8L403.7,45.5M499.1,93.3L498.4,95.2L501.7,97.2L497.9,99.5L489.4,101.5L486.8,102.1L482.9,101.6L474.7,100.7L477.6,99.4L471.1,98.0L476.4,97.4L476.2,96.5L470.0,95.8L472.0,93.9L476.5,93.5L481.1,95.5L485.6,93.8L489.3,94.7L494.2,93.1L499.1,93.3M959.0,180.0L957.9,182.3L958.4,183.8L956.9,185.9L953.1,187.3L947.9,187.4L943.7,190.8L941.7,189.7L941.6,187.5L936.4,188.1L932.9,189.5L929.5,189.6L929.1,188.6L932.1,187.0L934.3,185.0L940.2,184.1L943.3,184.7L946.4,179.5L948.4,180.9L952.7,177.9L954.4,176.8L956.3,173.2L955.8,169.8L957.0,168.0L960.2,167.4L961.8,171.5L961.7,173.9L959.0,176.9L959.0,180.0M929.4,189.6L931.6,190.4L932.5,191.7L930.5,196.8L928.6,198.0L927.1,196.9L927.9,194.2L926.0,193.3L924.8,191.3L927.6,190.4L929.4,189.6M938.1,188.2L940.3,188.8L940.6,189.8L939.0,191.6L937.8,190.6L936.2,191.3L935.4,193.1L933.5,192.2L933.6,190.8L935.2,189.1L936.9,189.4L938.1,188.2M967.7,159.2L969.8,159.8L971.9,158.6L972.5,161.9L968.1,162.7L965.5,165.6L960.9,163.6L959.3,166.8L956.0,166.9L955.6,163.9L957.0,161.7L960.2,161.5L961.1,157.4L961.9,155.1L965.4,158.2L967.7,159.2M915.3,191.3L917.4,190.7L916.5,191.6L915.3,191.3"/>
<path class="cs" style="stroke-width:1.9" d="M722.7,86.0L719.6,84.3L721.1,83.3L729.8,84.2L733.9,85.1L744.7,88.5L746.6,86.9L743.6,85.4L743.6,84.7L740.0,84.5L741.0,83.1L739.4,80.8L739.3,79.8L744.7,77.1L746.7,74.5M748.9,73.9L756.7,74.6L757.3,76.3L754.5,78.7L756.4,79.6L757.3,81.7L756.6,85.7L759.9,87.5L758.6,89.5L752.8,93.7L756.2,94.2L757.4,93.1L760.7,92.3L761.5,90.9L764.0,89.5L762.3,87.8L763.7,85.8L760.4,85.6L759.7,83.9L762.1,81.0L758.2,78.6L763.5,76.6L762.8,74.5L764.3,74.4L765.9,76.1L764.7,78.9L767.9,79.5L766.5,77.3L771.5,76.1L777.6,76.0L783.1,77.7L780.4,75.2L780.1,72.1L785.3,71.5L792.4,71.6L798.8,71.2L796.4,69.7L799.8,67.7L803.3,67.7L809.0,66.2L816.8,65.8L817.8,65.0L825.6,64.7L828.0,65.4L834.6,63.8L840.0,63.8L840.9,62.6L843.7,61.3L850.7,60.1L855.8,61.1L851.7,61.8L858.4,62.3L859.2,63.7L861.9,63.0L870.6,63.0L877.2,64.5L879.6,65.6L878.9,67.1L875.6,68.0L867.8,69.6L865.6,70.5L869.3,70.9L873.7,71.7L876.3,71.1L877.8,73.0L879.1,72.2L883.9,71.8L893.4,72.2L894.1,73.6L906.4,74.1L906.6,71.8L912.9,72.3L917.6,72.3L922.4,73.9L923.7,75.8L922.0,77.0L925.7,79.3L930.4,80.5L933.2,77.4L938.0,78.7L943.0,77.9L948.7,78.9L950.9,78.0L955.7,78.4L953.6,75.7L957.5,74.4L984.2,76.3L986.7,78.1L994.5,80.4L1006.4,79.8L1012.3,80.3L1014.8,81.5L1014.4,83.7L1018.1,84.5L1022.0,83.9L1027.3,83.8L1032.9,84.4L1038.5,84.1L1043.6,86.7L1047.3,85.8L1044.9,83.9L1046.2,82.6L1055.6,83.4L1061.8,83.2L1070.3,84.6L1074.4,85.9M597.8,164.8L596.6,164.2L593.8,163.1L592.1,162.0L589.4,161.1L586.9,159.0L587.5,158.7L586.1,157.5L586.1,156.5L584.2,156.0L583.3,157.3L582.4,156.3L582.5,155.3L582.6,155.2L580.9,154.5M582.0,160.9L583.5,163.3M837.6,56.6L831.2,57.0L822.9,56.1L818.0,55.0L815.8,52.9L811.7,52.3L819.4,50.3L825.8,49.6L831.5,51.1L838.4,54.0L837.6,56.6M846.2,55.4L853.7,57.1L852.8,58.3L836.1,59.4L841.5,55.6L844.0,55.2L846.2,55.4M952.7,64.7L960.5,64.9L971.2,66.4L968.8,68.6L957.9,68.5L953.0,69.2L947.2,67.3L948.8,65.3L952.7,64.7M974.9,66.6L980.4,67.0L987.9,67.8L984.5,69.0L979.7,68.7L974.2,67.6L974.9,66.6M962.2,71.4L966.4,72.6L966.8,73.4L962.3,73.4L956.2,73.0L955.7,72.9L958.5,71.7L962.2,71.4M1074.4,80.4L1071.2,80.5L1070.7,79.6L1074.4,78.4L1074.4,80.4M720.7,82.8L720.1,83.7M845.2,58.6L849.6,58.3L852.6,56.8L845.2,58.6M823.0,50.3L830.4,50.9L828.9,51.8L823.0,51.2L823.0,50.3M749.1,72.8L753.5,72.7L753.8,73.7L749.7,73.8L749.1,72.8"/>
<path class="cs" style="stroke-width:2.0" d="M125.4,113.2L120.3,112.2L116.2,112.4L110.3,111.0L106.8,109.8L103.6,110.4L104.2,112.5L102.5,112.7L99.1,113.3L96.5,114.3L93.2,114.9L92.8,113.2L94.1,110.2L97.3,109.4L96.5,108.6L92.7,110.2L90.7,112.2L86.4,114.3L88.6,115.8L85.8,117.9L82.6,119.1L79.6,120.0L78.9,121.3L74.3,122.9L73.4,124.2L69.9,125.5L67.9,125.3L65.1,126.1L62.1,127.1L59.6,128.1L54.6,128.9L54.1,128.4L57.3,127.1L60.2,126.1L63.4,124.5L67.1,124.2L68.5,123.0L72.6,121.2L73.3,120.6L75.5,119.6L76.0,117.3L77.5,115.6L74.1,116.5L73.1,116.0L71.5,117.1L69.6,115.6L68.8,116.6L67.7,115.1L64.7,116.3L62.9,116.3L62.7,114.6L63.2,113.5L61.3,112.4L57.4,113.0L54.9,111.6L52.9,110.9L52.9,109.2L50.6,108.0M434.5,94.7L432.4,94.8L428.5,95.6L424.2,96.3L421.7,98.1L421.7,100.2L420.2,102.1L415.3,104.5L416.5,106.8L415.2,109.2L413.7,112.1L409.5,112.3M88.7,118.4L90.7,118.6L92.0,119.5L89.4,120.9L86.4,122.1L84.9,121.3L84.5,119.9L87.2,118.8L88.7,118.4M52.2,112.7L50.4,113.1L48.5,112.6L46.7,111.8L49.6,111.3L51.9,111.5L52.2,112.7M49.5,130.4L45.6,131.6L45.1,132.2L48.0,131.8L49.8,131.0L49.5,130.4M42.7,132.2L43.9,133.4L41.8,133.7L42.7,132.2"/>
<path class="cs" style="stroke-width:2.1" d="M336.2,109.3L336.1,111.7L337.0,115.5L339.8,115.9L341.9,117.7L346.2,116.0L349.0,112.8L351.0,111.4L353.3,114.1L357.1,117.8L360.4,121.4L359.2,123.2L363.1,124.9L365.8,126.6L370.5,127.3L372.4,128.3L373.6,130.8L375.9,131.2L377.1,132.3L377.3,135.6L375.1,136.7L373.0,137.8L368.2,138.8L364.4,141.2L359.4,141.7L353.1,141.1L348.7,141.1L345.6,141.3L343.1,143.4L339.3,144.7L335.1,148.6M338.9,147.0L345.1,144.5L349.6,144.2L352.2,145.7L349.4,147.7L350.3,150.8L351.3,153.1M363.0,150.8L363.2,152.9M376.0,139.9L374.0,142.5L375.9,141.5L377.9,142.1L376.9,143.2L379.5,144.0L380.9,143.3L383.8,144.2L382.9,146.3L385.0,145.8L385.3,147.4L386.3,149.2L385.0,151.8L383.7,151.9L381.7,151.4L382.4,149.0L381.6,148.6L378.1,151.2L376.4,151.1L378.5,149.7L375.6,149.0L372.4,149.1L366.7,149.0L366.2,148.2L368.1,147.1L366.8,146.3L369.3,144.5L372.3,139.8L374.2,138.1L376.7,137.1L378.1,137.3L377.5,138.0L376.0,139.9M351.1,142.3L352.2,142.1L356.1,142.8L359.1,144.0L359.2,144.6L357.7,144.6L353.9,143.7L351.1,142.3M352.7,150.7L353.7,152.1L355.8,152.5L358.6,152.5L357.1,153.7M352.3,152.6L351.5,151.6L352.7,150.7M345.8,105.7L346.3,106.7L338.3,105.5"/>
<path class="cs" style="stroke-width:2.2" d="M746.7,74.5L748.9,73.9M623.8,181.4L622.0,178.4L619.9,176.8L621.3,174.5L619.4,173.1L622.7,170.3M623.7,168.5L622.4,169.5L620.0,171.1L619.0,169.7L619.1,169.1L619.8,168.7L617.3,169.0L615.7,168.7L612.1,169.5L614.2,171.1L612.7,171.6L611.0,171.6L609.5,170.1L608.9,170.7L609.6,172.5L611.1,173.9L609.9,174.5L611.6,175.9L613.1,176.8L613.1,178.4L610.4,177.6L611.2,179.2L609.4,179.4L610.5,182.1L608.5,182.1L606.1,180.8L605.0,178.5L604.5,176.5L603.3,175.1L601.8,173.5L601.6,172.6L601.1,172.4L601.0,171.7L599.4,170.8L599.1,169.3M586.8,54.3L587.9,53.2L592.3,53.2L596.0,54.2L605.7,56.4L598.3,57.6L596.6,59.7L594.0,60.3L592.6,62.7L589.1,62.8L582.7,61.0L585.4,60.0L581.0,59.2L575.2,56.6L572.9,54.3L581.0,53.3L582.6,54.3L586.8,54.3M623.1,53.1L618.7,54.7L610.1,55.1L601.4,54.6L600.9,53.8L596.6,53.7L593.4,52.4L602.5,51.5L606.8,52.2L609.8,51.3L617.3,52.1L623.1,53.1M615.1,59.7L608.5,60.9L603.3,60.2L605.4,59.4L603.6,58.5L609.7,57.9L610.9,59.0L615.1,59.7M694.2,76.9L697.2,76.3L697.1,74.7L703.0,72.1L700.3,71.8L707.4,69.2L706.6,67.8L713.2,66.3L722.9,64.4L732.8,63.8L737.8,62.7L743.6,62.3L745.7,63.5L743.7,64.4L733.2,65.9L724.2,67.3L715.0,70.1L710.6,73.0L705.9,75.8M681.0,52.7L685.5,53.0L689.9,52.4L694.3,51.2L689.9,50.6L684.0,50.9L679.5,51.5L681.0,52.7M701.7,51.8L709.1,53.0L716.5,52.4L722.4,51.2L726.9,50.6L719.5,49.5L710.6,49.8L704.7,50.6L701.7,51.8M612.1,184.2L613.7,185.2L616.0,185.0L618.2,185.2L618.2,185.7L619.8,185.4L619.4,186.3L615.1,186.5L615.2,186.0L611.5,185.4L612.1,184.2M610.6,174.8L613.3,175.6L614.8,177.4L613.0,176.8L610.9,175.3L610.6,174.8M623.9,182.9L625.4,182.0L625.1,183.0L624.2,183.6L623.9,182.9M618.6,173.6L620.7,173.4L620.1,174.5L618.5,174.2L618.6,173.6M574.5,57.4L577.5,58.3L575.1,58.6L574.5,57.4"/>
<path class="cs" style="stroke-width:2.3" d="M165.0,81.7L170.0,84.4L174.0,82.4L174.4,84.6L178.0,84.2L179.1,83.3L182.7,83.4L187.2,84.7L194.1,85.8L198.2,86.3L201.1,86.1L205.1,87.6L200.9,89.1L206.3,89.7L214.3,89.3L216.8,88.8L219.9,90.6L223.2,89.1L220.1,87.8L222.0,86.8L225.6,86.7L228.0,86.4L230.4,87.1L233.4,88.7L236.7,88.5L241.9,89.8L246.5,89.3L250.8,89.4L250.5,87.6L253.1,87.0L257.7,88.1L257.6,90.9L259.5,88.5L261.9,88.6L263.3,85.6L260.1,83.8L256.6,82.6L256.9,79.3L260.4,77.2L264.3,77.6L267.3,78.9L271.3,82.3L268.7,83.7L274.2,84.3L274.2,87.4L278.1,85.0L281.6,86.9L280.7,89.1L283.6,91.1L286.7,89.0L288.9,86.5L289.0,83.2L293.2,83.4L297.6,83.9L301.6,85.3L301.8,86.8L299.6,88.4L301.6,89.9L301.2,91.4L295.5,93.5L291.3,93.9L288.3,93.0L287.4,94.5L284.6,97.0L283.7,98.3L280.3,100.3L276.0,100.5L273.7,101.7L273.5,103.7L270.1,104.0L266.4,106.4M311.0,105.5L313.0,104.9L318.1,105.7L321.1,106.0L323.6,105.2L326.3,106.2M590.6,87.1L598.7,83.4L605.2,82.1L610.1,82.3L614.6,79.8L620.0,79.9L625.3,79.3L634.6,81.5L630.8,82.3L634.0,84.2M368.7,66.5L360.8,64.8L354.5,64.6L346.6,64.7L339.4,64.9L335.9,64.0L330.8,62.1L338.5,61.2L344.5,61.0L331.9,60.3L325.2,59.1L325.6,57.9L336.8,56.5L347.6,55.1L348.8,54.0L340.8,52.9L343.4,51.8L353.6,49.7L357.9,49.4L356.7,48.1L363.7,47.3M290.1,95.7L290.6,97.0L292.2,96.5L293.9,97.3L297.1,98.3L300.5,99.2L300.8,100.6L302.9,100.4L305.1,101.4L302.4,102.3L297.8,101.6L296.2,100.3L293.2,101.9L289.0,103.4L288.0,101.6L284.0,101.9L286.6,100.5L287.0,98.2L288.0,95.4L290.1,95.7M286.0,73.5L288.3,75.4L291.0,73.0L298.5,71.8L303.6,74.8L303.1,76.8L309.0,75.9L311.8,74.7L318.3,76.2L322.4,77.6L322.8,78.9L328.3,78.2L331.4,80.1L338.5,81.3L341.1,82.5L343.9,85.2L338.5,86.6L345.4,88.6L350.1,89.2L354.4,91.9L359.0,92.1L358.1,94.2L352.9,97.6L349.3,96.4L344.6,93.5L340.8,93.9L340.4,95.6L343.5,97.3L347.6,98.7L348.8,99.5L350.7,102.4L349.7,104.5L345.9,103.7L338.5,101.3L342.7,103.9L345.8,105.7M338.3,105.5L331.9,103.8L328.3,102.4L329.3,101.5L324.9,100.0L320.7,98.6L320.7,99.4L312.1,99.9L309.6,98.9L311.6,96.7L317.1,96.6L323.2,96.3L322.3,95.2L323.3,93.8L327.1,90.9L326.3,89.6L325.1,88.6L320.6,87.1L314.6,86.1L316.5,85.4L313.4,83.5L310.8,83.4L308.4,82.3L306.9,83.2L301.5,83.6L290.7,82.9L284.5,82.1L279.7,81.6L277.2,80.6L280.3,79.2L276.1,79.2L275.2,76.2L277.4,73.6L280.5,72.4L288.1,71.6L286.0,73.5M204.3,73.6L202.8,75.0L209.4,74.1L213.5,75.6L216.9,74.1L219.5,75.1L222.0,78.0L223.5,76.7L221.4,73.7L224.0,73.3L226.9,73.7L230.2,75.0L232.1,77.8L233.0,79.9L237.9,81.4L243.3,82.8L243.0,84.1L238.1,84.3L240.0,85.5L239.0,86.5L233.7,86.1L228.6,85.3L225.1,85.5L219.6,86.5L212.1,86.9L206.8,87.2L205.2,85.8L201.2,85.0L198.5,85.3L194.9,83.0L196.9,82.6L201.4,82.1L205.6,82.3L209.5,81.8L203.8,81.1L197.4,81.3L193.3,81.3L191.7,80.2L198.5,79.0L194.0,79.0L188.8,78.2L191.3,76.0L193.3,74.8L201.3,73.1L204.3,73.6M185.7,78.8L177.9,80.2L176.3,78.9L169.5,77.3L170.8,76.1L172.8,73.9L175.4,72.0L172.5,70.2L182.5,69.7L186.7,70.3L194.3,70.5L197.2,71.3L200.3,72.6L196.6,73.3L189.3,75.4L185.7,77.5L185.7,78.8M271.1,47.7L275.5,47.1L278.9,47.0L284.7,46.6L289.1,45.5L292.8,45.6L296.0,46.4L298.2,44.8L302.1,44.4L307.4,44.1L316.5,43.9L318.0,44.3L326.6,43.8L333.0,43.9L339.4,44.1L347.3,44.3L353.6,44.7L359.0,45.5L358.9,46.3L351.7,47.6L344.6,48.2L341.9,48.9L348.3,48.8L341.3,50.6L336.5,51.5L331.4,53.9L325.4,54.4L323.5,55.0L314.5,55.3L318.6,55.7L316.5,56.2L319.0,57.6L316.2,58.7L311.6,59.5L310.2,60.7L306.1,61.5L306.5,62.2L311.5,62.1L311.6,62.8L303.7,64.6L296.0,63.8L287.3,64.2L282.9,63.9L277.3,63.7L276.9,62.3L282.4,61.6L280.9,59.5L282.7,59.3L290.6,60.6L286.6,58.7L281.8,58.1L284.2,57.0L289.4,56.3L290.3,55.2L286.1,54.1L284.9,52.6L292.9,52.7L295.3,53.0L299.9,51.9L293.2,51.6L282.9,51.8L277.6,50.8L275.2,49.6L271.7,48.7L271.1,47.7M306.0,68.4L303.9,69.0L299.7,69.8L295.9,69.3L287.3,69.8L281.1,69.8L276.4,69.6L268.7,68.7L267.5,66.9L267.2,65.4L264.2,64.2L258.0,63.9L254.8,62.8L256.0,61.6L261.9,61.9L265.1,62.8L271.0,62.8L273.7,63.9L272.8,64.8L276.4,65.7L278.1,66.3L282.3,66.3L286.4,66.6L291.2,66.0L297.1,65.7L302.1,66.0L305.1,67.2L306.0,68.4M245.2,71.5L248.7,72.1L253.9,71.7L254.7,72.6L252.0,74.0L256.4,75.3L255.9,77.9L251.1,79.1L248.2,78.8L246.2,77.7L238.8,75.4L238.9,74.5L244.9,74.8L241.6,72.9L245.2,71.5M266.3,74.7L263.1,76.9L259.8,76.8L257.9,74.2L258.0,72.7L259.5,71.4L262.5,70.6L268.6,70.7L274.3,71.4L269.9,74.1L266.3,74.7M246.8,84.6L249.5,83.7L251.5,82.4L254.6,83.3L256.4,83.8L257.3,84.4L259.1,85.5L257.2,86.5L253.2,85.6L250.8,86.0L246.8,84.6M221.9,64.5L223.1,65.6L225.7,65.1L228.8,65.2L229.3,66.7L227.5,68.0L217.5,68.5L210.1,69.8L205.6,69.9L205.2,68.9L211.3,67.6L198.0,68.0L193.8,67.4L197.8,64.5L200.6,63.7L209.0,64.7L214.2,66.4L219.4,66.7L215.1,63.8L217.9,62.8L220.9,63.1L221.9,64.5M244.7,63.3L250.3,63.3L253.0,64.4L253.0,65.9L251.6,68.1L246.8,68.4L243.6,67.9L243.7,66.2L238.8,66.4L238.6,64.1L241.8,64.2L244.7,63.3M284.6,54.3L288.2,55.3L284.1,56.1L278.6,58.4L273.4,58.6L267.3,58.2L264.1,57.0L264.1,55.9L266.5,55.1L261.1,55.2L257.8,54.2L255.9,52.8L258.0,51.5L260.0,50.6L263.1,50.4L261.8,49.7L268.7,49.6L272.4,51.2L277.4,51.8L282.3,52.4L284.6,54.3M189.7,60.7L198.3,60.2L197.9,62.5L195.6,63.6L192.8,63.7L187.3,65.0L182.6,65.4L178.6,64.8L178.6,63.6L183.6,62.6L189.7,60.7M229.9,55.4L235.8,55.8L243.8,56.8L245.9,58.3L247.1,59.5L242.4,59.2L237.6,58.3L230.8,58.0L233.8,57.1L230.2,56.6L229.9,55.4M250.3,56.6L255.7,57.0L259.2,58.0L258.6,59.1L254.2,59.7L251.8,58.9L250.5,57.9L250.3,56.6M206.3,59.2L216.6,58.3L217.8,59.4L216.0,60.1L210.7,61.0L206.3,60.1L206.3,59.2M207.7,56.8L214.0,56.8L217.5,57.4L214.0,58.0L209.2,58.0L207.7,56.8M257.1,66.9L261.3,66.2L265.1,68.1L263.4,69.3L259.2,69.1L255.7,68.3L257.1,66.9M302.7,71.9L311.3,72.1L316.3,73.7L316.5,74.5L313.3,74.4L310.1,74.3L306.8,74.8L306.0,74.6L302.8,73.0L302.7,71.9M296.2,106.0L299.7,103.8L302.4,104.4L299.8,105.6L297.7,106.5L296.2,106.0M304.5,106.2L305.6,105.3L307.5,106.0M304.3,106.4L304.5,106.2M314.2,88.2L320.1,87.9L320.4,90.2L315.7,90.8L313.3,89.6L314.2,88.2"/>
<path class="cs" style="stroke-width:2.4" d="M527.0,127.0L528.0,125.7L527.1,124.9L525.5,126.3L525.3,123.4L523.8,121.9L524.9,118.8L527.2,116.4L529.5,116.7M519.6,126.8L522.1,126.7M519.5,121.3L521.0,119.5L523.7,116.8L522.2,118.0L520.7,120.1L519.5,121.3M522.2,120.1L524.0,119.3L525.1,120.7L523.4,121.0L522.2,120.1"/>
<path class="cs" style="stroke-width:2.5" d="M572.6,114.0L566.8,117.4L562.9,118.1L558.8,116.6L557.7,113.4L556.8,106.6L559.5,104.7L567.3,102.2L573.1,99.1L578.6,95.0L585.7,89.3L590.6,87.1"/>
<path class="cs" style="stroke-width:2.7" d="M389.3,101.7L387.8,99.8L387.4,97.1L383.3,94.4L384.3,92.2L382.4,91.2L385.3,87.7L389.7,86.6L390.9,85.4L391.5,83.1L388.2,84.1L386.5,84.5L383.9,85.0L380.3,84.0L380.0,82.0L381.2,80.4L384.0,80.4L390.0,81.2L384.9,79.3L382.3,78.3L379.3,78.7L376.9,78.0L380.1,75.2L378.3,74.1L376.0,72.1L372.4,68.9L368.7,67.8L368.7,66.5"/>
<path class="cs" style="stroke-width:2.8" d="M483.7,57.0L483.8,60.3L487.4,62.2L482.7,62.3L477.9,63.3L483.3,64.8L484.0,67.3L480.9,67.6L484.7,70.1L478.1,70.4L481.6,71.6L480.6,72.6L476.4,73.1L472.3,73.1L476.0,75.1L476.0,76.4L470.2,75.2L468.7,76.0L472.7,76.7L476.5,78.5L477.7,80.9L472.4,81.5L470.1,80.3L466.5,78.6L467.5,80.6L464.0,82.2L471.8,82.3L475.9,82.5L468.0,85.0L459.9,87.4L451.3,88.4L448.0,88.4"/>
<path class="cs" style="stroke-width:3.0" d="M349.2,418.2L348.8,421.2L348.0,422.8L345.3,422.8L343.0,424.3L342.1,426.5L345.0,428.7L347.8,429.3L346.8,431.9L343.3,433.6L341.4,437.1L338.7,438.2L337.5,439.6L338.4,442.7L340.4,444.4L339.2,444.2L336.5,444.2L335.1,445.0L332.4,446.0L332.0,448.8L330.7,448.9L327.4,447.9L324.0,445.8L320.3,444.1L319.4,442.3L320.2,440.5L318.7,438.6L318.3,433.5L319.6,430.7L322.7,428.4L318.3,427.6L321.1,424.9L322.1,420.0L325.4,421.0L326.9,414.9L324.9,414.2L324.0,417.9L322.1,417.4L323.0,413.2M173.2,147.3L173.5,146.7L177.8,147.7M179.6,147.3L178.6,144.9L177.6,144.0L172.5,142.0L170.4,140.7L165.0,139.5L163.4,136.9L163.8,135.1L160.0,133.8L159.5,131.4L156.0,129.3L155.9,127.8L154.2,126.6L151.6,125.7L150.8,123.1L147.0,120.7L145.4,118.0L142.6,117.7L137.8,117.7L134.4,116.8L128.3,113.8L125.4,113.2M339.0,445.3L340.1,446.6L341.6,448.8L345.4,450.6L349.6,451.3L348.3,452.8L345.4,453.0L343.9,451.9L342.2,451.8L339.0,451.8L337.2,453.7L335.1,452.8L332.0,452.4L328.3,450.7L325.2,449.2L321.2,445.8L323.6,446.5L327.8,448.4L331.7,449.5L333.2,448.1L334.1,446.1L336.9,444.9L339.0,445.3M176.7,146.4L175.2,146.8L170.3,145.4L169.4,144.4L166.8,143.3L166.2,142.5L163.2,142.0L162.1,140.4L162.3,139.7L165.4,140.3L167.2,140.8L170.0,141.1L171.0,142.1L172.5,143.5L175.4,144.7L176.7,146.4M149.4,130.0L152.3,129.8L151.4,133.1L154.0,135.5L152.8,135.5L151.0,134.1L149.9,132.8L148.4,131.9L147.9,130.6L148.1,129.6L149.4,130.0M323.4,413.4L324.6,414.7L324.3,417.7L322.2,417.7L322.8,415.0L323.4,413.4M320.1,434.5L321.3,436.3L319.0,436.9L318.7,435.1L320.1,434.5M138.5,117.7L142.7,118.3L143.6,120.4L140.9,120.1L138.2,118.6L138.5,117.7M140.9,120.4L143.3,120.7L143.6,123.6L142.1,122.7L140.9,120.4M146.8,123.3L150.4,124.2L151.5,126.6L150.1,128.1L147.4,126.3L146.8,123.3M143.0,117.4L145.6,118.3L145.3,120.7L143.6,119.5L143.0,117.4M145.6,121.3L148.6,121.6L149.5,122.7L146.8,123.0L145.6,121.3"/>
<path d="M31.7,329.9h.01M33.8,330.8h.01M37.1,332.0h.01M23.8,352.3h.01M27.3,344.7h.01M26.1,348.2h.01M20.8,329.0h.01M15.2,332.0h.01M39.4,346.0h.01M69.3,352.3h.01M69.3,345.5h.01M74.9,354.4h.01M74.3,348.8h.01M74.6,316.3h.01M65.8,320.4h.01M51.6,321.9h.01M59.6,343.2h.01M98.9,341.4h.01M94.2,339.3h.01M93.1,338.5h.01M95.3,339.2h.01M91.5,338.2h.01M105.1,334.3h.01M111.3,337.9h.01M116.9,338.8h.01M125.2,343.2h.01M111.6,341.1h.01M108.9,336.7h.01M114.3,336.4h.01M120.5,339.6h.01M124.0,341.1h.01M130.8,344.4h.01M131.4,354.1h.01M139.1,352.6h.01M142.8,358.0h.01M110.1,332.5h.01M113.4,333.7h.01M103.6,336.4h.01M119.0,336.7h.01M126.7,347.9h.01M136.8,347.3h.01M132.3,351.2h.01M122.0,345.0h.01M115.2,342.3h.01M127.3,337.0h.01M122.3,334.0h.01M131.7,337.0h.01M138.2,344.4h.01M141.2,353.2h.01M99.8,358.7h.01M94.3,356.0h.01M105.3,360.2h.01M90.0,356.6h.01M115.2,371.3h.01M127.6,316.0h.01M130.8,318.5h.01M127.6,317.5h.01M129.2,316.0h.01M131.9,320.7h.01M157.2,363.8h.01M162.5,361.8h.01M218.5,369.8h.01M76.4,284.1h.01M70.6,278.3h.01M67.5,275.8h.01M34.1,298.0h.01M25.8,303.0h.01M35.9,298.9h.01M32.6,303.0h.01M33.8,316.9h.01M31.7,315.1h.01M35.6,317.5h.01M17.3,206.4h.01M40.6,240.4h.01M308.9,389.0h.01M303.0,389.4h.01M213.7,234.1h.01M219.0,259.3h.01M284.5,273.4h.01M300.6,277.9h.01M277.0,292.1h.01M274.6,293.5h.01M277.3,292.4h.01M273.7,290.6h.01M271.0,289.4h.01M275.9,288.8h.01M84.4,306.2h.01M80.8,301.5h.01M97.7,319.0h.01M91.5,323.4h.01M62.5,272.3h.01M19.9,289.1h.01M1053.7,285.6h.01M1058.8,293.2h.01M1053.4,280.5h.01M1054.6,283.8h.01M1058.2,291.5h.01M1059.7,294.1h.01M1062.6,295.3h.01M1072.1,314.8h.01M1070.6,311.9h.01M1066.5,308.3h.01M1062.9,306.5h.01M1073.8,317.5h.01M1065.9,326.6h.01M970.3,250.0h.01M973.1,244.8h.01M971.5,247.9h.01M973.3,237.7h.01M973.0,234.1h.01M940.0,267.5h.01M950.5,261.6h.01M991.0,267.8h.01M1010.0,269.3h.01M1024.2,274.0h.01M1048.1,268.7h.01M1038.1,264.0h.01M1043.4,261.6h.01M1035.4,256.6h.01M1041.3,268.1h.01M1050.5,271.7h.01M1047.5,263.4h.01M1031.5,256.0h.01M1022.1,255.7h.01M1035.7,291.2h.01M1034.8,232.7h.01M996.6,273.4h.01M985.4,264.3h.01M976.8,267.8h.01M967.4,267.8h.01M957.6,260.7h.01M930.1,280.8h.01M939.3,269.3h.01M962.6,209.6h.01M960.0,216.4h.01M930.1,213.5h.01M925.1,206.1h.01M923.3,207.6h.01M912.6,216.4h.01M909.4,217.6h.01M908.2,217.9h.01M929.5,199.3h.01M928.0,200.0h.01M925.7,201.3h.01M924.5,188.0h.01M951.4,177.4h.01M929.2,178.9h.01M954.3,187.2h.01M954.6,188.9h.01M955.5,191.9h.01M957.0,199.6h.01M935.7,182.7h.01M991.6,150.8h.01M994.6,146.4h.01M999.0,143.4h.01M988.7,152.6h.01M979.8,156.4h.01M1033.6,127.2h.01M1037.5,127.8h.01M1032.4,321.3h.01M1036.6,351.5h.01M1038.6,353.2h.01M1034.8,350.6h.01M1039.8,342.0h.01M1042.5,345.3h.01M1044.3,349.4h.01M1037.5,332.0h.01M1039.2,335.2h.01M1040.1,337.9h.01M1043.1,347.3h.01M1038.8,375.5h.01M1012.6,382.9h.01M15.8,376.1h.01M19.9,419.4h.01M1033.3,439.5h.01M1042.3,445.0h.01M1012.0,451.0h.01M1070.9,436.6h.01M1071.5,430.7h.01M976.8,295.9h.01M987.8,317.8h.01M989.0,319.0h.01M996.1,323.7h.01M997.8,323.4h.01M989.0,314.8h.01M994.0,316.6h.01M984.5,294.1h.01M993.4,298.6h.01M999.6,299.7h.01M1006.4,303.9h.01M1013.8,305.7h.01M1015.3,324.0h.01M1014.7,316.3h.01M1010.0,315.1h.01M1007.3,314.5h.01M1005.5,313.0h.01M962.6,319.8h.01M963.8,321.3h.01M966.2,318.1h.01M973.6,303.3h.01M978.6,305.7h.01M350.5,194.3h.01M316.6,215.5h.01M318.7,217.6h.01M319.9,220.8h.01M317.8,220.1h.01M323.1,223.5h.01M325.2,227.5h.01M326.4,223.5h.01M329.6,225.3h.01M328.4,225.0h.01M321.6,218.8h.01M315.4,217.3h.01M313.1,215.7h.01M322.2,222.6h.01M326.1,226.8h.01M307.4,213.8h.01M350.3,235.6h.01M350.9,235.2h.01M355.6,235.9h.01M356.4,238.6h.01M359.2,239.2h.01M360.5,244.2h.01M361.6,248.6h.01M361.0,250.5h.01M365.9,250.8h.01M359.5,253.9h.01M362.4,256.5h.01M337.9,253.6h.01M334.9,252.8h.01M340.0,253.8h.01M352.7,257.2h.01M355.4,236.4h.01M358.0,240.2h.01M359.2,237.7h.01M360.4,252.5h.01M348.8,236.2h.01M350.5,237.2h.01M345.0,254.8h.01M349.1,257.5h.01M301.8,232.7h.01M306.0,231.5h.01M294.7,224.7h.01M284.9,229.4h.01M284.7,241.2h.01M286.1,241.4h.01M287.9,241.1h.01M300.3,252.6h.01M301.2,250.3h.01M296.5,253.6h.01M306.8,265.2h.01M308.6,264.9h.01M300.0,267.7h.01M466.6,178.0h.01M461.5,175.3h.01M458.3,176.1h.01M457.1,175.6h.01M459.2,175.5h.01M449.7,173.1h.01M467.8,180.4h.01M459.5,174.3h.01M450.0,172.4h.01M491.7,192.9h.01M493.6,192.0h.01M501.8,203.9h.01M491.1,206.7h.01M488.8,207.7h.01M467.5,239.3h.01M468.1,239.9h.01M470.1,240.6h.01M474.3,240.2h.01M474.6,242.1h.01M473.5,244.8h.01M469.8,245.5h.01M468.9,245.8h.01M561.5,289.0h.01M563.9,285.0h.01M558.6,293.8h.01M499.6,313.2h.01M525.1,336.8h.01M505.6,399.3h.01M512.7,408.8h.01M446.2,301.1h.01M455.3,350.3h.01M494.7,256.3h.01M495.6,256.9h.01M494.1,257.0h.01M495.0,255.7h.01M517.4,79.9h.01M598.2,69.7h.01M626.3,56.8h.01M638.1,53.0h.01M521.3,106.2h.01M521.9,108.0h.01M538.2,111.5h.01M533.4,115.1h.01M523.4,122.7h.01M523.7,124.8h.01M526.6,125.4h.01M528.7,129.5h.01M523.7,120.4h.01M520.4,119.8h.01M535.5,144.3h.01M534.3,143.6h.01M538.2,139.9h.01M529.0,132.2h.01M517.4,130.1h.01M512.4,130.4h.01M513.3,132.8h.01M706.2,303.6h.01M706.9,302.4h.01M707.2,302.6h.01M679.3,317.5h.01M699.7,306.5h.01M708.5,310.7h.01M682.8,318.4h.01M693.2,319.5h.01M709.4,320.4h.01M703.2,336.7h.01M718.3,338.8h.01M729.5,347.9h.01M671.4,326.0h.01M673.3,325.8h.01M675.6,327.5h.01M681.9,324.0h.01M687.8,325.2h.01M684.6,329.0h.01M659.4,304.8h.01M659.6,313.0h.01M662.1,326.3h.01M662.4,334.0h.01M648.5,354.1h.01M646.9,353.5h.01M758.2,269.6h.01M757.9,273.4h.01M759.1,277.3h.01M757.9,280.8h.01M758.5,284.1h.01M758.5,288.8h.01M758.4,291.5h.01M757.6,272.0h.01M759.4,274.9h.01M757.8,279.1h.01M759.1,282.3h.01M759.4,287.0h.01M756.8,258.4h.01M757.9,265.2h.01M755.6,255.4h.01M757.0,256.9h.01M759.9,259.9h.01M756.2,311.3h.01M753.5,305.4h.01M754.4,308.9h.01M755.0,306.2h.01M816.5,262.5h.01M818.6,266.1h.01M819.5,269.0h.01M817.1,258.4h.01M815.9,257.2h.01M819.8,253.4h.01M820.9,250.1h.01M819.6,268.4h.01M815.6,258.4h.01M831.3,257.5h.01M832.5,254.8h.01M831.9,252.8h.01M832.8,261.3h.01M831.6,261.9h.01M833.1,266.4h.01M836.9,270.8h.01M833.7,267.2h.01M759.4,446.6h.01M694.9,426.8h.01M690.5,425.9h.01M653.5,428.3h.01M771.2,401.4h.01M771.2,404.1h.01M828.5,325.6h.01M854.5,320.7h.01M691.4,212.9h.01M708.5,210.7h.01M707.4,210.8h.01M700.5,217.9h.01M697.6,218.2h.01M666.2,240.4h.01M666.8,248.6h.01M660.6,243.3h.01M660.0,242.4h.01M661.2,242.7h.01M651.0,214.3h.01M642.3,209.0h.01M715.5,229.4h.01M715.9,229.7h.01M712.2,349.7h.01M706.2,352.1h.01M862.1,278.2h.01M856.1,280.8h.01M851.1,287.0h.01M851.4,290.3h.01M850.5,287.9h.01M849.3,287.3h.01M826.3,282.0h.01M844.5,305.7h.01M838.4,298.0h.01M839.0,298.6h.01M836.6,295.6h.01M833.4,290.9h.01M875.2,306.8h.01M883.4,310.1h.01M868.6,306.8h.01M898.4,307.7h.01M905.5,304.5h.01M904.7,304.5h.01M902.6,305.4h.01M906.4,293.8h.01M907.3,294.7h.01M912.9,295.2h.01M914.7,295.0h.01M919.4,294.1h.01M919.1,291.5h.01M918.8,287.3h.01M921.8,282.9h.01M917.1,277.3h.01M913.2,279.1h.01M912.9,281.7h.01M934.8,306.5h.01M935.7,306.2h.01M915.6,312.7h.01M910.9,314.2h.01M908.8,314.2h.01M906.7,314.2h.01M906.1,321.3h.01M902.6,320.7h.01M925.7,313.0h.01M922.4,310.7h.01M919.1,312.2h.01M928.9,290.3h.01M926.8,295.3h.01M929.2,293.0h.01M944.9,295.0h.01M941.0,292.7h.01M926.2,303.0h.01M920.9,300.3h.01M931.3,303.6h.01M926.5,295.6h.01M952.0,313.9h.01M939.6,307.7h.01M885.7,315.4h.01M908.2,259.0h.01M909.4,260.6h.01M911.5,257.5h.01M907.6,253.6h.01M909.5,248.9h.01M902.9,250.1h.01M903.2,252.8h.01M897.3,253.9h.01M896.7,254.5h.01M903.0,270.3h.01M900.2,272.0h.01M897.0,274.3h.01M902.7,229.3h.01M902.0,232.7h.01M902.6,233.9h.01M897.6,258.7h.01M899.9,256.6h.01M914.9,260.6h.01M913.5,259.9h.01M908.5,256.6h.01M904.7,258.1h.01M889.0,268.4h.01M892.5,269.0h.01M895.2,274.3h.01M901.1,270.2h.01M895.8,220.1h.01M903.5,200.8h.01M903.8,201.3h.01M902.6,174.2h.01M904.9,173.9h.01M910.6,177.7h.01M915.3,188.0h.01M917.1,188.3h.01M920.0,187.5h.01M922.4,186.6h.01M912.9,187.8h.01M896.4,214.3h.01M888.7,220.3h.01M878.9,224.0h.01M875.7,225.9h.01M868.9,227.8h.01M864.7,227.6h.01M859.7,227.9h.01M857.3,264.0h.01M849.6,259.6h.01M847.9,258.7h.01M844.9,254.2h.01M837.8,261.6h.01M837.7,260.9h.01M850.2,281.4h.01M849.2,285.9h.01M838.7,273.7h.01M837.2,271.1h.01M832.8,266.1h.01M584.6,183.6h.01M579.3,184.8h.01M577.5,181.0h.01M572.5,163.2h.01M600.6,172.7h.01M602.9,176.8h.01M603.5,178.0h.01M616.0,180.4h.01M617.1,180.7h.01M615.7,179.2h.01M616.5,178.6h.01M614.2,177.7h.01M621.3,178.1h.01M618.9,176.2h.01M616.5,171.8h.01M615.1,169.4h.01M622.3,184.5h.01M621.9,181.0h.01M621.6,180.1h.01M613.0,183.6h.01M610.0,182.7h.01M617.4,182.1h.01M617.1,170.9h.01M617.7,170.0h.01M614.8,174.8h.01M611.5,174.2h.01M612.1,173.9h.01M574.2,189.8h.01M575.1,187.2h.01M586.1,175.9h.01M581.0,175.3h.01M587.0,175.0h.01M571.0,162.6h.01M566.6,174.2h.01M590.5,162.6h.01M592.3,163.2h.01M591.1,162.0h.01M586.4,159.7h.01M585.5,157.6h.01M584.9,156.4h.01M586.1,126.7h.01M581.6,128.9h.01M575.7,127.8h.01M577.5,127.5h.01M573.4,127.5h.01M576.0,124.2h.01M573.4,124.5h.01M567.1,128.1h.01M566.8,126.0h.01M565.4,129.5h.01M557.7,132.2h.01M556.5,132.8h.01M601.2,111.8h.01M604.1,111.8h.01M605.6,112.1h.01M607.1,112.1h.01M610.0,118.0h.01M595.2,114.5h.01M596.7,113.9h.01M598.2,113.0h.01M605.9,102.9h.01M607.1,100.0h.01M614.8,97.6h.01M685.5,165.6h.01M690.8,170.6h.01M698.8,172.1h.01M698.8,156.1h.01M690.5,156.7h.01M38.3,120.7h.01M40.3,122.4h.01M31.2,111.2h.01M1054.0,133.4h.01M1055.5,134.9h.01M1056.7,134.0h.01M1069.4,136.6h.01M1067.3,136.0h.01M1071.8,138.1h.01M13.1,137.2h.01M17.0,136.6h.01M21.4,136.3h.01M23.8,136.0h.01M26.4,135.4h.01M31.4,135.2h.01M35.6,134.6h.01M37.1,134.0h.01M40.0,133.7h.01M42.1,133.1h.01M51.6,129.8h.01M67.8,126.9h.01M70.2,127.8h.01M81.7,124.8h.01M86.2,122.7h.01M91.2,117.4h.01M105.7,111.5h.01M108.7,111.2h.01M62.8,128.7h.01M22.0,78.7h.01M140.6,117.7h.01M148.0,124.5h.01M984.2,63.1h.01M750.5,92.6h.01M771.5,75.2h.01M776.9,74.6h.01M785.4,70.7h.01M794.9,69.6h.01M797.0,68.4h.01M805.9,61.6h.01M811.2,65.7h.01M827.4,64.2h.01M860.3,58.9h.01M875.1,63.6h.01M767.1,54.8h.01M777.2,50.6h.01M721.0,50.3h.01M713.6,50.9h.01M706.2,51.2h.01M698.8,52.1h.01M691.4,51.5h.01M732.8,49.8h.01M712.1,48.3h.01M943.1,71.0h.01M947.2,78.4h.01M918.6,75.8h.01M924.5,79.9h.01M1019.7,84.0h.01M1043.1,83.1h.01M11.6,79.9h.01M348.8,111.2h.01M350.9,107.7h.01M350.0,111.5h.01M360.7,121.9h.01M363.6,126.6h.01M370.7,129.8h.01M377.8,133.4h.01M377.2,139.9h.01M382.0,142.8h.01M383.5,149.9h.01M375.8,150.5h.01M375.5,151.4h.01M364.5,160.0h.01M360.1,149.6h.01M359.2,149.9h.01M344.4,157.9h.01M334.9,167.7h.01M333.2,167.4h.01M305.7,123.0h.01M307.4,123.6h.01M308.6,121.6h.01M305.4,113.0h.01M309.8,110.0h.01M315.1,102.4h.01M312.2,102.6h.01M333.2,103.8h.01M350.0,107.4h.01M340.9,111.2h.01M299.4,133.4h.01M306.0,132.8h.01M307.1,136.0h.01M305.4,105.9h.01M294.7,95.0h.01M287.6,96.4h.01M292.0,96.4h.01M308.3,87.9h.01M317.8,87.9h.01M305.4,84.0h.01M244.7,86.1h.01M240.9,87.0h.01M232.0,87.3h.01M216.6,87.0h.01M204.8,84.3h.01M248.3,71.3h.01M237.3,65.4h.01M234.4,67.8h.01M259.5,59.8h.01M274.3,60.4h.01M256.6,66.3h.01M261.3,67.8h.01M250.0,59.5h.01M214.8,57.1h.01M232.0,60.1h.01M229.3,60.1h.01M197.4,60.7h.01M188.2,65.4h.01M307.1,69.3h.01M304.8,64.5h.01M276.4,62.8h.01M325.2,63.3h.01M327.8,61.3h.01M337.9,61.0h.01M345.6,63.1h.01M374.0,71.3h.01M377.5,75.2h.01M382.9,78.4h.01M385.5,86.1h.01M383.5,92.0h.01M389.4,100.0h.01M391.4,103.5h.01M407.7,112.1h.01M413.9,112.7h.01M419.2,103.8h.01M423.4,97.3h.01M431.4,95.6h.01M463.0,81.4h.01M476.0,79.9h.01M469.5,79.0h.01M478.7,76.1h.01M474.9,74.3h.01M478.1,73.4h.01M482.2,69.6h.01M487.0,68.1h.01M487.9,63.9h.01M487.3,60.1h.01M485.8,55.7h.01M489.9,53.9h.01M491.7,50.3h.01M506.5,48.9h.01M445.9,42.7h.01M422.2,43.3h.01M404.5,44.7h.01M321.6,422.7h.01M319.9,427.1h.01M321.3,431.5h.01M319.3,437.4h.01M320.4,440.4h.01M321.6,443.4h.01M323.7,447.2h.01M331.1,450.5h.01M334.1,451.9h.01M337.9,453.1h.01M341.4,454.0h.01M342.9,454.7h.01M351.8,451.5h.01M324.0,425.3h.01M323.7,422.4h.01M323.1,420.9h.01M326.1,419.4h.01M365.7,442.5h.01M363.9,442.2h.01M369.0,442.2h.01M438.5,305.7h.01M426.9,329.3h.01M411.0,358.3h.01M407.7,360.2h.01M399.1,365.1h.01M398.5,371.3h.01" fill="none" stroke="#000" stroke-width="1.5" stroke-linecap="round"/>
</g>
</defs>
<defs>
<path id="f0" d="M254.7,213.3L254.1,212.2L253.9,210.8L254.0,208.8L254.7,207.5L256.3,206.0L259.2,204.8L261.9,202.6L264.4,201.9L266.2,201.7L268.4,202.4L271.0,202.0L273.2,203.6L275.3,203.7L276.4,203.1L277.5,203.5L278.1,203.1L277.5,202.6L277.5,201.4L277.0,200.6L278.2,200.1L280.5,199.9L283.1,200.3L286.4,199.9L288.3,200.6L289.7,202.0L290.2,202.1L293.2,200.8L294.4,201.2L296.7,203.7L297.5,205.3L296.9,207.3L297.3,208.4L298.7,210.7L300.3,213.3L301.4,213.9L301.9,215.2L303.3,215.6L304.2,215.2L305.0,213.4L305.1,212.2L305.2,210.3L303.8,206.8L303.8,205.6L302.5,203.5L301.5,200.9L301.0,198.9L301.4,196.8L302.8,195.1L304.5,193.6L307.7,191.7L308.1,190.7L309.6,189.6L311.1,189.4L313.1,187.7L316.1,186.8L318.0,184.6L317.6,181.7L317.3,180.7L316.4,180.5L316.3,177.6L314.3,176.7L316.2,177.2L315.6,175.3L316.2,174.0L316.5,176.5L318.0,177.6L317.1,179.6L317.4,179.7L319.0,177.4L320.0,176.2L319.9,175.1L319.2,174.6L318.6,173.0L319.6,173.7L320.2,173.9L320.4,174.6L322.6,172.4L323.2,170.2L322.3,170.1L323.3,169.3L323.2,169.6L325.0,169.6L329.2,168.8L328.3,168.2L324.0,168.8L326.4,167.9L328.1,167.7L329.4,167.6L331.6,167.1L333.0,167.1L335.0,166.7L335.3,165.8L334.4,165.1L334.7,166.2L333.5,166.2L332.5,164.6L332.5,163.0L333.0,162.4L334.6,160.6L337.7,159.7L340.8,158.7L343.9,157.3L343.4,156.3L341.5,154.7L341.5,150.6L340.2,149.8L338.2,150.3L337.2,149.5L334.9,151.7L334.0,154.0L333.0,155.4L331.7,155.8L330.8,156.0L330.5,156.7L320.5,156.7L319.2,157.3L316.1,159.4L315.9,159.5L316.6,159.4L315.7,161.2L312.5,161.9L308.3,161.9L308.6,162.7L308.5,162.9L308.6,162.9L308.3,163.5L303.9,165.6L300.9,166.8L298.0,167.4L295.3,166.5L296.2,165.0L296.3,165.0L296.8,164.3L298.2,162.7L298.8,161.4L298.1,162.5L296.8,159.5L295.0,160.6L293.8,160.0L295.6,158.5L295.3,156.1L293.2,155.0L291.3,154.4L290.6,154.7L289.1,156.4L287.0,157.6L286.1,159.4L286.9,160.9L286.7,164.4L284.9,166.3L282.9,166.5L282.0,163.8L282.3,161.5L283.2,158.8L281.7,157.9L282.6,156.7L284.7,154.7L287.6,153.9L290.3,153.8L292.3,153.8L293.8,153.5L294.7,153.5L294.7,153.4L293.9,153.4L293.3,152.9L293.1,152.3L292.5,152.6L291.8,152.5L291.9,152.2L291.2,151.9L290.6,151.6L285.5,152.4L282.9,151.3L280.8,149.9L278.7,151.0L274.6,152.1L272.2,151.3L269.6,151.6L273.4,149.9L277.9,147.9L278.0,147.8L277.9,147.8L277.0,147.8L273.3,147.1L270.9,147.4L268.1,146.5L265.0,146.1L262.1,145.4L261.5,143.8L260.5,143.8L260.5,144.9L178.6,144.9L179.6,147.3L180.1,149.8L179.4,150.5L177.8,147.7L173.5,146.7L173.2,147.3L174.0,148.7L175.0,151.2L175.5,155.2L174.8,160.5L173.6,163.3L174.6,165.6L174.7,168.1L174.0,170.6L175.6,172.2L176.0,174.6L178.3,177.1L179.6,178.1L179.5,178.7L182.0,182.8L184.9,185.8L185.2,187.4L185.9,187.9L188.7,188.2L189.8,189.0L191.4,189.1L191.7,190.0L193.1,190.4L195.0,192.0L195.5,193.5L198.9,193.3L202.7,193.0L202.4,193.6L206.9,195.0L213.6,197.1L219.5,197.1L221.8,197.1L221.8,195.9L226.9,195.9L228.0,196.9L229.5,197.9L231.3,199.2L232.3,200.7L233.0,202.3L234.5,203.2L237.0,204.1L238.9,201.8L241.3,201.7L243.4,202.9L244.8,204.9L245.9,206.6L247.6,208.3L248.3,210.4L249.1,211.8L251.4,212.7L253.5,213.3Z"/>
<path id="f1" d="M124.9,83.9L121.8,83.3L117.3,82.4L113.3,82.9L111.0,82.5L105.4,82.2L99.1,81.3L96.1,81.6L91.6,81.1L91.8,80.4L86.8,80.2L85.5,80.8L83.3,79.5L78.8,78.8L74.3,80.4L71.6,80.2L66.0,81.5L63.1,81.9L60.1,83.3L59.3,84.7L55.6,86.0L50.4,86.2L48.7,87.7L52.8,88.6L55.6,89.9L57.7,91.4L61.4,92.5L63.8,94.3L57.5,94.4L57.9,93.0L55.5,93.0L48.9,94.4L44.7,95.6L48.5,97.4L49.7,98.5L54.0,99.3L58.2,98.9L60.6,99.6L61.5,98.9L64.6,98.3L66.4,98.2L64.2,99.4L65.9,99.9L66.4,101.3L64.2,102.2L62.0,101.9L59.6,103.4L57.6,102.9L55.2,103.1L54.2,104.6L51.8,106.3L50.6,108.0L52.9,109.2L52.9,110.9L54.9,111.6L57.4,113.0L61.3,112.4L63.2,113.5L62.7,114.6L62.9,116.3L64.7,116.3L67.7,115.1L68.8,116.6L69.6,115.6L71.5,117.1L73.1,116.0L74.1,116.5L77.5,115.6L76.0,117.3L75.5,119.6L73.3,120.6L72.6,121.2L68.5,123.0L67.1,124.2L63.4,124.5L60.2,126.1L57.3,127.1L54.1,128.4L54.6,128.9L59.6,128.1L62.1,127.1L65.1,126.1L67.9,125.3L69.9,125.5L73.4,124.2L74.3,122.9L78.9,121.3L79.6,120.0L82.6,119.1L85.8,117.9L88.6,115.8L86.4,114.3L90.7,112.2L92.7,110.2L96.5,108.6L97.3,109.4L94.1,110.2L92.8,113.2L93.2,114.9L96.5,114.3L99.1,113.3L102.5,112.7L104.2,112.5L103.6,110.4L106.8,109.8L110.3,111.0L116.2,112.4L120.3,112.2L125.4,113.2L128.3,113.8L134.4,116.8L137.8,117.7L142.6,117.7L143.1,117.8L143.0,117.4L144.3,117.9L145.4,118.0L145.6,118.3L145.6,118.4L147.0,120.7L148.3,121.5L148.6,121.6L148.8,121.9L150.8,123.1L151.6,125.7L154.2,126.6L155.9,127.8L157.5,126.3L157.4,124.5L152.4,122.6L149.4,119.2L147.5,117.1L144.8,115.8L142.8,114.6L141.3,113.0L138.3,114.0L135.4,115.6L132.8,113.7L130.7,112.4L127.9,111.6L124.9,111.5Z"/>
<path id="f2" d="M88.7,118.4L87.2,118.8L84.5,119.9L84.9,121.3L86.4,122.1L89.4,120.9L92.0,119.5L90.7,118.6Z"/>
<path id="f3" d="M34.0,101.2L33.8,102.3L34.6,102.6L37.2,102.4L38.3,103.0L40.5,103.6L42.8,103.0L43.0,102.6L40.1,102.3L37.7,101.5L35.9,101.8Z"/>
<path id="f4" d="M52.2,112.7L51.9,111.5L49.6,111.3L46.7,111.8L48.5,112.6L50.4,113.1Z"/>
<path id="f5" d="M81.9,233.3L84.1,232.0L83.3,231.0L82.9,230.6L81.0,229.8L80.8,230.1L81.0,230.7L80.5,231.2L80.3,231.5L80.8,232.6L80.7,233.4L81.5,233.8Z"/>
<path id="f6" d="M80.3,228.7L80.6,228.4L79.8,227.9L78.7,227.6L78.5,227.9L78.5,228.1L78.8,228.3L79.3,228.9Z"/>
<path id="f7" d="M75.7,226.7L74.8,225.7L74.5,225.5L73.8,225.9L73.9,226.0L74.3,226.7L75.5,226.9Z"/>
<path id="f8" d="M70.6,224.7L70.6,224.1L69.9,224.0L69.5,224.3L69.3,224.5L70.3,225.0Z"/>
<path id="f9" d="M49.5,130.4L45.6,131.6L45.1,132.2L48.0,131.8L49.8,131.0Z"/>
<path id="f10" d="M42.7,132.2L41.8,133.7L43.9,133.4Z"/>
<path id="f11" d="M27.0,134.9L25.8,135.9L28.8,135.7L31.7,135.3Z"/>
<path id="f12" d="M18.7,136.3L15.8,137.2L19.6,137.1L21.1,136.6Z"/>
<path id="f13" d="M1053.7,133.1L1052.3,133.4L1054.9,134.9Z"/>
<path id="f14" d="M138.5,117.7L138.2,118.6L140.9,120.1L143.6,120.4L142.7,118.3Z"/>
<path id="f15" d="M140.9,120.4L142.1,122.7L143.6,123.6L143.3,120.7Z"/>
<path id="f16" d="M146.8,123.3L147.4,126.3L150.1,128.1L151.5,126.6L150.4,124.2Z"/>
<path id="f17" d="M145.6,118.4L145.6,118.3L144.3,117.9L143.1,117.8L143.6,119.5L145.3,120.7Z"/>
<path id="f18" d="M148.8,121.9L148.3,121.5L145.6,121.3L146.8,123.0L149.5,122.7Z"/>
<path id="f19" d="M343.4,156.3L346.7,156.0L351.4,155.9L346.3,158.3L346.4,160.8L348.7,161.0L351.9,158.9L354.9,157.7L361.4,155.9L365.1,154.0L363.2,152.9L363.0,150.8L360.0,154.1L355.1,154.5L351.3,153.1L350.3,150.8L349.4,147.7L352.2,145.7L349.6,144.2L345.1,144.5L338.9,147.0L334.2,150.8L331.7,151.3L335.1,148.6L339.3,144.7L343.1,143.4L345.6,141.3L348.7,141.1L353.1,141.1L359.4,141.7L364.4,141.2L368.2,138.8L373.0,137.8L375.1,136.7L377.3,135.6L377.1,132.3L375.9,131.2L373.6,130.8L372.4,128.3L370.5,127.3L365.8,126.6L363.1,124.9L359.2,123.2L360.4,121.4L357.1,117.8L353.3,114.1L351.0,111.4L349.0,112.8L346.2,116.0L341.9,117.7L339.8,115.9L337.0,115.5L336.1,111.7L336.2,109.3L330.9,109.0L330.0,107.9L326.3,106.2L323.6,105.2L321.1,106.0L318.1,105.7L313.0,104.9L311.0,105.5L312.0,110.2L313.2,112.8L309.7,115.9L313.3,118.2L315.4,120.7L315.6,122.7L313.9,124.7L310.6,126.8L305.9,128.2L308.0,129.7L309.5,134.4L307.9,137.4L305.6,138.4L301.2,135.6L299.1,132.3L298.1,129.3L298.6,126.7L295.4,126.5L290.5,126.3L287.4,125.0L283.7,124.2L281.6,122.8L278.6,121.7L273.1,120.4L269.0,121.0L267.6,118.8L266.3,116.0L261.9,115.5L262.1,112.1L263.2,109.7L266.4,106.4L270.1,104.0L273.5,103.7L273.7,101.7L276.0,100.5L280.3,100.3L283.7,98.3L284.6,97.0L287.4,94.5L288.3,93.0L291.3,93.9L295.5,93.5L301.2,91.4L301.6,89.9L299.6,88.4L301.8,86.8L301.6,85.3L297.6,83.9L293.2,83.4L289.0,83.2L288.9,86.5L286.7,89.0L283.6,91.1L280.7,89.1L281.6,86.9L278.1,85.0L274.2,87.4L274.2,84.3L268.7,83.7L271.3,82.3L267.3,78.9L264.3,77.6L260.4,77.2L256.9,79.3L256.6,82.6L260.1,83.8L263.3,85.6L261.9,88.6L259.5,88.5L257.6,90.9L257.7,88.1L253.1,87.0L250.5,87.6L250.8,89.4L246.5,89.3L241.9,89.8L236.7,88.5L233.4,88.7L230.4,87.1L228.0,86.4L225.6,86.7L222.0,86.8L220.1,87.8L223.2,89.1L219.9,90.6L216.8,88.8L214.3,89.3L206.3,89.7L200.9,89.1L205.1,87.6L201.1,86.1L198.2,86.3L194.1,85.8L187.2,84.7L182.7,83.4L179.1,83.3L178.0,84.2L174.4,84.6L174.0,82.4L170.0,84.4L165.0,81.7L163.0,81.4L162.3,82.8L160.1,83.5L158.1,82.3L153.2,83.0L148.8,84.3L144.4,83.9L140.8,84.9L138.2,86.1L135.1,85.8L130.5,84.4L124.9,83.9L124.9,111.5L127.9,111.6L130.7,112.4L132.8,113.7L135.4,115.6L138.3,114.0L141.3,113.0L142.8,114.6L144.8,115.8L147.5,117.1L149.4,119.2L152.4,122.6L157.4,124.5L157.5,126.3L155.9,127.8L156.0,129.3L159.5,131.4L160.0,133.8L163.8,135.1L163.4,136.9L165.0,139.5L170.4,140.7L172.5,142.0L177.6,144.0L178.6,144.9L260.5,144.9L260.5,143.8L261.5,143.8L262.1,145.4L265.0,146.1L268.1,146.5L270.9,147.4L273.3,147.1L277.0,147.8L277.9,147.8L278.0,147.8L280.8,146.4L281.1,145.1L286.1,145.6L287.6,148.0L290.6,149.0L291.8,150.8L292.0,152.3L291.9,152.2L291.8,152.5L292.5,152.6L293.1,152.3L293.3,152.9L293.9,153.4L294.7,153.4L294.7,153.5L297.1,153.5L300.3,153.8L303.3,154.1L306.0,156.7L305.4,157.9L303.0,157.6L300.6,155.8L301.5,157.3L300.3,159.4L299.1,160.9L298.8,161.4L298.2,162.7L296.8,164.3L296.3,165.0L297.7,165.4L300.0,164.7L303.0,163.7L306.0,163.1L308.5,162.9L308.6,162.7L308.3,161.9L306.0,161.7L306.8,160.9L308.6,160.1L311.6,159.8L314.2,159.7L315.9,159.5L316.1,159.4L319.2,157.3L320.5,156.7L330.5,156.7L330.8,156.0L331.7,155.8L333.0,155.4L334.0,154.0L334.9,151.7L337.2,149.5L338.2,150.3L340.2,149.8L341.5,150.6L341.5,154.7Z"/>
<path id="f20" d="M286.0,73.5L288.1,71.6L280.5,72.4L277.4,73.6L275.2,76.2L276.1,79.2L280.3,79.2L277.2,80.6L279.7,81.6L284.5,82.1L290.7,82.9L301.5,83.6L306.9,83.2L308.4,82.3L310.8,83.4L313.4,83.5L316.5,85.4L314.6,86.1L320.6,87.1L325.1,88.6L326.3,89.6L327.1,90.9L323.3,93.8L322.3,95.2L323.2,96.3L317.1,96.6L311.6,96.7L309.6,98.9L312.1,99.9L320.7,99.4L320.7,98.6L324.9,100.0L329.3,101.5L328.3,102.4L331.9,103.8L338.3,105.5L346.3,106.7L345.8,105.7L342.7,103.9L338.5,101.3L345.9,103.7L349.7,104.5L350.7,102.4L348.8,99.5L347.6,98.7L343.5,97.3L340.4,95.6L340.8,93.9L344.6,93.5L349.3,96.4L352.9,97.6L358.1,94.2L359.0,92.1L354.4,91.9L350.1,89.2L345.4,88.6L338.5,86.6L343.9,85.2L341.1,82.5L338.5,81.3L331.4,80.1L328.3,78.2L322.8,78.9L322.4,77.6L318.3,76.2L311.8,74.7L309.0,75.9L303.1,76.8L303.6,74.8L298.5,71.8L291.0,73.0L288.3,75.4Z"/>
<path id="f21" d="M204.3,73.6L201.3,73.1L193.3,74.8L191.3,76.0L188.8,78.2L194.0,79.0L198.5,79.0L191.7,80.2L193.3,81.3L197.4,81.3L203.8,81.1L209.5,81.8L205.6,82.3L201.4,82.1L196.9,82.6L194.9,83.0L198.5,85.3L201.2,85.0L205.2,85.8L206.8,87.2L212.1,86.9L219.6,86.5L225.1,85.5L228.6,85.3L233.7,86.1L239.0,86.5L240.0,85.5L238.1,84.3L243.0,84.1L243.3,82.8L237.9,81.4L233.0,79.9L232.1,77.8L230.2,75.0L226.9,73.7L224.0,73.3L221.4,73.7L223.5,76.7L222.0,78.0L219.5,75.1L216.9,74.1L213.5,75.6L209.4,74.1L202.8,75.0Z"/>
<path id="f22" d="M185.7,78.8L185.7,77.5L189.3,75.4L196.6,73.3L200.3,72.6L197.2,71.3L194.3,70.5L186.7,70.3L182.5,69.7L172.5,70.2L175.4,72.0L172.8,73.9L170.8,76.1L169.5,77.3L176.3,78.9L177.9,80.2Z"/>
<path id="f23" d="M271.1,47.7L271.7,48.7L275.2,49.6L277.6,50.8L282.9,51.8L293.2,51.6L299.9,51.9L295.3,53.0L292.9,52.7L284.9,52.6L286.1,54.1L290.3,55.2L289.4,56.3L284.2,57.0L281.8,58.1L286.6,58.7L290.6,60.6L282.7,59.3L280.9,59.5L282.4,61.6L276.9,62.3L277.3,63.7L282.9,63.9L287.3,64.2L296.0,63.8L303.7,64.6L311.6,62.8L311.5,62.1L306.5,62.2L306.1,61.5L310.2,60.7L311.6,59.5L316.2,58.7L319.0,57.6L316.5,56.2L318.6,55.7L314.5,55.3L323.5,55.0L325.4,54.4L331.4,53.9L336.5,51.5L341.3,50.6L348.3,48.8L341.9,48.9L344.6,48.2L351.7,47.6L358.9,46.3L359.0,45.5L353.6,44.7L347.3,44.3L339.4,44.1L333.0,43.9L326.6,43.8L318.0,44.3L316.5,43.9L307.4,44.1L302.1,44.4L298.2,44.8L296.0,46.4L292.8,45.6L289.1,45.5L284.7,46.6L278.9,47.0L275.5,47.1Z"/>
<path id="f24" d="M306.0,68.4L305.1,67.2L302.1,66.0L297.1,65.7L291.2,66.0L286.4,66.6L282.3,66.3L278.1,66.3L276.4,65.7L272.8,64.8L273.7,63.9L271.0,62.8L265.1,62.8L261.9,61.9L256.0,61.6L254.8,62.8L258.0,63.9L264.2,64.2L267.2,65.4L267.5,66.9L268.7,68.7L276.4,69.6L281.1,69.8L287.3,69.8L295.9,69.3L299.7,69.8L303.9,69.0Z"/>
<path id="f25" d="M245.2,71.5L241.6,72.9L244.9,74.8L238.9,74.5L238.8,75.4L246.2,77.7L248.2,78.8L251.1,79.1L255.9,77.9L256.4,75.3L252.0,74.0L254.7,72.6L253.9,71.7L248.7,72.1Z"/>
<path id="f26" d="M266.3,74.7L269.9,74.1L274.3,71.4L268.6,70.7L262.5,70.6L259.5,71.4L258.0,72.7L257.9,74.2L259.8,76.8L263.1,76.9Z"/>
<path id="f27" d="M246.8,84.6L250.8,86.0L253.2,85.6L257.2,86.5L259.1,85.5L257.3,84.4L256.4,83.8L254.6,83.3L251.5,82.4L249.5,83.7Z"/>
<path id="f28" d="M221.9,64.5L220.9,63.1L217.9,62.8L215.1,63.8L219.4,66.7L214.2,66.4L209.0,64.7L200.6,63.7L197.8,64.5L193.8,67.4L198.0,68.0L211.3,67.6L205.2,68.9L205.6,69.9L210.1,69.8L217.5,68.5L227.5,68.0L229.3,66.7L228.8,65.2L225.7,65.1L223.1,65.6Z"/>
<path id="f29" d="M244.7,63.3L241.8,64.2L238.6,64.1L238.8,66.4L243.7,66.2L243.6,67.9L246.8,68.4L251.6,68.1L253.0,65.9L253.0,64.4L250.3,63.3Z"/>
<path id="f30" d="M284.6,54.3L282.3,52.4L277.4,51.8L272.4,51.2L268.7,49.6L261.8,49.7L263.1,50.4L260.0,50.6L258.0,51.5L255.9,52.8L257.8,54.2L261.1,55.2L266.5,55.1L264.1,55.9L264.1,57.0L267.3,58.2L273.4,58.6L278.6,58.4L284.1,56.1L288.2,55.3Z"/>
<path id="f31" d="M189.7,60.7L183.6,62.6L178.6,63.6L178.6,64.8L182.6,65.4L187.3,65.0L192.8,63.7L195.6,63.6L197.9,62.5L198.3,60.2Z"/>
<path id="f32" d="M229.9,55.4L230.2,56.6L233.8,57.1L230.8,58.0L237.6,58.3L242.4,59.2L247.1,59.5L245.9,58.3L243.8,56.8L235.8,55.8Z"/>
<path id="f33" d="M250.3,56.6L250.5,57.9L251.8,58.9L254.2,59.7L258.6,59.1L259.2,58.0L255.7,57.0Z"/>
<path id="f34" d="M206.3,59.2L206.3,60.1L210.7,61.0L216.0,60.1L217.8,59.4L216.6,58.3Z"/>
<path id="f35" d="M207.7,56.8L209.2,58.0L214.0,58.0L217.5,57.4L214.0,56.8Z"/>
<path id="f36" d="M257.1,66.9L255.7,68.3L259.2,69.1L263.4,69.3L265.1,68.1L261.3,66.2Z"/>
<path id="f37" d="M302.7,71.9L302.8,73.0L306.0,74.6L306.8,74.8L310.1,74.3L313.3,74.4L316.5,74.5L316.3,73.7L311.3,72.1Z"/>
<path id="f38" d="M296.2,106.0L297.7,106.5L299.8,105.6L302.4,104.4L299.7,103.8Z"/>
<path id="f39" d="M304.5,106.2L304.3,106.4L305.1,107.3L306.4,107.6L307.5,106.0L305.6,105.3Z"/>
<path id="f40" d="M300.3,132.5L300.0,133.2L302.4,133.8L304.5,133.4L302.4,132.5Z"/>
<path id="f41" d="M290.1,95.7L288.0,95.4L287.0,98.2L286.6,100.5L284.0,101.9L288.0,101.6L289.0,103.4L293.2,101.9L296.2,100.3L297.8,101.6L302.4,102.3L305.1,101.4L302.9,100.4L300.8,100.6L300.5,99.2L297.1,98.3L293.9,97.3L292.2,96.5L290.6,97.0Z"/>
<path id="f42" d="M376.0,139.9L377.5,138.0L378.1,137.3L376.7,137.1L374.2,138.1L372.3,139.8L369.3,144.5L366.8,146.3L368.1,147.1L366.2,148.2L366.7,149.0L372.4,149.1L375.6,149.0L378.5,149.7L376.4,151.1L378.1,151.2L381.6,148.6L382.4,149.0L381.7,151.4L383.7,151.9L385.0,151.8L386.3,149.2L385.3,147.4L385.0,145.8L382.9,146.3L383.8,144.2L380.9,143.3L379.5,144.0L376.9,143.2L377.9,142.1L375.9,141.5L374.0,142.5Z"/>
<path id="f43" d="M176.7,146.4L175.4,144.7L172.5,143.5L171.0,142.1L170.0,141.1L167.2,140.8L165.4,140.3L162.3,139.7L162.1,140.4L163.2,142.0L166.2,142.5L166.8,143.3L169.4,144.4L170.3,145.4L175.2,146.8Z"/>
<path id="f44" d="M149.4,130.0L148.1,129.6L147.9,130.6L148.4,131.9L149.9,132.8L151.0,134.1L152.8,135.5L154.0,135.5L151.4,133.1L152.3,129.8Z"/>
<path id="f45" d="M351.1,142.3L353.9,143.7L357.7,144.6L359.2,144.6L359.1,144.0L356.1,142.8L352.2,142.1Z"/>
<path id="f46" d="M352.7,150.7L351.5,151.6L352.3,152.6L356.0,153.9L357.1,153.7L358.6,152.5L355.8,152.5L353.7,152.1Z"/>
<path id="f47" d="M314.2,88.2L313.3,89.6L315.7,90.8L320.4,90.2L320.1,87.9Z"/>
<path id="f48" d="M281.5,235.0L282.2,235.7L282.9,233.4L283.4,232.2L282.8,231.6L283.5,229.8L285.1,228.1L285.2,226.7L284.5,226.0L282.7,226.3L280.1,226.2L277.0,226.9L275.0,227.6L274.4,228.5L274.2,231.0L273.5,232.7L271.6,233.9L269.7,234.4L267.5,235.0L265.3,235.3L262.7,236.1L261.5,234.9L258.3,234.1L257.2,232.6L256.5,230.9L254.5,228.7L253.9,226.4L253.0,225.0L252.5,223.4L252.8,221.9L253.0,218.0L253.5,215.9L254.7,213.3L253.5,213.3L251.4,212.7L249.1,211.8L248.3,210.4L247.6,208.3L245.9,206.6L244.8,204.9L243.4,202.9L241.3,201.7L238.9,201.8L237.0,204.1L234.5,203.2L233.0,202.3L232.3,200.7L231.3,199.2L229.5,197.9L228.0,196.9L226.9,195.9L221.8,195.9L221.8,197.1L219.5,197.1L213.6,197.1L206.9,195.0L202.4,193.6L202.7,193.0L198.9,193.3L195.5,193.5L196.7,196.2L198.1,198.6L199.2,200.5L200.3,202.4L202.0,203.2L204.3,205.3L204.2,206.6L203.1,207.7L201.9,207.6L201.7,207.8L203.4,209.5L205.2,210.2L206.0,211.0L206.4,210.6L208.4,211.9L209.8,212.8L210.3,214.4L210.2,216.6L211.7,217.4L213.8,218.8L215.7,220.5L216.5,222.3L217.1,222.3L218.3,221.2L218.4,220.7L217.3,219.3L216.1,218.0L214.7,217.9L214.5,216.3L213.7,215.0L212.8,213.7L211.8,210.9L210.0,209.4L209.3,208.3L208.5,207.6L207.9,205.7L207.3,205.7L206.9,204.7L206.5,204.5L206.0,203.8L203.8,201.8L202.8,200.6L202.5,198.4L202.0,196.9L202.5,195.7L204.2,196.6L205.2,196.4L207.3,197.6L207.3,198.7L208.3,201.0L209.9,203.2L210.0,204.2L211.4,205.6L213.1,207.1L214.7,207.4L215.5,209.4L217.2,210.9L218.7,211.6L218.3,213.4L218.8,214.1L221.4,215.3L222.8,217.2L225.8,219.5L228.4,222.4L229.4,223.9L229.6,225.1L230.6,226.4L230.6,227.4L229.9,228.2L230.2,229.0L229.3,229.3L230.0,230.7L231.4,232.6L234.6,234.3L235.8,235.7L238.9,236.6L240.5,236.7L241.3,237.5L243.7,239.0L247.1,240.3L249.3,240.7L252.1,242.1L254.3,242.7L256.4,243.5L257.9,243.2L260.3,242.0L261.9,241.8L264.3,242.6L265.8,243.5L269.2,246.7L269.3,245.9L269.6,245.2L269.2,244.6L270.6,242.2L274.4,242.2L274.5,241.2L274.0,241.0L273.7,240.4L272.6,239.7L271.5,238.7L272.8,238.7L272.8,237.0L275.6,237.0L278.3,237.1L278.3,236.6L278.6,236.5L279.2,236.9L280.2,235.1L280.8,235.0L281.4,235.0Z"/>
<path id="f49" d="M298.6,221.2L297.9,221.5L295.7,221.8L294.2,222.4L292.8,223.0L292.2,224.1L290.7,225.0L291.9,225.3L293.4,225.0L293.8,224.2L295.0,224.2L297.1,222.7L300.0,222.8L298.9,223.5L300.0,224.1L303.8,224.6L304.7,225.2L307.5,226.0L309.1,225.9L309.9,227.6L310.9,228.4L312.8,228.6L314.0,229.4L312.0,231.0L316.2,230.7L318.3,231.0L320.3,230.8L322.2,230.5L322.6,229.8L320.4,228.6L318.2,228.4L318.4,227.6L316.6,227.0L315.7,227.0L313.8,225.7L311.3,223.9L310.2,223.2L307.5,223.5L306.3,222.4L303.5,221.4L301.2,221.4Z"/>
<path id="f50" d="M331.0,254.9L331.6,253.9L330.8,253.1L329.8,252.9L328.3,254.4L327.2,255.0L324.9,256.5L322.5,256.3L322.3,256.9L320.4,257.0L318.7,258.3L318.2,260.8L318.2,261.8L316.9,262.1L314.7,264.2L313.2,264.1L312.8,264.5L313.5,266.2L313.0,267.1L312.0,266.9L311.6,268.4L312.8,269.9L313.3,272.4L312.7,273.2L313.3,275.9L312.8,277.6L313.8,278.3L312.7,279.9L311.5,281.7L310.0,281.9L309.3,283.0L309.4,284.5L308.3,284.7L308.7,285.6L311.7,287.3L312.3,287.2L313.0,288.5L315.5,288.9L316.3,288.5L317.8,289.5L319.1,290.1L319.8,289.9L321.8,291.3L322.8,292.7L324.1,293.4L325.9,296.5L328.0,296.9L329.7,296.1L330.8,296.6L332.5,296.4L334.8,297.8L332.9,300.8L333.8,300.8L335.3,302.4L336.6,294.3L336.7,293.0L336.2,291.3L334.9,290.3L334.9,288.1L336.6,287.6L337.2,287.9L337.2,286.8L335.5,286.5L335.5,284.6L341.2,284.7L342.2,283.7L343.0,284.6L343.6,286.4L344.2,286.0L343.3,283.1L342.5,282.0L341.4,281.4L342.9,279.9L342.8,279.2L342.0,278.4L341.4,276.4L341.6,274.3L342.3,273.3L342.8,271.7L341.7,271.2L340.1,271.5L337.9,271.3L336.7,271.7L334.7,269.1L333.0,268.7L329.1,269.0L328.4,268.0L327.7,267.8L327.6,267.2L328.0,266.1L327.7,264.8L327.1,264.2L326.7,262.8L325.2,262.7L326.0,260.9L326.3,258.8L327.2,257.7L328.3,256.9L329.1,255.4Z"/>
<path id="f51" d="M365.2,265.0L364.1,264.3L362.5,264.3L362.1,262.0L359.8,260.5L357.5,260.3L356.4,258.9L359.0,258.0L355.4,258.1L351.7,258.3L351.7,259.0L350.1,259.9L347.8,259.6L346.1,258.2L342.9,258.5L340.3,258.5L340.2,257.5L338.3,255.9L336.2,255.8L335.1,253.8L334.1,254.7L334.5,256.1L330.8,257.3L330.9,259.5L331.9,260.6L331.2,262.7L329.9,262.9L328.8,260.5L330.1,258.8L330.1,257.3L329.2,256.0L329.1,255.4L328.3,256.9L327.2,257.7L326.3,258.8L326.0,260.9L325.2,262.7L326.7,262.8L327.1,264.2L327.7,264.8L328.0,266.1L327.6,267.2L327.7,267.8L328.4,268.0L329.1,269.0L333.0,268.7L334.7,269.1L336.7,271.7L337.9,271.3L340.1,271.5L341.7,271.2L342.8,271.7L342.3,273.3L341.6,274.3L341.4,276.4L342.0,278.4L342.8,279.2L342.9,279.9L341.4,281.4L342.5,282.0L343.3,283.1L344.2,286.0L345.8,287.6L348.1,287.4L348.7,286.4L350.9,285.8L352.1,285.3L352.5,284.0L354.6,283.2L354.4,282.6L351.9,282.3L351.5,280.5L351.6,278.5L350.3,277.7L350.8,277.4L353.0,277.8L355.4,278.6L356.2,277.9L358.3,277.4L361.7,276.3L362.7,275.2L362.4,274.3L360.3,272.1L361.1,271.3L361.1,269.9L362.9,269.4L363.6,268.9L362.6,267.8L362.9,266.7Z"/>
<path id="f52" d="M373.0,272.1L371.8,271.0L370.2,269.6L369.1,269.5L369.0,268.0L367.2,266.1L365.2,265.0L362.9,266.7L362.6,267.8L363.6,268.9L362.9,269.4L361.1,269.9L361.1,271.3L360.3,272.1L362.4,274.3L363.9,274.2L364.6,274.9L364.2,276.2L365.2,276.6L365.9,278.0L365.1,279.0L364.6,281.5L365.3,283.1L365.6,284.4L367.4,285.8L368.8,285.9L369.2,285.4L370.1,285.2L371.4,284.7L372.4,283.9L374.0,284.2L374.8,284.1L373.0,281.5L372.6,279.9L371.6,279.9L370.3,277.7L370.9,276.2L370.7,275.5L372.5,274.7Z"/>
<path id="f53" d="M382.4,272.7L379.2,271.9L376.8,272.1L376.5,272.6L373.0,272.1L372.5,274.7L370.7,275.5L370.9,276.2L370.3,277.7L371.6,279.9L372.6,279.9L373.0,281.5L374.8,284.1L376.4,284.3L376.6,283.7L376.1,283.1L376.4,282.3L377.6,282.5L379.0,282.3L380.7,282.9L381.5,281.6L381.7,280.3L382.2,279.0L381.1,277.3L380.8,275.2Z"/>
<path id="f54" d="M304.5,299.7L302.1,301.6L301.2,303.7L302.6,306.5L301.7,307.8L303.8,309.0L306.1,310.9L307.0,313.1L308.2,314.5L311.0,320.4L313.9,325.8L316.4,329.7L315.9,330.5L317.2,333.0L319.4,334.8L324.8,338.0L330.6,341.0L330.9,342.2L333.8,343.9L335.4,343.2L336.2,341.6L338.0,338.5L336.7,336.0L337.4,335.0L336.9,333.9L338.0,332.4L338.1,329.9L338.3,327.8L338.9,326.8L336.3,322.1L334.7,322.6L333.3,322.2L333.5,317.7L331.1,319.5L328.5,319.4L327.4,317.8L325.4,317.7L326.0,316.4L324.4,314.6L323.1,311.9L323.9,311.4L323.9,310.1L325.7,309.3L325.4,307.7L326.2,306.7L326.4,305.3L329.8,303.3L332.2,302.7L332.6,302.3L335.3,302.4L333.8,300.8L332.9,300.8L334.8,297.8L332.5,296.4L330.8,296.6L329.7,296.1L328.0,296.9L325.9,296.5L324.1,293.4L322.8,292.7L321.8,291.3L319.8,289.9L319.1,290.1L319.5,292.4L318.6,294.3L315.3,297.4L311.7,298.6L309.9,301.1L309.4,303.1L307.7,304.4L306.5,302.8L305.3,302.6L304.1,302.8L304.0,301.7L304.8,301.0Z"/>
<path id="f55" d="M324.5,416.0L324.9,414.2L326.9,414.9L325.4,421.0L322.1,420.0L321.1,424.9L318.3,427.6L322.7,428.4L319.6,430.7L318.3,433.5L318.7,438.6L320.2,440.5L319.4,442.3L320.3,444.1L324.0,445.8L327.4,447.9L330.7,448.9L332.0,448.8L332.4,446.0L335.1,445.0L336.5,444.2L339.2,444.2L336.4,443.8L329.3,443.4L328.0,441.7L328.1,439.5L326.1,439.6L325.1,438.6L324.8,435.4L327.1,434.1L328.0,432.2L327.7,430.8L329.3,428.2L330.4,424.3L330.0,422.6L331.3,422.0L331.0,420.9L329.6,420.3L330.6,419.1L329.3,418.0L328.6,414.5L329.8,414.0L329.3,410.4L330.0,407.3L330.8,404.7L332.5,403.6L331.6,400.7L331.6,398.0L333.9,396.1L333.8,393.6L335.5,390.7L335.5,388.0L334.7,387.5L333.3,382.4L335.2,379.4L334.9,376.5L335.9,373.8L337.9,371.0L340.0,369.2L339.1,368.0L339.7,367.1L339.6,362.2L342.8,360.7L343.8,357.6L343.5,356.9L341.4,357.3L340.2,353.2L338.6,349.9L339.6,347.1L338.0,345.8L337.6,343.7L336.2,341.6L335.4,343.2L333.8,343.9L334.5,348.1L334.7,352.9L333.8,359.5L332.8,365.7L332.2,371.4L330.5,375.0L330.9,378.6L330.0,381.1L330.7,385.5L329.4,389.9L327.4,394.6L325.6,399.4L324.3,399.5L324.6,402.8L325.4,405.7L324.1,407.7L323.0,413.2L322.1,417.4L322.3,417.4L322.8,415.0L323.4,413.4L324.6,414.7ZM320.1,434.5L321.3,436.3L319.0,436.9L318.7,435.1Z"/>
<path id="f56" d="M339.0,445.3L336.9,444.9L334.1,446.1L333.2,448.1L331.7,449.5L327.8,448.4L323.6,446.5L321.2,445.8L325.2,449.2L328.3,450.7L332.0,452.4L335.1,452.8L337.2,453.7L339.0,451.8Z"/>
<path id="f57" d="M324.0,417.7L324.5,416.0L324.6,414.7L323.4,413.4L322.8,415.0L322.3,417.4L323.1,417.7Z"/>
<path id="f58" d="M320.1,434.5L318.7,435.1L319.0,436.9L321.3,436.3Z"/>
<path id="f59" d="M499.1,93.3L494.2,93.1L489.3,94.7L485.6,93.8L481.1,95.5L476.5,93.5L472.0,93.9L470.0,95.8L476.2,96.5L476.4,97.4L471.1,98.0L477.6,99.4L474.7,100.7L482.9,101.6L486.8,102.1L489.4,101.5L497.9,99.5L501.7,97.2L498.4,95.2Z"/>
<path id="f60" d="M520.0,180.1L522.7,180.5L523.5,182.2L524.6,183.2L526.1,183.5L527.2,182.4L529.1,181.3L531.9,181.4L535.6,181.3L537.7,179.1L540.0,178.5L540.6,176.6L542.3,175.2L541.2,173.5L542.3,171.1L544.1,169.5L544.4,168.5L548.2,167.9L551.0,165.9L550.8,164.2L547.4,164.6L544.1,163.2L543.0,163.9L537.6,162.5L536.4,161.4L531.6,161.3L529.1,161.5L526.0,161.0L522.0,161.0L518.4,160.4L514.2,162.5L515.4,163.8L515.3,165.9L516.4,165.2L517.6,164.8L518.3,166.2L520.1,166.2L520.6,165.8L522.3,165.9L523.1,167.4L521.7,168.2L521.7,170.5L521.2,171.0L521.1,172.4L519.8,172.6L521.0,174.4L520.2,176.3L521.2,177.2L520.8,178.0L519.7,179.1Z"/>
<path id="f61" d="M549.0,172.7L549.8,173.0L551.2,173.6L552.2,172.2L551.2,171.6Z"/>
<path id="f62" d="M553.2,171.4L553.3,171.7L554.6,172.0L554.7,171.6Z"/>
<path id="f63" d="M545.5,174.6L545.8,174.9L546.7,174.9L546.7,174.2Z"/>
<path id="f64" d="M600.2,128.9L597.3,128.8L597.1,128.1L594.1,127.6L590.4,128.6L585.8,130.0L583.8,130.8L584.4,132.3L583.6,133.1L584.7,134.2L585.5,135.8L585.2,136.8L586.4,138.7L587.8,139.6L590.0,139.9L589.9,140.7L591.5,141.3L591.9,140.6L593.9,140.9L594.2,141.8L596.4,142.0L597.8,143.4L597.9,143.6L599.1,143.2L600.7,144.3L602.4,143.6L603.8,143.9L605.9,143.5L608.7,144.6L609.4,144.8L608.6,143.5L611.3,141.0L612.8,140.7L613.1,139.9L611.6,137.3L611.5,136.0L610.6,134.6L612.4,134.0L612.4,132.8L611.6,131.7L611.5,130.4L610.7,129.5L609.2,129.2L603.8,129.2Z"/>
<path id="f65" d="M586.4,138.7L585.1,139.0L584.3,138.6L583.6,139.2L581.5,139.8L580.4,140.5L578.2,141.2L578.7,142.0L579.0,143.3L580.5,144.0L582.2,145.3L584.4,146.2L586.1,145.0L587.1,144.8L589.4,145.7L590.8,145.5L592.2,146.1L592.6,145.4L593.9,145.5L594.9,145.2L595.0,144.9L595.5,144.8L595.7,144.1L596.4,144.0L596.9,143.4L597.8,143.4L596.4,142.0L594.2,141.8L593.9,140.9L591.9,140.6L591.5,141.3L589.9,140.7L590.0,139.9L587.8,139.6Z"/>
<path id="f66" d="M592.2,146.1L591.9,146.5L592.2,147.5L593.7,148.2L594.8,148.6L597.3,148.2L597.6,147.6L598.7,147.5L600.2,147.1L600.5,147.3L601.9,146.9L602.6,146.2L603.5,146.0L606.7,146.9L607.3,146.6L607.9,145.4L608.7,144.6L605.9,143.5L603.8,143.9L602.4,143.6L600.7,144.3L599.1,143.2L597.9,143.6L597.8,143.4L596.9,143.4L596.4,144.0L595.7,144.1L595.5,144.8L595.0,144.9L594.9,145.2L593.9,145.5L592.6,145.4Z"/>
<path id="f67" d="M592.2,147.5L592.0,148.7L590.3,148.7L590.9,149.3L589.9,151.3L590.4,151.3L591.0,152.3L591.9,152.6L594.1,153.9L596.6,154.5L597.7,154.0L600.0,153.3L601.8,153.4L604.2,152.8L606.0,150.8L607.4,148.8L609.2,148.2L609.0,147.4L607.3,146.6L606.7,146.9L603.5,146.0L602.6,146.2L601.9,146.9L600.5,147.3L600.2,147.1L598.7,147.5L597.6,147.6L597.3,148.2L594.8,148.6L593.7,148.2Z"/>
<path id="f68" d="M624.8,113.9L621.7,114.0L618.5,113.6L614.8,114.0L611.0,114.8L611.3,116.5L613.2,117.5L614.3,117.2L613.9,118.9L616.4,118.4L617.7,118.8L620.3,119.8L622.7,119.9L624.0,118.9L623.1,116.2L625.2,114.5Z"/>
<path id="f69" d="M606.6,117.4L607.4,118.5L610.0,117.4L610.6,116.5L608.0,116.5Z"/>
<path id="f70" d="M607.4,115.7L608.9,116.2L610.2,115.8L608.9,115.1Z"/>
<path id="f71" d="M613.9,118.9L613.3,121.2L611.0,121.2L608.6,119.0L605.8,120.1L604.4,121.9L604.3,124.1L607.7,123.2L612.6,123.4L615.5,123.1L616.0,123.7L617.5,123.9L620.4,125.3L622.2,124.9L625.4,123.7L624.4,122.0L624.1,120.6L622.7,119.9L620.3,119.8L617.7,118.8L616.4,118.4Z"/>
<path id="f72" d="M604.3,124.1L604.9,126.6L608.0,127.1L609.3,127.6L609.0,128.4L609.2,129.2L610.7,129.5L611.5,130.4L614.3,130.4L617.5,129.3L618.2,127.6L620.7,126.7L620.4,125.3L617.5,123.9L616.0,123.7L615.5,123.1L612.6,123.4L607.7,123.2Z"/>
<path id="f73" d="M612.2,176.2L611.6,175.9L609.9,174.5L611.1,173.9L609.6,172.5L608.9,170.7L609.5,170.1L611.0,171.6L612.7,171.6L614.2,171.1L612.1,169.5L615.7,168.7L617.3,169.0L619.8,168.7L620.7,166.9L619.3,166.1L619.2,167.6L616.5,167.9L614.4,166.8L612.1,167.6L609.9,167.5L609.3,167.7L608.9,168.2L607.3,168.1L606.1,168.8L604.2,169.0L604.1,169.8L603.1,170.2L603.0,171.2L601.6,172.6L601.8,173.5L603.3,175.1L604.5,176.5L605.0,178.5L606.1,180.8L608.5,182.1L610.5,182.1L609.4,179.4L611.2,179.2L610.4,177.6L613.1,178.4L613.1,176.8L613.0,176.8Z"/>
<path id="f74" d="M612.1,184.2L611.5,185.4L615.2,186.0L615.1,186.5L619.4,186.3L619.8,185.4L618.2,185.7L618.2,185.2L616.0,185.0L613.7,185.2Z"/>
<path id="f75" d="M612.2,176.2L613.1,176.8L614.8,177.4L613.3,175.6L610.6,174.8L610.9,175.3Z"/>
<path id="f76" d="M623.9,182.9L624.2,183.6L625.1,183.0L625.4,182.0Z"/>
<path id="f77" d="M620.4,173.9L619.9,173.5L618.6,173.6L618.5,174.2L620.1,174.5Z"/>
<path id="f78" d="M620.4,173.9L621.3,174.5L619.9,176.8L622.0,178.4L623.8,181.4L627.0,181.3L629.9,182.9L631.9,182.6L632.6,181.3L635.8,181.4L638.2,183.0L642.7,182.7L644.7,181.0L647.2,181.6L649.0,181.4L647.8,182.5L648.9,183.9L649.7,183.2L650.5,182.6L650.7,180.9L651.7,181.5L654.9,180.7L656.5,181.2L658.9,181.2L662.3,180.1L663.9,180.2L667.3,179.7L668.5,179.2L672.0,179.6L673.0,180.4L674.4,179.9L672.8,177.5L673.4,176.6L672.5,173.2L674.5,172.4L673.3,171.5L671.1,170.8L671.4,169.3L670.9,168.3L668.1,166.8L664.9,166.9L661.4,168.5L658.9,168.2L655.4,168.7L651.2,167.5L646.0,165.5L641.1,165.5L637.7,166.4L634.1,168.3L628.5,167.9L627.2,170.1L622.7,170.3L619.4,173.1L619.9,173.5L620.7,173.4Z"/>
<path id="f79" d="M619.1,169.1L619.0,169.7L620.0,171.1L622.4,169.5L623.7,168.5L627.2,168.4L627.8,167.7L625.2,166.7L624.8,165.6L622.3,165.2L619.3,166.1L620.7,166.9L619.8,168.7Z"/>
<path id="f80" d="M687.2,152.6L689.9,152.0L693.4,150.7L695.8,151.4L698.8,151.3L699.4,153.2L698.5,155.8L693.7,156.0L693.7,157.9L690.8,157.9L692.6,159.7L693.7,162.3L697.3,163.2L697.9,164.4L697.3,166.2L697.4,166.2L698.6,165.2L702.0,164.6L704.0,165.5L706.1,167.8L707.6,167.6L707.4,156.8L715.0,155.0L715.6,155.2L720.2,157.4L722.6,158.5L725.4,161.2L728.9,160.7L734.0,160.5L737.5,162.7L737.3,165.6L738.7,165.6L739.3,168.0L743.1,168.1L743.9,169.5L745.0,169.5L746.3,167.4L750.2,165.4L751.9,164.8L752.6,163.5L754.5,163.1L759.4,164.1L759.9,162.4L761.5,161.7L765.7,163.0L766.8,162.7L771.7,162.8L776.1,163.0L777.6,164.1L779.4,164.6L779.2,162.9L781.2,162.1L778.6,157.0L784.4,155.8L785.9,155.1L788.0,149.8L793.9,150.8L795.6,149.5L795.7,146.5L798.2,146.2L800.4,144.3L798.8,142.5L795.0,142.9L793.8,141.6L791.7,141.0L790.3,139.3L788.6,138.8L784.4,139.6L780.3,137.8L778.8,139.4L772.1,131.9L768.4,129.6L769.4,128.7L762.0,131.5L759.2,131.6L759.4,130.0L755.6,129.0L752.6,129.7L751.6,126.7L746.3,126.0L743.6,127.3L736.3,128.4L734.8,129.1L723.7,130.1L722.4,131.1L724.5,133.1L721.7,133.9L722.2,134.7L719.4,136.2L724.2,138.2L723.4,139.6L719.3,139.5L718.4,140.3L714.6,138.8L710.0,138.9L706.8,140.1L703.3,138.9L696.8,136.9L692.2,137.0L686.1,140.1L685.7,142.3L682.7,140.6L680.3,143.8L681.1,144.5L679.5,146.7L682.0,148.7L684.2,148.6L686.0,150.6L685.7,152.1Z"/>
<path id="f81" d="M751.9,164.8L752.8,165.1L750.3,167.0L752.5,168.1L754.6,167.4L758.1,168.9L754.3,171.1L752.0,170.8L751.0,171.7L747.8,171.2L747.5,172.9L750.7,172.7L754.3,173.6L759.9,173.2L760.4,171.8L763.2,170.4L765.2,169.8L768.4,170.2L769.5,168.3L773.3,168.0L774.3,166.8L779.0,165.2L779.4,164.6L777.6,164.1L776.1,163.0L771.7,162.8L766.8,162.7L765.7,163.0L761.5,161.7L759.9,162.4L759.4,164.1L754.5,163.1L752.6,163.5Z"/>
<path id="f82" d="M887.1,142.3L883.6,142.5L882.1,141.5L880.3,141.2L876.0,143.3L872.1,143.8L869.3,144.5L865.6,144.0L862.9,144.1L861.1,142.6L858.2,141.2L855.2,140.7L851.5,141.1L848.7,141.7L844.5,140.4L843.9,138.2L840.4,137.5L837.7,137.1L834.4,135.9L831.4,139.0L832.6,140.7L829.7,142.7L825.4,142.0L822.5,141.9L820.5,140.5L817.4,140.5L814.8,139.6L810.3,141.0L804.7,143.5L801.6,144.0L802.3,146.1L804.8,147.7L809.0,148.8L811.1,151.1L810.0,154.6L811.0,155.9L814.5,156.4L818.5,156.8L822.1,158.6L823.9,159.0L825.3,161.7L827.0,163.4L830.3,163.4L836.4,164.1L840.3,163.6L843.2,164.1L847.6,165.9L851.2,165.9L852.5,166.8L855.9,165.2L860.7,164.2L865.1,164.1L868.6,163.0L870.7,161.4L872.8,160.4L872.3,159.5L871.4,158.3L872.9,156.4L874.6,156.7L877.6,157.3L880.6,155.7L885.1,154.6L887.3,152.6L889.3,151.8L893.6,151.4L896.0,151.7L896.3,150.7L893.6,148.6L891.2,147.7L889.0,148.7L886.0,148.3L884.4,148.7L883.6,147.4L885.7,144.5Z"/>
<path id="f83" d="M861.6,226.0L863.0,225.5L867.0,226.5L866.3,227.6L867.1,229.8L868.7,229.6L869.7,226.5L872.8,226.0L877.0,224.5L878.6,223.1L879.7,224.0L881.5,222.7L884.8,222.4L888.9,219.9L893.0,217.2L895.7,213.6L898.1,209.8L900.3,206.5L901.9,206.3L902.7,203.9L903.1,201.6L901.4,200.6L900.7,199.0L902.6,198.2L902.6,196.1L900.6,193.8L898.8,191.1L897.6,188.2L894.4,186.5L896.0,184.5L898.9,183.0L900.2,181.4L904.4,180.6L903.9,179.0L902.0,178.9L899.4,177.8L896.1,179.9L893.7,179.0L893.6,177.7L891.2,177.2L889.7,175.2L891.2,173.9L894.1,173.7L895.9,171.8L899.2,169.8L901.8,168.7L903.4,170.3L901.0,172.2L901.7,173.4L900.1,174.8L903.3,174.0L905.4,172.6L909.6,171.7L912.0,169.8L915.2,168.2L917.3,166.1L918.7,167.1L921.2,167.2L920.8,165.6L925.4,164.3L926.5,162.7L928.4,164.4L928.4,162.9L929.9,162.8L930.4,159.4L929.6,156.8L932.1,155.8L935.7,156.3L937.7,153.4L938.7,150.2L939.9,149.1L941.4,146.4L936.5,147.3L934.0,148.5L929.5,148.5L928.3,145.7L924.8,143.6L919.6,142.7L918.5,139.8L917.5,138.0L916.4,136.7L914.6,133.7L912.0,132.6L907.5,131.7L903.6,131.8L899.9,132.3L897.5,133.8L899.1,134.5L899.1,136.2L897.5,137.1L894.8,140.2L894.9,141.5L890.7,143.4L887.1,142.3L885.7,144.5L883.6,147.4L884.4,148.7L886.0,148.3L889.0,148.7L891.2,147.7L893.6,148.6L896.3,150.7L896.0,151.7L893.6,151.4L889.3,151.8L887.3,152.6L885.1,154.6L880.6,155.7L877.6,157.3L874.6,156.7L872.9,156.4L871.4,158.3L872.3,159.5L872.8,160.4L870.7,161.4L868.6,163.0L865.1,164.1L860.7,164.2L855.9,165.2L852.5,166.8L851.2,165.9L847.6,165.9L843.2,164.1L840.3,163.6L836.4,164.1L830.3,163.4L827.0,163.4L825.3,161.7L823.9,159.0L822.1,158.6L818.5,156.8L814.5,156.4L811.0,155.9L810.0,154.6L811.1,151.1L809.0,148.8L804.8,147.7L802.3,146.1L801.6,144.0L800.4,144.3L798.2,146.2L795.7,146.5L795.6,149.5L793.9,150.8L788.0,149.8L785.9,155.1L784.4,155.8L778.6,157.0L781.2,162.1L779.2,162.9L779.4,164.6L779.0,165.2L774.3,166.8L773.3,168.0L769.5,168.3L768.4,170.2L765.2,169.8L763.2,170.4L760.4,171.8L759.9,173.2L760.7,175.9L761.7,175.6L763.4,176.3L763.3,177.4L763.8,179.1L764.3,180.0L766.5,181.3L767.4,183.6L772.3,184.8L775.4,188.3L775.1,190.7L776.3,192.2L776.2,193.7L774.1,193.3L774.9,196.6L777.8,198.4L781.9,200.5L783.2,199.8L785.5,200.7L788.5,202.6L790.2,203.1L791.2,204.5L793.5,205.1L795.9,206.4L799.2,207.0L802.7,207.3L804.5,206.7L804.7,209.0L806.7,206.8L808.3,206.1L810.4,206.8L811.9,206.8L813.2,207.6L815.6,207.3L818.3,205.1L821.7,203.2L824.2,203.9L826.3,202.7L826.7,205.7L829.9,206.2L831.6,206.0L832.6,207.7L833.9,208.4L834.0,210.7L833.9,213.1L831.1,215.6L830.7,219.1L833.8,218.6L834.5,221.3L836.4,221.9L835.6,224.3L838.2,226.0L841.3,226.3L841.6,227.1L843.1,227.1L842.7,223.7L844.2,223.3L845.8,222.6L848.2,222.6L851.1,222.3L853.6,220.7L855.0,221.8L857.7,222.4L857.2,224.0Z"/>
<path id="f84" d="M868.4,234.5L869.1,232.8L870.4,231.5L869.7,230.4L868.0,230.3L864.8,231.1L863.3,232.5L863.4,235.0L865.8,235.9Z"/>
<path id="f85" d="M902.2,217.6L902.7,215.8L901.4,214.9L899.0,217.2L897.3,220.1L897.6,222.3L899.2,224.8L900.5,222.4Z"/>
<path id="f86" d="M685.7,201.3L686.8,200.1L688.7,201.1L690.3,200.6L692.4,204.6L694.4,207.3L697.2,208.2L700.2,210.5L703.9,211.5L706.8,210.0L709.1,209.5L710.5,210.0L711.8,213.6L715.1,214.0L718.4,214.7L723.9,215.6L725.0,212.2L729.3,210.6L729.0,209.3L727.6,208.8L727.6,206.2L724.7,204.9L723.5,203.1L722.1,201.6L724.7,198.9L724.5,197.0L722.3,196.5L722.0,194.6L721.1,192.2L722.3,190.6L721.0,190.2L721.8,188.0L723.1,184.4L722.8,181.9L720.6,181.8L717.2,179.2L714.9,178.8L711.6,177.3L709.5,177.1L708.2,177.6L706.2,177.5L704.1,179.2L701.5,179.8L701.4,179.8L701.1,180.5L696.7,181.3L692.3,180.8L690.2,179.2L687.5,178.6L686.6,176.5L686.7,176.5L686.6,176.5L685.8,176.6L684.0,175.1L685.0,173.6L684.2,172.7L683.1,172.9L679.6,175.1L678.5,175.2L677.3,173.5L676.0,173.1L675.1,172.3L674.5,172.4L672.5,173.2L673.4,176.6L672.8,177.5L674.4,179.9L676.4,183.4L678.3,184.3L678.5,186.0L677.0,187.0L676.4,189.3L678.4,192.1L682.0,193.8L683.5,196.0L683.1,198.2L684.0,198.1L684.0,199.7Z"/>
<path id="f87" d="M723.1,184.4L721.8,188.0L721.0,190.2L722.3,190.6L721.1,192.2L722.0,194.6L722.3,196.5L724.5,197.0L724.7,198.9L722.1,201.6L727.0,203.1L730.0,202.6L731.8,203.0L732.3,202.4L734.4,202.6L738.3,201.4L738.4,198.9L740.0,197.2L742.2,197.2L742.5,196.4L744.8,196.0L745.9,196.3L747.0,195.4L746.9,193.7L748.1,191.9L750.0,191.1L748.9,189.2L751.7,189.3L752.5,188.2L752.4,187.1L753.8,185.8L753.5,184.4L752.8,183.1L754.5,181.8L757.7,181.2L761.1,180.8L762.6,180.3L764.3,180.0L763.8,179.1L760.7,179.1L758.7,178.9L756.9,180.2L755.5,180.5L754.5,181.1L753.3,180.2L753.6,177.7L752.7,177.6L753.1,176.6L751.5,176.0L750.2,177.0L749.9,178.2L749.4,178.6L747.6,178.6L746.7,179.9L745.7,179.4L743.6,180.3L742.6,180.0L740.4,179.3L738.8,179.3L737.9,179.2L736.5,178.4L736.0,179.4L733.5,180.0L732.9,182.4L731.3,183.3L728.9,183.7L728.3,185.1L726.1,185.5Z"/>
<path id="f88" d="M805.4,224.5L806.5,224.8L807.3,225.1L807.8,224.6L809.0,225.2L810.0,223.5L809.7,222.3L812.4,222.4L813.6,224.2L814.2,225.6L814.4,227.1L815.2,228.6L815.0,226.2L816.1,226.7L816.1,224.6L814.6,219.9L813.8,219.9L813.3,221.8L811.7,220.3L812.6,218.6L813.9,218.4L815.3,215.9L813.5,215.4L810.8,215.4L808.0,215.0L807.7,213.0L806.3,212.8L804.0,211.5L802.9,213.5L805.1,215.1L803.2,216.2L802.5,217.3L804.4,218.1L803.9,219.9L804.9,222.1Z"/>
<path id="f89" d="M535.6,185.8L534.3,185.7L531.2,185.1L528.4,185.3L526.6,184.0L524.5,184.0L523.5,185.8L521.6,188.9L519.4,190.1L516.4,191.5L514.5,193.5L514.1,195.0L513.0,197.6L513.7,201.3L511.2,203.7L509.8,204.5L507.4,206.5L504.7,206.8L503.2,208.0L515.9,208.0L516.4,208.0L516.4,204.5L521.1,202.3L524.1,201.8L526.5,201.0L527.6,199.6L531.1,198.4L531.2,196.2L532.9,196.0L534.3,194.9L538.1,194.4L538.7,193.2L537.9,192.6L536.9,189.5L536.7,187.7Z"/>
<path id="f90" d="M491.5,227.6L493.1,228.9L493.8,230.3L493.5,231.8L493.9,233.3L494.2,236.2L493.9,239.0L493.0,240.4L493.3,242.0L494.3,241.1L495.8,241.3L497.2,240.7L498.9,240.6L500.3,241.5L502.2,242.3L504.0,244.5L506.0,246.5L507.0,246.0L507.5,244.2L508.4,244.2L510.5,245.0L512.2,244.4L513.3,244.6L513.8,243.9L525.6,243.9L526.3,241.8L525.8,241.4L524.3,228.7L522.9,215.9L527.4,215.9L516.3,208.8L516.3,213.2L506.6,213.1L506.7,220.6L503.9,220.9L503.2,222.4L503.8,226.7L492.2,226.7Z"/>
<path id="f91" d="M527.4,215.9L522.9,215.9L524.3,228.7L525.8,241.4L526.3,241.8L525.6,243.9L513.8,243.9L513.3,244.6L512.2,244.4L510.5,245.0L508.4,244.2L507.5,244.2L507.0,246.0L506.0,246.5L506.1,248.4L506.7,250.0L507.8,250.9L508.1,252.0L508.0,252.9L508.6,254.0L509.3,253.6L509.8,253.7L510.7,254.5L511.9,254.7L512.7,254.1L513.7,253.7L514.4,253.3L515.0,253.3L515.6,254.0L516.0,254.8L517.2,256.0L516.6,256.8L516.5,257.8L517.1,257.5L517.5,257.8L517.3,258.7L518.2,259.5L518.6,259.3L519.5,259.7L521.7,259.7L522.3,258.9L522.8,258.9L523.6,258.6L524.1,259.9L524.8,259.5L526.0,259.1L525.8,257.3L526.6,256.1L526.6,255.1L528.9,252.6L529.3,250.6L530.1,249.9L531.6,250.3L532.8,249.7L533.2,248.9L535.5,247.6L536.1,246.7L538.8,245.5L540.5,245.0L541.2,245.6L543.1,245.6L545.0,245.5L546.1,244.4L550.1,244.2L552.8,243.7L553.0,241.9L554.6,239.9L554.6,233.1L551.3,233.4L551.3,231.5L549.9,231.0L548.1,230.2L547.4,228.8L537.4,222.4Z"/>
<path id="f92" d="M554.6,233.1L554.6,239.9L553.0,241.9L552.8,243.7L550.1,244.2L546.1,244.4L545.0,245.5L543.1,245.6L542.9,247.0L543.3,248.4L544.9,250.3L545.0,251.7L548.4,252.4L548.4,254.4L549.4,253.6L550.4,253.5L552.7,255.2L552.9,252.6L553.7,251.4L554.2,249.7L554.9,249.1L558.1,248.7L561.1,249.8L562.2,250.9L563.7,251.0L565.1,250.3L568.7,251.8L570.2,251.7L571.9,250.5L573.7,250.5L574.5,250.1L576.1,250.3L578.4,251.2L580.7,249.5L582.2,249.2L582.1,247.2L583.3,243.4L587.1,240.6L587.3,236.7L588.4,230.7L589.0,229.4L587.8,228.4L587.8,227.5L586.7,226.7L585.9,222.1L583.8,223.2L582.2,221.6L577.5,220.3L567.4,226.0L558.8,231.8Z"/>
<path id="f93" d="M612.5,231.8L600.7,226.2L588.9,220.5L585.9,222.1L586.7,226.7L587.8,227.5L587.8,228.4L589.0,229.4L588.4,230.7L587.3,236.7L587.1,240.6L583.3,243.4L582.1,247.2L582.2,249.2L583.7,251.0L583.9,252.8L586.0,253.6L586.3,255.5L586.1,257.5L587.8,260.2L586.1,260.2L585.3,260.4L583.9,260.1L583.3,261.5L585.0,263.2L586.3,263.7L586.7,264.9L587.7,267.0L587.2,267.8L589.7,267.5L590.2,266.8L590.7,266.9L591.4,267.5L595.1,266.4L596.4,265.2L597.9,264.2L597.6,263.2L598.5,262.9L601.3,263.1L604.1,261.7L606.2,258.5L607.8,257.3L609.6,256.8L609.7,256.1L608.6,255.2L608.6,253.5L607.9,252.3L606.9,252.5L607.2,251.4L608.0,250.2L607.6,249.0L608.6,248.1L608.0,247.4L608.8,245.6L610.1,243.4L612.7,243.6Z"/>
<path id="f94" d="M655.6,236.5L654.0,235.4L652.9,234.7L651.8,231.2L651.4,228.1L652.0,227.6L651.1,224.7L633.7,224.7L616.0,224.7L616.0,230.6L612.5,230.6L612.5,231.8L612.7,243.6L610.1,243.4L608.8,245.6L608.0,247.4L608.6,248.1L607.6,249.0L608.0,250.2L607.2,251.4L606.9,252.5L607.9,252.3L608.6,253.5L608.6,255.2L609.7,256.1L609.6,256.8L610.0,258.1L611.7,259.9L611.7,261.1L611.2,262.3L611.4,263.3L612.4,264.1L614.7,265.4L616.3,266.6L616.3,267.5L618.3,269.1L619.5,270.3L620.3,272.1L622.5,273.3L623.0,274.2L624.8,276.7L626.1,277.0L626.9,276.5L628.3,276.7L629.9,276.1L630.6,277.4L633.2,279.3L634.4,278.5L636.3,279.2L638.7,278.5L640.8,278.5L642.6,277.1L644.0,276.0L646.4,273.4L644.7,270.2L643.3,269.5L642.8,268.3L641.3,266.9L639.5,266.7L640.5,265.0L642.1,264.9L642.5,264.1L642.5,261.4L643.3,258.3L644.7,257.5L645.0,256.2L646.3,254.0L648.1,252.5L649.3,249.6L649.8,247.1L649.4,245.9L650.7,241.6L651.0,239.6L651.9,238.7L654.1,238.2Z"/>
<path id="f95" d="M669.4,252.2L668.0,251.3L667.1,250.3L665.4,248.6L663.8,246.9L659.8,244.1L658.2,242.7L657.3,239.9L655.6,236.5L654.1,238.2L651.9,238.7L651.0,239.6L650.7,241.6L649.4,245.9L649.8,247.1L653.2,247.7L654.1,245.5L655.9,246.8L657.7,246.1L658.4,246.8L660.4,246.8L663.0,248.0L663.8,249.0L665.1,250.0L666.3,251.7L667.3,252.6L668.5,252.9Z"/>
<path id="f96" d="M492.2,250.8L492.7,253.1L494.2,252.6L495.2,252.7L496.0,252.4L501.5,252.5L502.9,252.5L505.0,253.3L505.7,253.2L505.9,252.9L507.5,253.1L508.0,252.9L508.1,252.0L507.8,250.9L506.7,250.0L506.1,248.4L506.0,246.5L504.0,244.5L502.2,242.3L500.3,241.5L498.9,240.6L497.2,240.7L495.8,241.3L494.3,241.1L493.3,242.0L492.6,243.5L491.2,245.6L489.9,246.2L491.3,247.2L492.6,249.5L495.8,249.5L496.4,248.7L497.4,248.7L498.5,249.4L499.5,249.4L500.4,249.0L501.1,249.8L499.8,250.5L498.5,250.4L497.2,249.8L496.1,250.5L495.6,250.5L494.9,250.9Z"/>
<path id="f97" d="M526.0,259.1L527.4,259.7L527.9,260.7L529.2,261.3L530.2,260.6L531.6,260.4L533.6,261.2L533.2,259.0L533.3,257.3L538.5,257.2L539.8,257.4L540.7,256.9L542.1,257.1L544.7,257.2L545.7,256.9L546.3,255.6L547.7,255.3L548.4,254.4L548.4,252.4L545.0,251.7L544.9,250.3L543.3,248.4L542.9,247.0L543.1,245.6L541.2,245.6L540.5,245.0L538.8,245.5L536.1,246.7L535.5,247.6L533.2,248.9L532.8,249.7L531.6,250.3L530.1,249.9L529.3,250.6L528.9,252.6L526.6,255.1L526.6,256.1L525.8,257.3Z"/>
<path id="f98" d="M533.5,275.0L536.2,275.8L538.9,274.9L540.5,273.9L545.1,272.2L544.5,271.1L543.7,269.3L543.4,267.8L544.1,265.1L543.4,264.1L543.1,261.7L543.1,259.6L541.9,258.1L542.1,257.1L540.7,256.9L539.8,257.4L538.5,257.2L533.3,257.3L533.2,259.0L533.6,261.2L534.4,265.4L533.2,267.9L532.4,271.2L533.7,273.8Z"/>
<path id="f99" d="M545.1,272.2L547.5,271.6L546.8,269.5L546.9,262.7L546.3,262.1L546.2,260.7L545.2,259.6L544.3,258.8L544.7,257.2L542.1,257.1L541.9,258.1L543.1,259.6L543.1,261.7L543.4,264.1L544.1,265.1L543.4,267.8L543.7,269.3L544.5,271.1Z"/>
<path id="f100" d="M547.5,271.6L550.0,271.2L550.1,266.4L550.0,264.6L550.6,262.7L551.5,261.8L553.0,260.0L552.6,259.2L553.2,258.0L552.6,256.2L552.7,255.2L550.4,253.5L549.4,253.6L548.4,254.4L547.7,255.3L546.3,255.6L545.7,256.9L544.7,257.2L544.3,258.8L545.2,259.6L546.2,260.7L546.3,262.1L546.9,262.7L546.8,269.5Z"/>
<path id="f101" d="M609.6,256.8L607.8,257.3L606.2,258.5L604.1,261.7L601.3,263.1L598.5,262.9L597.6,263.2L597.9,264.2L596.4,265.2L595.1,266.4L591.4,267.5L590.7,266.9L590.2,266.8L589.7,267.5L587.2,267.8L585.7,270.8L585.0,271.3L584.8,273.6L585.1,274.8L584.8,275.7L586.2,277.3L586.5,278.3L587.6,279.8L588.9,280.8L589.1,282.1L589.4,283.0L590.9,280.2L592.7,278.7L594.7,279.2L596.6,279.4L596.8,277.3L598.0,275.8L599.6,274.8L602.0,275.8L603.9,276.9L606.1,277.2L608.3,277.8L609.1,276.0L609.6,275.8L610.9,276.1L614.2,274.6L615.4,275.2L616.3,275.1L616.8,274.4L617.9,274.2L620.1,274.5L622.0,274.5L623.0,274.2L622.5,273.3L620.3,272.1L619.5,270.3L618.3,269.1L616.3,267.5L616.3,266.6L614.7,265.4L612.4,264.1L611.4,263.3L611.2,262.3L611.7,261.1L611.7,259.9L610.0,258.1Z"/>
<path id="f102" d="M570.1,286.7L569.5,288.9L568.8,291.1L568.1,292.0L568.0,293.0L569.8,296.0L571.8,298.5L574.8,301.5L577.1,299.8L576.0,297.9L577.0,297.1L579.0,296.8L579.2,295.5L580.8,296.9L583.4,297.0L584.3,295.6L584.7,293.6L584.4,291.3L582.9,289.6L584.2,286.2L583.5,285.6L581.3,285.8L580.5,284.3L580.7,283.0L580.3,282.8L578.6,283.2L576.8,282.8L575.4,283.0L575.4,286.6L571.1,286.5Z"/>
<path id="f103" d="M574.8,301.5L577.2,304.6L578.4,303.3L579.3,302.8L580.5,303.8L581.2,304.1L582.2,303.0L583.8,303.0L584.0,303.9L585.1,304.4L586.9,302.5L588.6,301.1L589.4,300.2L589.2,297.7L590.5,294.8L591.9,293.3L593.8,291.9L594.2,290.9L594.2,289.9L594.7,288.8L594.6,287.2L594.9,284.6L595.5,282.7L596.4,281.1L596.6,279.4L594.7,279.2L592.7,278.7L590.9,280.2L589.4,283.0L589.2,284.6L586.8,283.9L584.4,283.1L580.7,283.0L580.5,284.3L581.3,285.8L583.5,285.6L584.2,286.2L582.9,289.6L584.4,291.3L584.7,293.6L584.3,295.6L583.4,297.0L580.8,296.9L579.2,295.5L579.0,296.8L577.0,297.1L576.0,297.9L577.1,299.8Z"/>
<path id="f104" d="M578.4,307.7L578.2,308.3L579.7,310.2L580.2,312.2L581.2,315.0L580.2,316.2L580.1,316.8L580.8,318.6L581.6,320.3L582.5,321.4L582.6,323.1L582.3,325.3L581.4,326.6L579.7,328.5L579.0,329.7L578.0,332.4L577.9,333.7L576.8,336.4L576.4,339.0L576.7,340.8L578.1,340.3L579.9,339.8L581.8,339.8L583.6,341.2L584.0,341.0L596.0,340.9L598.1,342.3L605.2,342.7L610.7,341.5L608.7,339.6L606.8,337.2L606.9,327.8L613.1,327.8L612.8,326.8L613.2,325.7L612.7,324.3L613.1,322.9L612.7,322.0L611.4,321.8L609.6,322.3L608.3,322.2L607.5,322.4L607.7,318.9L606.7,317.8L606.5,316.0L606.9,314.3L606.3,313.1L606.3,311.2L602.7,311.3L602.9,310.2L601.4,310.2L601.3,310.7L599.4,310.9L598.7,312.6L598.3,313.3L596.6,312.9L595.6,313.3L593.7,313.5L592.6,312.0L591.9,311.0L591.0,309.3L590.3,307.1L581.6,307.0L580.5,307.4L579.7,307.3Z"/>
<path id="f105" d="M577.2,304.6L578.0,306.8L578.8,306.5L578.9,305.2L579.4,304.4L580.5,303.8L579.3,302.8L578.4,303.3Z"/>
<path id="f106" d="M638.9,317.0L637.2,316.1L635.4,315.6L634.2,315.1L632.9,314.3L631.8,314.0L627.8,314.6L627.0,314.9L626.2,316.8L626.8,318.1L626.3,321.6L625.9,324.5L626.7,325.1L628.8,326.2L629.6,325.7L629.9,328.9L627.6,328.9L626.4,327.2L625.3,326.0L623.0,325.5L622.3,324.0L620.5,324.9L618.2,324.5L617.2,323.2L615.3,322.9L613.9,323.0L613.8,322.1L612.7,322.0L613.1,322.9L612.7,324.3L613.2,325.7L612.8,326.8L613.1,327.8L606.9,327.8L606.8,337.2L608.7,339.6L610.7,341.5L613.1,340.8L615.0,341.0L616.2,341.9L616.7,342.1L620.0,342.4L621.0,342.8L622.0,342.7L623.6,340.8L626.2,338.4L627.3,338.1L627.6,337.1L629.3,335.9L631.5,335.5L631.3,333.4L640.2,331.0L638.7,330.2L639.6,327.5L640.5,326.5L639.9,324.0L640.6,321.6L641.1,320.8L640.3,318.3Z"/>
<path id="f107" d="M631.5,335.5L629.3,335.9L627.6,337.1L627.3,338.1L626.2,338.4L623.6,340.8L622.0,342.7L621.0,342.8L620.0,342.4L616.7,342.1L617.9,344.5L618.5,345.0L619.4,346.7L622.8,350.0L624.0,350.3L624.0,351.3L624.9,353.2L627.2,353.6L629.1,355.0L630.3,355.0L631.7,355.5L632.7,355.2L634.3,355.4L637.4,352.1L638.2,350.0L638.6,349.7L638.9,348.0L638.5,347.1L638.6,344.9L639.2,342.8L639.2,339.1L637.6,338.1L636.2,337.9L635.6,337.2L634.2,336.6L631.7,336.6Z"/>
<path id="f108" d="M639.1,368.7L639.4,367.2L638.6,367.0L638.3,365.7L639.6,364.6L643.2,363.0L645.6,362.0L646.9,361.0L647.3,359.8L646.6,359.3L647.1,357.9L647.2,355.0L646.7,355.1L646.6,354.2L646.1,352.5L644.6,350.3L644.9,348.1L646.1,347.5L648.2,345.4L649.3,344.8L652.7,341.7L656.0,340.2L658.7,339.1L660.6,337.3L661.7,335.2L662.6,333.1L662.1,331.7L662.0,327.1L661.6,324.5L661.7,321.5L661.3,320.2L658.9,321.9L655.7,323.1L653.9,323.0L652.8,323.9L650.8,323.9L650.0,324.3L646.4,323.5L644.2,323.7L643.4,326.0L644.2,329.8L645.3,329.8L646.3,330.7L647.6,332.9L647.8,336.7L646.5,337.3L645.6,339.3L643.7,337.5L643.5,335.4L644.1,334.1L643.9,332.9L642.7,332.1L642.0,332.4L640.2,331.0L631.3,333.4L631.5,335.5L631.7,336.6L634.2,336.6L635.6,337.2L636.2,337.9L637.6,338.1L639.2,339.1L639.2,342.8L638.6,344.9L638.5,347.1L638.9,348.0L638.6,349.7L638.2,350.0L637.4,352.1L634.3,355.4L635.7,359.6L636.4,361.7L635.9,365.0L636.2,366.1L636.9,368.7Z"/>
<path id="f109" d="M576.7,340.8L576.9,343.1L579.3,346.0L580.0,347.8L581.5,351.4L583.0,353.8L584.2,355.0L584.6,356.7L584.6,360.2L585.6,364.7L586.3,366.9L587.0,369.8L588.1,371.9L590.3,374.2L591.8,372.7L592.9,373.5L593.4,374.7L594.8,375.0L596.6,375.5L598.2,375.3L600.8,373.8L600.9,362.9L600.9,354.3L603.8,354.1L603.9,343.6L606.1,343.5L610.6,342.5L611.7,343.7L613.6,342.6L614.5,342.6L616.2,341.9L615.0,341.0L613.1,340.8L610.7,341.5L605.2,342.7L598.1,342.3L596.0,340.9L584.0,341.0L583.6,341.2L581.8,339.8L579.9,339.8L578.1,340.3Z"/>
<path id="f110" d="M616.7,342.1L616.2,341.9L614.5,342.6L613.6,342.6L611.7,343.7L610.6,342.5L606.1,343.5L603.9,343.6L603.8,354.1L600.9,354.3L600.9,362.9L601.7,363.3L603.4,366.1L603.1,367.9L603.8,369.0L605.9,368.7L607.4,367.4L608.8,366.5L609.5,365.1L611.0,364.4L612.2,364.7L613.6,365.6L616.0,365.7L617.9,365.0L618.2,364.1L618.7,362.7L620.4,362.5L621.2,361.3L622.2,359.3L624.9,357.2L629.1,355.0L627.2,353.6L624.9,353.2L624.0,351.3L624.0,350.3L622.8,350.0L619.4,346.7L618.5,345.0L617.9,344.5Z"/>
<path id="f111" d="M590.3,374.2L592.5,378.0L594.0,380.5L595.9,383.3L596.0,385.5L595.0,386.1L596.0,388.0L596.0,389.8L596.4,390.6L596.5,390.2L597.8,391.5L598.8,391.5L600.0,392.6L601.4,392.5L603.2,391.4L605.7,390.9L608.8,389.8L610.0,389.9L611.8,389.5L615.0,390.1L616.5,389.6L618.3,390.0L618.6,389.2L620.2,389.0L623.2,387.9L625.5,386.5L627.6,384.8L630.9,381.7L632.6,379.6L633.4,378.1L634.7,376.6L635.2,376.2L637.2,374.7L638.0,373.3L638.4,370.9L639.1,368.7L636.9,368.7L636.3,370.0L634.5,370.3L632.8,368.7L632.8,367.7L633.6,366.6L633.8,365.7L634.7,365.5L636.2,366.1L635.9,365.0L636.4,361.7L635.7,359.6L634.3,355.4L632.7,355.2L631.7,355.5L630.3,355.0L629.1,355.0L624.9,357.2L622.2,359.3L621.2,361.3L620.4,362.5L618.7,362.7L618.2,364.1L617.9,365.0L616.0,365.7L613.6,365.6L612.2,364.7L611.0,364.4L609.5,365.1L608.8,366.5L607.4,367.4L605.9,368.7L603.8,369.0L603.1,367.9L603.4,366.1L601.7,363.3L600.9,362.9L600.8,373.8L598.2,375.3L596.6,375.5L594.8,375.0L593.4,374.7L592.9,373.5L591.8,372.7ZM627.7,375.3L628.8,376.2L627.8,377.6L627.3,378.6L625.7,379.0L625.1,380.0L624.1,380.3L621.9,378.0L623.4,376.1L625.0,375.0L626.4,374.4Z"/>
<path id="f112" d="M688.5,326.5L687.5,325.3L686.5,326.6L686.5,328.4L684.8,330.4L683.6,330.1L684.0,331.3L683.1,332.8L680.7,334.6L679.0,336.3L677.7,336.4L676.6,336.9L674.9,337.5L673.5,337.6L673.1,339.5L672.0,341.1L672.3,343.9L672.8,345.7L673.5,347.1L673.2,349.0L671.9,351.3L671.8,352.2L670.5,352.8L669.9,354.9L670.2,357.0L671.3,359.3L671.4,362.0L672.3,363.5L674.6,364.6L676.3,365.3L678.9,364.1L681.3,363.4L682.7,360.0L683.8,355.9L685.6,350.3L687.1,346.2L688.2,342.7L688.4,340.3L689.2,339.6L689.5,338.3L688.9,336.1L689.5,335.2L690.5,337.0L691.0,336.1L691.3,334.7L690.6,333.3L690.1,329.8L689.3,327.8Z"/>
<path id="f113" d="M278.9,242.7L280.1,241.6L280.6,240.9L281.0,239.3L280.8,237.6L281.4,236.3L280.8,235.5L280.8,235.0L280.2,235.1L279.2,236.9L278.6,236.5L278.3,236.6L278.3,237.1L278.3,239.4L278.1,242.7Z"/>
<path id="f114" d="M336.3,322.1L338.9,326.8L338.3,327.8L338.1,329.9L338.0,332.4L336.9,333.9L337.4,335.0L336.7,336.0L338.0,338.5L336.2,341.6L337.6,343.7L338.0,345.8L339.6,347.1L338.6,349.9L340.2,353.2L341.4,357.3L343.5,356.9L346.0,354.2L349.8,354.9L351.6,357.1L352.7,354.7L356.1,354.8L356.6,355.4L357.8,350.3L359.2,347.7L367.1,346.9L369.9,348.4L369.9,349.3L370.9,348.7L370.6,347.0L371.4,345.7L371.9,343.4L371.2,341.6L369.6,340.7L369.3,339.6L369.7,337.9L364.0,337.7L362.9,334.3L363.8,334.3L363.8,333.0L363.2,332.1L363.0,330.4L361.3,329.5L359.5,329.6L358.2,328.7L356.2,328.1L355.1,327.0L351.7,326.5L348.5,323.9L348.8,321.9L348.4,320.8L348.7,318.5L344.8,319.0L343.3,320.2L340.7,321.3L340.1,322.2L338.5,322.3Z"/>
<path id="f115" d="M523.7,130.5L525.3,128.5L522.1,126.7L519.6,126.8L520.2,128.4L519.6,130.0L521.4,129.9Z"/>
<path id="f116" d="M524.2,120.8L523.8,121.9L525.3,123.4L525.5,126.3L527.1,124.9L528.0,125.7L527.0,127.0L527.7,127.8L531.3,128.3L533.3,130.2L532.9,131.9L528.5,131.6L527.9,133.6L529.5,135.2L526.4,136.1L527.3,137.3L531.9,137.7L529.3,138.4L524.9,141.5L526.5,142.1L528.6,140.9L531.3,141.3L533.2,139.9L534.6,140.5L539.7,139.7L543.6,139.7L546.3,138.1L545.1,136.6L546.6,135.7L547.0,133.9L543.4,133.3L542.5,132.1L540.7,128.8L538.7,128.3L535.8,124.5L532.8,124.3L535.4,121.6L536.2,119.3L532.9,119.2L530.0,119.6L533.1,116.4L529.5,116.7L527.2,116.4L524.9,118.8L524.5,119.9L525.1,120.7Z"/>
<path id="f117" d="M521.4,119.0L523.7,116.8L522.2,118.0Z"/>
<path id="f118" d="M537.3,112.7L538.7,111.8L539.3,110.2L537.6,110.9Z"/>
<path id="f119" d="M531.9,115.7L534.3,115.8L534.0,114.8Z"/>
<path id="f120" d="M524.2,120.8L524.5,119.9L524.0,119.3L522.2,120.1L523.4,121.0Z"/>
<path id="f121" d="M574.6,115.8L576.9,120.0L579.4,123.3L580.3,126.1L583.7,126.0L585.4,123.6L589.0,123.9L590.7,121.1L591.8,116.2L594.9,115.5L597.6,112.2L594.7,110.5L592.6,108.4L594.8,104.3L600.5,101.7L605.2,99.4L604.7,97.5L607.6,95.5L612.7,94.6L611.7,93.5L611.6,88.9L607.0,86.9L603.1,85.5L601.2,85.6L600.8,87.5L595.2,87.1L594.4,88.7L591.6,88.7L589.7,90.8L586.7,94.1L582.1,98.2L583.2,99.3L582.1,100.4L579.2,100.4L577.3,103.2L577.5,107.1L579.4,108.6L578.4,112.0L575.9,114.1Z"/>
<path id="f122" d="M595.5,121.0L596.4,121.4L597.9,120.1L599.1,118.6L597.6,118.5Z"/>
<path id="f123" d="M590.5,123.6L592.0,121.3L592.6,120.2L591.4,122.2Z"/>
<path id="f124" d="M571.3,127.2L570.5,125.8L572.7,123.7L573.6,124.0L574.3,122.9L572.7,122.4L572.3,121.6L573.2,120.6L573.3,119.1L570.9,119.9L569.9,120.8L567.3,120.9L566.4,121.8L565.9,122.6L566.0,125.6L567.2,127.3L569.5,127.7Z"/>
<path id="f125" d="M579.5,125.4L578.6,123.9L574.2,124.9L574.7,126.1L577.8,127.8Z"/>
<path id="f126" d="M571.0,125.7L571.9,127.0L573.9,126.9L573.8,125.5Z"/>
<path id="f127" d="M582.2,145.3L581.2,146.6L580.1,147.0L580.5,148.9L580.2,149.4L579.3,148.8L577.9,148.7L575.8,149.3L573.2,149.1L572.8,149.9L571.3,149.1L570.4,149.2L570.5,149.8L570.0,150.5L571.4,151.1L572.9,151.1L574.7,151.6L575.0,151.0L577.9,150.5L578.6,151.5L582.8,152.3L585.3,152.5L586.8,151.8L589.4,151.8L589.9,151.3L590.9,149.3L590.3,148.7L592.0,148.7L592.2,147.5L591.9,146.5L592.2,146.1L590.8,145.5L589.4,145.7L587.1,144.8L586.1,145.0L584.4,146.2Z"/>
<path id="f128" d="M564.0,160.6L565.2,160.4L566.9,159.0L568.3,158.6L570.7,159.6L572.2,159.9L573.1,162.8L575.1,164.5L577.8,166.5L580.1,167.8L582.3,168.0L583.6,169.2L585.5,169.7L586.4,171.0L587.6,171.4L588.5,172.9L589.7,174.6L589.0,175.2L588.4,176.8L588.4,177.7L589.6,177.4L591.2,174.9L592.4,174.8L592.8,173.2L590.7,172.1L591.9,170.2L594.5,170.7L596.1,172.1L596.7,171.0L596.4,170.4L593.8,168.9L591.7,168.0L589.0,166.9L589.8,166.4L589.1,165.7L586.8,165.7L583.5,163.3L582.0,160.9L579.2,159.4L578.3,157.9L578.6,157.1L578.5,155.6L580.9,154.5L582.6,155.2L583.2,155.0L582.5,153.7L582.8,152.3L578.6,151.5L577.9,150.5L575.0,151.0L574.7,151.6L572.9,151.1L572.6,152.4L571.3,152.9L569.2,152.5L568.5,153.7L567.1,153.7L566.6,153.3L565.0,154.3L563.5,154.4L562.2,153.8L562.1,154.6L563.0,155.7L562.0,156.6L562.7,158.9L564.3,159.3Z"/>
<path id="f129" d="M587.9,176.7L585.7,177.0L582.6,177.3L579.2,177.0L578.8,178.6L582.9,180.1L584.4,180.4L586.7,181.5L587.3,180.0L586.8,179.1Z"/>
<path id="f130" d="M569.2,167.9L567.8,168.8L566.1,168.7L566.8,170.4L566.9,174.0L568.1,174.7L569.2,173.7L570.6,173.9L571.0,170.0Z"/>
<path id="f131" d="M515.3,165.9L515.4,166.9L516.0,168.0L516.1,169.3L515.4,171.0L515.2,172.2L514.0,173.3L513.8,175.2L514.5,176.3L515.9,176.6L516.1,178.4L515.7,180.7L517.2,180.4L518.8,180.8L520.0,180.1L519.7,179.1L520.8,178.0L521.2,177.2L520.2,176.3L521.0,174.4L519.8,172.6L521.1,172.4L521.2,171.0L521.7,170.5L521.7,168.2L523.1,167.4L522.3,165.9L520.6,165.8L520.1,166.2L518.3,166.2L517.6,164.8L516.4,165.2Z"/>
<path id="f132" d="M802.7,207.3L799.2,207.0L795.9,206.4L793.5,205.1L791.2,204.5L790.2,203.1L788.5,202.6L785.5,200.7L783.2,199.8L781.9,200.5L780.1,201.8L778.9,204.6L781.8,205.7L784.6,207.2L788.4,208.9L792.5,209.2L794.2,210.7L796.4,211.0L800.0,211.7L802.5,211.7L802.8,210.5L802.4,208.6Z"/>
<path id="f133" d="M915.2,178.1L917.3,180.7L915.1,181.2L916.4,184.3L915.8,186.5L916.2,188.1L918.8,187.8L921.2,186.6L923.8,186.0L925.0,184.4L924.9,181.0L924.2,179.1L921.7,175.6L920.0,176.5L917.9,176.6L916.7,178.0L915.4,177.9Z"/>
<path id="f134" d="M915.3,191.3L916.5,191.6L917.4,190.7Z"/>
<path id="f135" d="M959.0,180.0L959.0,176.9L961.7,173.9L961.8,171.5L960.2,167.4L957.0,168.0L955.8,169.8L956.3,173.2L954.4,176.8L952.7,177.9L948.4,180.9L946.4,179.5L943.3,184.7L940.2,184.1L934.3,185.0L932.1,187.0L929.1,188.6L929.5,189.6L932.9,189.5L936.4,188.1L941.6,187.5L941.7,189.7L943.7,190.8L947.9,187.4L953.1,187.3L956.9,185.9L958.4,183.8L957.9,182.3Z"/>
<path id="f136" d="M929.4,189.6L927.6,190.4L924.8,191.3L926.0,193.3L927.9,194.2L927.1,196.9L928.6,198.0L930.5,196.8L932.5,191.7L931.6,190.4Z"/>
<path id="f137" d="M938.1,188.2L936.9,189.4L935.2,189.1L933.6,190.8L933.5,192.2L935.4,193.1L936.2,191.3L937.8,190.6L939.0,191.6L940.6,189.8L940.3,188.8Z"/>
<path id="f138" d="M967.7,159.2L965.4,158.2L961.9,155.1L961.1,157.4L960.2,161.5L957.0,161.7L955.6,163.9L956.0,166.9L959.3,166.8L960.9,163.6L965.5,165.6L968.1,162.7L972.5,161.9L971.9,158.6L969.8,159.8Z"/>
<path id="f139" d="M919.7,212.6L921.5,210.5L920.3,211.4Z"/>
<path id="f140" d="M576.0,191.8L574.9,191.3L574.1,189.9L572.6,189.9L572.0,188.3L574.0,186.8L574.4,184.2L573.3,183.5L573.4,182.1L574.8,180.7L574.6,180.1L572.1,181.2L572.2,179.7L570.1,179.3L566.9,180.5L566.3,182.0L566.8,184.9L566.1,187.3L564.2,188.9L564.5,191.2L566.9,192.9L567.0,193.6L568.8,194.8L570.0,200.1L571.5,199.5L571.8,198.2L571.4,197.0L573.5,195.8L574.4,194.9L575.8,194.0Z"/>
<path id="f141" d="M649.8,247.1L649.3,249.6L648.1,252.5L646.3,254.0L645.0,256.2L644.7,257.5L643.3,258.3L642.5,261.4L642.5,264.1L642.1,264.9L640.5,265.0L639.5,266.7L641.3,266.9L642.8,268.3L643.3,269.5L644.7,270.2L646.4,273.4L648.0,273.9L648.0,275.6L649.0,276.6L651.0,276.6L654.8,279.1L655.7,279.1L656.4,279.0L657.0,279.4L659.0,279.6L659.9,278.4L662.6,277.1L663.8,278.1L665.8,278.1L666.6,277.2L668.5,277.1L671.1,275.0L675.0,274.9L683.4,266.1L680.9,266.1L671.2,262.6L670.1,261.5L669.0,260.1L667.9,258.5L668.5,257.4L667.9,256.9L667.2,257.1L665.5,257.0L665.5,256.1L665.2,255.3L666.2,253.9L667.3,252.6L666.3,251.7L665.1,250.0L663.8,249.0L663.0,248.0L660.4,246.8L658.4,246.8L657.7,246.1L655.9,246.8L654.1,245.5L653.2,247.7Z"/>
</defs>
<g transform="translate(0.00,0.00)">
<g fill="#12107f"><use href="#f0"/><use href="#f1"/><use href="#f2"/><use href="#f3"/><use href="#f4"/><use href="#f5"/><use href="#f6"/><use href="#f7"/><use href="#f8"/><use href="#f9"/><use href="#f10"/><use href="#f11"/><use href="#f12"/><use href="#f13"/><use href="#f14"/><use href="#f15"/><use href="#f16"/><use href="#f17"/><use href="#f18"/><use href="#f48"/><use href="#f50"/><use href="#f55"/><use href="#f56"/><use href="#f57"/><use href="#f58"/><use href="#f60"/><use href="#f61"/><use href="#f62"/><use href="#f63"/><use href="#f64"/><use href="#f67"/><use href="#f80"/><use href="#f83"/><use href="#f84"/><use href="#f85"/><use href="#f88"/><use href="#f111"/></g>
<g fill="#2370a6"><use href="#f19"/><use href="#f20"/><use href="#f21"/><use href="#f22"/><use href="#f23"/><use href="#f24"/><use href="#f25"/><use href="#f26"/><use href="#f27"/><use href="#f28"/><use href="#f29"/><use href="#f30"/><use href="#f31"/><use href="#f32"/><use href="#f33"/><use href="#f34"/><use href="#f35"/><use href="#f36"/><use href="#f37"/><use href="#f38"/><use href="#f39"/><use href="#f40"/><use href="#f41"/><use href="#f42"/><use href="#f43"/><use href="#f44"/><use href="#f45"/><use href="#f46"/><use href="#f47"/><use href="#f96"/><use href="#f97"/><use href="#f98"/><use href="#f104"/><use href="#f105"/></g>
<g fill="#41b86a"><use href="#f49"/><use href="#f71"/><use href="#f81"/><use href="#f87"/><use href="#f91"/><use href="#f107"/></g>
<g fill="#2a9e9c"><use href="#f51"/><use href="#f54"/><use href="#f72"/><use href="#f73"/><use href="#f74"/><use href="#f75"/><use href="#f76"/><use href="#f77"/><use href="#f86"/><use href="#f106"/><use href="#f112"/></g>
<g fill="#70e834"><use href="#f52"/><use href="#f59"/><use href="#f90"/><use href="#f103"/><use href="#f109"/></g>
<g fill="#b3f35c"><use href="#f53"/><use href="#f68"/><use href="#f69"/><use href="#f70"/><use href="#f82"/><use href="#f95"/><use href="#f101"/><use href="#f102"/><use href="#f110"/></g>
<g fill="#243f97"><use href="#f65"/><use href="#f66"/><use href="#f78"/><use href="#f79"/><use href="#f89"/><use href="#f94"/><use href="#f108"/></g>
<g fill="#3dd530"><use href="#f92"/><use href="#f93"/><use href="#f99"/><use href="#f100"/></g>
<use href="#world"/>
</g>
<g transform="translate(1083.10,0.20)">
<g fill="#12107f"><use href="#f0"/><use href="#f1"/><use href="#f2"/><use href="#f3"/><use href="#f4"/><use href="#f5"/><use href="#f6"/><use href="#f7"/><use href="#f8"/><use href="#f9"/><use href="#f10"/><use href="#f11"/><use href="#f12"/><use href="#f13"/><use href="#f14"/><use href="#f15"/><use href="#f16"/><use href="#f17"/><use href="#f18"/><use href="#f48"/><use href="#f50"/><use href="#f55"/><use href="#f56"/><use href="#f57"/><use href="#f58"/><use href="#f115"/><use href="#f116"/><use href="#f117"/><use href="#f118"/><use href="#f119"/><use href="#f120"/><use href="#f64"/><use href="#f67"/><use href="#f128"/><use href="#f129"/><use href="#f130"/><use href="#f60"/><use href="#f61"/><use href="#f62"/><use href="#f63"/><use href="#f78"/><use href="#f79"/><use href="#f86"/><use href="#f83"/><use href="#f84"/><use href="#f85"/><use href="#f88"/><use href="#f89"/><use href="#f111"/></g>
<g fill="#2370a6"><use href="#f19"/><use href="#f20"/><use href="#f21"/><use href="#f22"/><use href="#f23"/><use href="#f24"/><use href="#f25"/><use href="#f26"/><use href="#f27"/><use href="#f28"/><use href="#f29"/><use href="#f30"/><use href="#f31"/><use href="#f32"/><use href="#f33"/><use href="#f34"/><use href="#f35"/><use href="#f36"/><use href="#f37"/><use href="#f38"/><use href="#f39"/><use href="#f40"/><use href="#f41"/><use href="#f42"/><use href="#f43"/><use href="#f44"/><use href="#f45"/><use href="#f46"/><use href="#f47"/><use href="#f54"/><use href="#f124"/><use href="#f125"/><use href="#f126"/><use href="#f65"/><use href="#f135"/><use href="#f136"/><use href="#f137"/><use href="#f138"/><use href="#f139"/><use href="#f94"/><use href="#f108"/></g>
<g fill="#2a9e9c"><use href="#f49"/><use href="#f51"/><use href="#f66"/><use href="#f73"/><use href="#f74"/><use href="#f75"/><use href="#f76"/><use href="#f77"/><use href="#f141"/><use href="#f96"/><use href="#f97"/><use href="#f98"/><use href="#f104"/><use href="#f105"/></g>
<g fill="#b3f35c"><use href="#f113"/><use href="#f53"/><use href="#f59"/><use href="#f131"/><use href="#f82"/><use href="#f90"/><use href="#f95"/><use href="#f102"/><use href="#f103"/><use href="#f109"/><use href="#f110"/></g>
<g fill="#70e834"><use href="#f52"/><use href="#f68"/><use href="#f69"/><use href="#f70"/><use href="#f92"/><use href="#f93"/><use href="#f101"/><use href="#f100"/></g>
<g fill="#243f97"><use href="#f114"/><use href="#f80"/><use href="#f133"/><use href="#f134"/></g>
<g fill="#3dd530"><use href="#f121"/><use href="#f122"/><use href="#f123"/><use href="#f71"/><use href="#f87"/><use href="#f81"/><use href="#f140"/><use href="#f91"/><use href="#f99"/><use href="#f107"/></g>
<g fill="#41b86a"><use href="#f72"/><use href="#f127"/><use href="#f132"/><use href="#f106"/><use href="#f112"/></g>
<use href="#world"/>
</g>
<g transform="translate(-5.50,484.70)">
<g fill="#720505"><use href="#f0"/><use href="#f1"/><use href="#f2"/><use href="#f3"/><use href="#f4"/><use href="#f5"/><use href="#f6"/><use href="#f7"/><use href="#f8"/><use href="#f9"/><use href="#f10"/><use href="#f11"/><use href="#f12"/><use href="#f13"/><use href="#f14"/><use href="#f15"/><use href="#f16"/><use href="#f17"/><use href="#f18"/><use href="#f48"/><use href="#f83"/><use href="#f84"/><use href="#f85"/></g>
<g fill="#f0a232"><use href="#f19"/><use href="#f20"/><use href="#f21"/><use href="#f22"/><use href="#f23"/><use href="#f24"/><use href="#f25"/><use href="#f26"/><use href="#f27"/><use href="#f28"/><use href="#f29"/><use href="#f30"/><use href="#f31"/><use href="#f32"/><use href="#f33"/><use href="#f34"/><use href="#f35"/><use href="#f36"/><use href="#f37"/><use href="#f38"/><use href="#f39"/><use href="#f40"/><use href="#f41"/><use href="#f42"/><use href="#f43"/><use href="#f44"/><use href="#f45"/><use href="#f46"/><use href="#f47"/><use href="#f64"/><use href="#f67"/><use href="#f97"/></g>
<g fill="#d5842a"><use href="#f50"/><use href="#f55"/><use href="#f56"/><use href="#f57"/><use href="#f58"/><use href="#f80"/><use href="#f88"/><use href="#f104"/><use href="#f105"/><use href="#f108"/></g>
<g fill="#f8ba42"><use href="#f51"/><use href="#f72"/><use href="#f94"/><use href="#f96"/><use href="#f98"/><use href="#f106"/><use href="#f107"/><use href="#f112"/></g>
<g fill="#ffffcb"><use href="#f52"/><use href="#f53"/><use href="#f59"/><use href="#f68"/><use href="#f69"/><use href="#f70"/><use href="#f71"/><use href="#f81"/><use href="#f82"/><use href="#f87"/><use href="#f90"/><use href="#f92"/><use href="#f93"/><use href="#f95"/><use href="#f100"/><use href="#f101"/><use href="#f102"/><use href="#f103"/><use href="#f109"/><use href="#f110"/></g>
<g fill="#fbd156"><use href="#f54"/><use href="#f65"/><use href="#f66"/><use href="#f73"/><use href="#f74"/><use href="#f75"/><use href="#f76"/><use href="#f77"/><use href="#f78"/><use href="#f79"/><use href="#f86"/><use href="#f91"/><use href="#f99"/></g>
<g fill="#b45b1d"><use href="#f60"/><use href="#f61"/><use href="#f62"/><use href="#f63"/><use href="#f89"/></g>
<g fill="#923912"><use href="#f111"/></g>
<use href="#world"/>
</g>
<g transform="translate(1082.90,479.00)">
<g fill="#720505"><use href="#f0"/><use href="#f1"/><use href="#f2"/><use href="#f3"/><use href="#f4"/><use href="#f5"/><use href="#f6"/><use href="#f7"/><use href="#f8"/><use href="#f9"/><use href="#f10"/><use href="#f11"/><use href="#f12"/><use href="#f13"/><use href="#f14"/><use href="#f15"/><use href="#f16"/><use href="#f17"/><use href="#f18"/><use href="#f48"/><use href="#f64"/><use href="#f60"/><use href="#f61"/><use href="#f62"/><use href="#f63"/><use href="#f83"/><use href="#f84"/><use href="#f85"/></g>
<g fill="#d5842a"><use href="#f19"/><use href="#f20"/><use href="#f21"/><use href="#f22"/><use href="#f23"/><use href="#f24"/><use href="#f25"/><use href="#f26"/><use href="#f27"/><use href="#f28"/><use href="#f29"/><use href="#f30"/><use href="#f31"/><use href="#f32"/><use href="#f33"/><use href="#f34"/><use href="#f35"/><use href="#f36"/><use href="#f37"/><use href="#f38"/><use href="#f39"/><use href="#f40"/><use href="#f41"/><use href="#f42"/><use href="#f43"/><use href="#f44"/><use href="#f45"/><use href="#f46"/><use href="#f47"/><use href="#f114"/><use href="#f55"/><use href="#f56"/><use href="#f57"/><use href="#f58"/><use href="#f80"/><use href="#f88"/><use href="#f133"/><use href="#f134"/><use href="#f135"/><use href="#f136"/><use href="#f137"/><use href="#f138"/><use href="#f139"/><use href="#f104"/><use href="#f105"/><use href="#f108"/></g>
<g fill="#ffffcb"><use href="#f49"/><use href="#f52"/><use href="#f53"/><use href="#f59"/><use href="#f121"/><use href="#f122"/><use href="#f123"/><use href="#f68"/><use href="#f69"/><use href="#f70"/><use href="#f71"/><use href="#f131"/><use href="#f87"/><use href="#f81"/><use href="#f82"/><use href="#f140"/><use href="#f90"/><use href="#f92"/><use href="#f93"/><use href="#f101"/><use href="#f95"/><use href="#f100"/><use href="#f102"/><use href="#f103"/><use href="#f109"/><use href="#f110"/></g>
<g fill="#b45b1d"><use href="#f50"/><use href="#f115"/><use href="#f116"/><use href="#f117"/><use href="#f118"/><use href="#f119"/><use href="#f120"/><use href="#f128"/><use href="#f129"/><use href="#f130"/><use href="#f86"/></g>
<g fill="#f8ba42"><use href="#f51"/><use href="#f54"/><use href="#f72"/><use href="#f67"/><use href="#f94"/><use href="#f96"/><use href="#f98"/><use href="#f106"/><use href="#f107"/><use href="#f112"/></g>
<g fill="#fbd156"><use href="#f124"/><use href="#f125"/><use href="#f126"/><use href="#f65"/><use href="#f66"/><use href="#f127"/><use href="#f73"/><use href="#f74"/><use href="#f75"/><use href="#f76"/><use href="#f77"/><use href="#f132"/><use href="#f91"/><use href="#f141"/><use href="#f99"/></g>
<g fill="#923912"><use href="#f78"/><use href="#f79"/><use href="#f89"/><use href="#f111"/></g>
<g fill="#f0a232"><use href="#f97"/></g>
<use href="#world"/>
</g>
<g transform="translate(-8.50,954.60)">
<g fill="#e9151d"><use href="#f0"/><use href="#f1"/><use href="#f2"/><use href="#f3"/><use href="#f4"/><use href="#f5"/><use href="#f6"/><use href="#f7"/><use href="#f8"/><use href="#f9"/><use href="#f10"/><use href="#f11"/><use href="#f12"/><use href="#f13"/><use href="#f14"/><use href="#f15"/><use href="#f16"/><use href="#f17"/><use href="#f18"/><use href="#f48"/><use href="#f83"/><use href="#f84"/><use href="#f85"/><use href="#f111"/></g>
<g fill="#f9f96a"><use href="#f19"/><use href="#f20"/><use href="#f21"/><use href="#f22"/><use href="#f23"/><use href="#f24"/><use href="#f25"/><use href="#f26"/><use href="#f27"/><use href="#f28"/><use href="#f29"/><use href="#f30"/><use href="#f31"/><use href="#f32"/><use href="#f33"/><use href="#f34"/><use href="#f35"/><use href="#f36"/><use href="#f37"/><use href="#f38"/><use href="#f39"/><use href="#f40"/><use href="#f41"/><use href="#f42"/><use href="#f43"/><use href="#f44"/><use href="#f45"/><use href="#f46"/><use href="#f47"/><use href="#f50"/><use href="#f51"/><use href="#f64"/><use href="#f65"/><use href="#f66"/><use href="#f80"/><use href="#f89"/><use href="#f98"/><use href="#f104"/><use href="#f105"/><use href="#f106"/><use href="#f108"/><use href="#f112"/></g>
<g fill="#6fa9b9"><use href="#f49"/><use href="#f53"/><use href="#f59"/><use href="#f68"/><use href="#f69"/><use href="#f70"/><use href="#f82"/><use href="#f95"/><use href="#f101"/><use href="#f102"/><use href="#f103"/><use href="#f109"/><use href="#f110"/></g>
<g fill="#9ec59b"><use href="#f52"/><use href="#f71"/><use href="#f81"/><use href="#f90"/><use href="#f92"/><use href="#f93"/><use href="#f100"/><use href="#f107"/></g>
<g fill="#d0df83"><use href="#f54"/><use href="#f72"/><use href="#f73"/><use href="#f74"/><use href="#f75"/><use href="#f76"/><use href="#f77"/><use href="#f78"/><use href="#f79"/><use href="#f86"/><use href="#f87"/><use href="#f91"/><use href="#f94"/><use href="#f96"/><use href="#f97"/><use href="#f99"/></g>
<g fill="#f98f3b"><use href="#f55"/><use href="#f56"/><use href="#f57"/><use href="#f58"/><use href="#f88"/></g>
<g fill="#f9c252"><use href="#f60"/><use href="#f61"/><use href="#f62"/><use href="#f63"/><use href="#f67"/></g>
<use href="#world"/>
</g>
<g transform="translate(1082.90,951.20)">
<g fill="#e9151d"><use href="#f0"/><use href="#f1"/><use href="#f2"/><use href="#f3"/><use href="#f4"/><use href="#f5"/><use href="#f6"/><use href="#f7"/><use href="#f8"/><use href="#f9"/><use href="#f10"/><use href="#f11"/><use href="#f12"/><use href="#f13"/><use href="#f14"/><use href="#f15"/><use href="#f16"/><use href="#f17"/><use href="#f18"/><use href="#f48"/><use href="#f64"/><use href="#f83"/><use href="#f84"/><use href="#f85"/><use href="#f111"/></g>
<g fill="#f98f3b"><use href="#f19"/><use href="#f20"/><use href="#f21"/><use href="#f22"/><use href="#f23"/><use href="#f24"/><use href="#f25"/><use href="#f26"/><use href="#f27"/><use href="#f28"/><use href="#f29"/><use href="#f30"/><use href="#f31"/><use href="#f32"/><use href="#f33"/><use href="#f34"/><use href="#f35"/><use href="#f36"/><use href="#f37"/><use href="#f38"/><use href="#f39"/><use href="#f40"/><use href="#f41"/><use href="#f42"/><use href="#f43"/><use href="#f44"/><use href="#f45"/><use href="#f46"/><use href="#f47"/><use href="#f50"/><use href="#f114"/><use href="#f55"/><use href="#f56"/><use href="#f57"/><use href="#f58"/><use href="#f128"/><use href="#f129"/><use href="#f130"/><use href="#f78"/><use href="#f79"/><use href="#f86"/><use href="#f88"/><use href="#f135"/><use href="#f136"/><use href="#f137"/><use href="#f138"/><use href="#f139"/><use href="#f89"/></g>
<g fill="#9ec59b"><use href="#f49"/><use href="#f52"/><use href="#f53"/><use href="#f68"/><use href="#f69"/><use href="#f70"/><use href="#f71"/><use href="#f81"/><use href="#f140"/><use href="#f90"/><use href="#f92"/><use href="#f93"/><use href="#f101"/><use href="#f100"/><use href="#f107"/></g>
<g fill="#6fa9b9"><use href="#f113"/><use href="#f59"/><use href="#f131"/><use href="#f82"/><use href="#f95"/><use href="#f102"/><use href="#f103"/><use href="#f109"/><use href="#f110"/></g>
<g fill="#f9f96a"><use href="#f51"/><use href="#f54"/><use href="#f65"/><use href="#f66"/><use href="#f73"/><use href="#f74"/><use href="#f75"/><use href="#f76"/><use href="#f77"/><use href="#f80"/><use href="#f98"/><use href="#f104"/><use href="#f105"/><use href="#f106"/><use href="#f108"/><use href="#f112"/></g>
<g fill="#f05c29"><use href="#f115"/><use href="#f116"/><use href="#f117"/><use href="#f118"/><use href="#f119"/><use href="#f120"/><use href="#f60"/><use href="#f61"/><use href="#f62"/><use href="#f63"/></g>
<g fill="#d0df83"><use href="#f121"/><use href="#f122"/><use href="#f123"/><use href="#f124"/><use href="#f125"/><use href="#f126"/><use href="#f72"/><use href="#f127"/><use href="#f87"/><use href="#f132"/><use href="#f91"/><use href="#f94"/><use href="#f141"/><use href="#f96"/><use href="#f97"/><use href="#f99"/></g>
<g fill="#f9c252"><use href="#f67"/><use href="#f133"/><use href="#f134"/></g>
<use href="#world"/>
</g>
<g class="lg"><rect x="459.5" y="460.2" width="126.5" height="20.0" fill="#b3f35c"/><rect x="586.0" y="460.2" width="126.5" height="20.0" fill="#70e834"/><rect x="712.5" y="460.2" width="126.1" height="20.0" fill="#3dd530"/><rect x="838.6" y="460.2" width="125.0" height="20.0" fill="#41b86a"/><rect x="963.6" y="460.2" width="126.4" height="20.0" fill="#2a9e9c"/><rect x="1090.0" y="460.2" width="120.4" height="20.0" fill="#2370a6"/><rect x="1210.4" y="460.2" width="125.8" height="20.0" fill="#243f97"/><rect x="1336.2" y="460.2" width="128.4" height="20.0" fill="#12107f"/></g>
<text x="586.7" y="511.7" font-size="24.8" text-anchor="middle">1</text><text x="711.7" y="511.7" font-size="24.8" text-anchor="middle">2</text><text x="843.0" y="511.7" font-size="24.8" text-anchor="middle">5</text><text x="965.8" y="511.7" font-size="24.8" text-anchor="middle">10</text><text x="1090.8" y="511.7" font-size="24.8" text-anchor="middle">15</text><text x="1212.5" y="511.7" font-size="24.8" text-anchor="middle">20</text><text x="1340.8" y="511.7" font-size="24.8" text-anchor="middle">40</text>
<text x="1486.5" y="481.0" font-size="24.8">(million kg)</text>
<g class="lg"><rect x="459.5" y="939.3" width="126.5" height="20.0" fill="#ffffcb"/><rect x="586.0" y="939.3" width="126.5" height="20.0" fill="#fbd156"/><rect x="712.5" y="939.3" width="126.1" height="20.0" fill="#f8ba42"/><rect x="838.6" y="939.3" width="125.0" height="20.0" fill="#f0a232"/><rect x="963.6" y="939.3" width="126.4" height="20.0" fill="#d5842a"/><rect x="1090.0" y="939.3" width="120.4" height="20.0" fill="#b45b1d"/><rect x="1210.4" y="939.3" width="125.8" height="20.0" fill="#923912"/><rect x="1336.2" y="939.3" width="128.4" height="20.0" fill="#720505"/></g>
<text x="592.4" y="985.5" font-size="24.8" text-anchor="middle">0.1</text><text x="717.9" y="985.5" font-size="24.8" text-anchor="middle">0.2</text><text x="848.8" y="985.5" font-size="24.8" text-anchor="middle">0.4</text><text x="971.5" y="985.5" font-size="24.8" text-anchor="middle">0.6</text><text x="1096.5" y="985.5" font-size="24.8" text-anchor="middle">1.0</text><text x="1218.5" y="985.5" font-size="24.8" text-anchor="middle">2.0</text><text x="1346.8" y="985.5" font-size="24.8" text-anchor="middle">3.0</text>
<text x="1486.0" y="955.5" font-size="24.8">(million ha)</text>
<g class="lg"><rect x="459.5" y="1423.3" width="126.5" height="19.9" fill="#6fa9b9"/><rect x="586.0" y="1423.3" width="126.5" height="19.9" fill="#9ec59b"/><rect x="712.5" y="1423.3" width="126.1" height="19.9" fill="#d0df83"/><rect x="838.6" y="1423.3" width="125.0" height="19.9" fill="#f9f96a"/><rect x="963.6" y="1423.3" width="126.4" height="19.9" fill="#f9c252"/><rect x="1090.0" y="1423.3" width="120.4" height="19.9" fill="#f98f3b"/><rect x="1210.4" y="1423.3" width="125.8" height="19.9" fill="#f05c29"/><rect x="1336.2" y="1423.3" width="128.4" height="19.9" fill="#e9151d"/></g>
<text x="584.5" y="1464.3" font-size="24.8" text-anchor="middle">0.2</text><text x="709.0" y="1464.3" font-size="24.8" text-anchor="middle">0.8</text><text x="840.8" y="1464.3" font-size="24.8" text-anchor="middle">2.0</text><text x="963.0" y="1464.3" font-size="24.8" text-anchor="middle">8.0</text><text x="1088.0" y="1464.3" font-size="24.8" text-anchor="middle">10.0</text><text x="1210.0" y="1464.3" font-size="24.8" text-anchor="middle">20.0</text><text x="1338.0" y="1464.3" font-size="24.8" text-anchor="middle">30.0</text>
<text x="1486.0" y="1442.5" font-size="24.8">(100 milion persons)</text>
<text x="439" y="20.5" font-size="24.9">SYS scenario</text>
<text x="1458.5" y="20.5" font-size="24.9">SYS2 scenario</text>
<text x="7.0" y="39.8" font-size="24.8">a</text><text x="1083.5" y="40.6" font-size="24.8">b</text><text x="5.0" y="536.1" font-size="24.8">c</text><text x="1081.5" y="537.0" font-size="24.8">d</text><text x="5.0" y="1013.5" font-size="24.8">e</text><text x="1084.5" y="1013.5" font-size="24.8">f</text>
<text x="15.5" y="469" font-size="24.8">Saved grain N</text>
<text x="15.5" y="957" font-size="24.8">Saved cropland area</text>
<text x="15.5" y="1413.5" font-size="24.8">More feed people</text>
</svg>
</body></html>
